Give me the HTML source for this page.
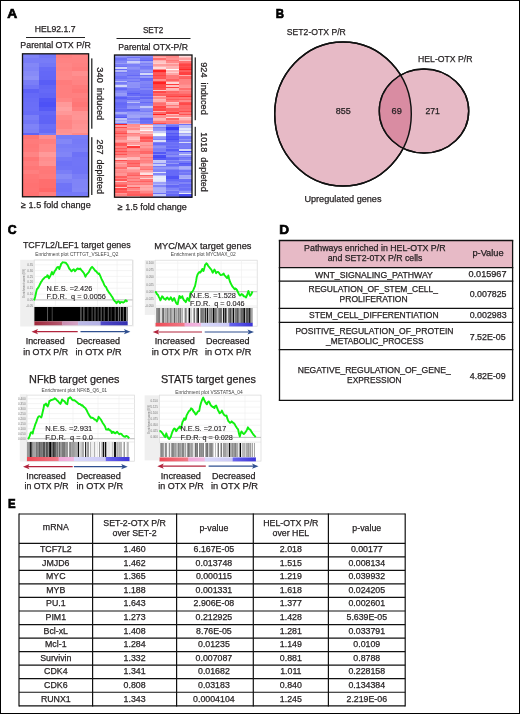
<!DOCTYPE html>
<html><head><meta charset="utf-8"><style>
html,body{margin:0;padding:0;background:#fff;}
body{width:520px;height:714px;overflow:hidden;position:relative;}
svg{position:absolute;left:0;top:0;font-family:"Liberation Sans",sans-serif;will-change:transform;}
svg text{white-space:pre;}
.frame{position:absolute;left:0;top:0;width:518px;height:712px;border:1px solid #000;}
</style></head><body>
<svg width="520" height="714" viewBox="0 0 520 714">
<text x="7.23" y="17.80" font-size="13.5" font-weight="bold" fill="#000" textLength="9.94" lengthAdjust="spacingAndGlyphs" stroke="#000" stroke-width="0.7">A</text>
<text x="275.64" y="18.00" font-size="13.5" font-weight="bold" fill="#000" textLength="8.28" lengthAdjust="spacingAndGlyphs" stroke="#000" stroke-width="0.7">B</text>
<text x="7.71" y="234.10" font-size="13.5" font-weight="bold" fill="#000" textLength="8.82" lengthAdjust="spacingAndGlyphs" stroke="#000" stroke-width="0.7">C</text>
<text x="279.20" y="233.80" font-size="13.5" font-weight="bold" fill="#000" textLength="9.79" lengthAdjust="spacingAndGlyphs" stroke="#000" stroke-width="0.7">D</text>
<text x="7.96" y="507.50" font-size="13.5" font-weight="bold" fill="#000" textLength="7.62" lengthAdjust="spacingAndGlyphs" stroke="#000" stroke-width="0.7">E</text>
<rect x="22.50" y="53.80" width="16.88" height="4.75" fill="#7f83f7" stroke="none" stroke-width="0" shape-rendering="crispEdges"/>
<rect x="22.50" y="58.20" width="16.88" height="4.75" fill="#797df7" stroke="none" stroke-width="0" shape-rendering="crispEdges"/>
<rect x="22.50" y="62.60" width="16.88" height="4.75" fill="#8387f7" stroke="none" stroke-width="0" shape-rendering="crispEdges"/>
<rect x="22.50" y="67.00" width="16.88" height="4.75" fill="#8084f7" stroke="none" stroke-width="0" shape-rendering="crispEdges"/>
<rect x="22.50" y="71.40" width="16.88" height="4.75" fill="#878bf7" stroke="none" stroke-width="0" shape-rendering="crispEdges"/>
<rect x="22.50" y="75.80" width="16.88" height="4.75" fill="#8d91f7" stroke="none" stroke-width="0" shape-rendering="crispEdges"/>
<rect x="22.50" y="80.20" width="16.88" height="4.75" fill="#7a7ef7" stroke="none" stroke-width="0" shape-rendering="crispEdges"/>
<rect x="22.50" y="84.60" width="16.88" height="4.75" fill="#7175f7" stroke="none" stroke-width="0" shape-rendering="crispEdges"/>
<rect x="22.50" y="89.00" width="16.88" height="4.75" fill="#5d61f6" stroke="none" stroke-width="0" shape-rendering="crispEdges"/>
<rect x="22.50" y="93.40" width="16.88" height="4.75" fill="#6569f7" stroke="none" stroke-width="0" shape-rendering="crispEdges"/>
<rect x="22.50" y="97.80" width="16.88" height="4.75" fill="#686cf7" stroke="none" stroke-width="0" shape-rendering="crispEdges"/>
<rect x="22.50" y="102.20" width="16.88" height="4.75" fill="#6a6ef7" stroke="none" stroke-width="0" shape-rendering="crispEdges"/>
<rect x="22.50" y="106.60" width="16.88" height="4.75" fill="#6b6ff7" stroke="none" stroke-width="0" shape-rendering="crispEdges"/>
<rect x="22.50" y="111.00" width="16.88" height="4.75" fill="#686cf7" stroke="none" stroke-width="0" shape-rendering="crispEdges"/>
<rect x="22.50" y="115.40" width="16.88" height="4.75" fill="#797df7" stroke="none" stroke-width="0" shape-rendering="crispEdges"/>
<rect x="22.50" y="119.80" width="16.88" height="4.75" fill="#7377f7" stroke="none" stroke-width="0" shape-rendering="crispEdges"/>
<rect x="22.50" y="124.20" width="16.88" height="4.75" fill="#7f83f7" stroke="none" stroke-width="0" shape-rendering="crispEdges"/>
<rect x="22.50" y="128.60" width="16.88" height="4.75" fill="#7c80f7" stroke="none" stroke-width="0" shape-rendering="crispEdges"/>
<rect x="22.50" y="133.00" width="16.88" height="2.15" fill="#6064f6" stroke="none" stroke-width="0" shape-rendering="crispEdges"/>
<rect x="22.50" y="134.80" width="16.88" height="4.75" fill="#ff7474" stroke="none" stroke-width="0" shape-rendering="crispEdges"/>
<rect x="22.50" y="139.20" width="16.88" height="4.75" fill="#ff7b7b" stroke="none" stroke-width="0" shape-rendering="crispEdges"/>
<rect x="22.50" y="143.60" width="16.88" height="4.75" fill="#ff7878" stroke="none" stroke-width="0" shape-rendering="crispEdges"/>
<rect x="22.50" y="148.00" width="16.88" height="4.75" fill="#ff7a7a" stroke="none" stroke-width="0" shape-rendering="crispEdges"/>
<rect x="22.50" y="152.40" width="16.88" height="4.75" fill="#ff8484" stroke="none" stroke-width="0" shape-rendering="crispEdges"/>
<rect x="22.50" y="156.80" width="16.88" height="4.75" fill="#ff7575" stroke="none" stroke-width="0" shape-rendering="crispEdges"/>
<rect x="22.50" y="161.20" width="16.88" height="4.75" fill="#ff7d7d" stroke="none" stroke-width="0" shape-rendering="crispEdges"/>
<rect x="22.50" y="165.60" width="16.88" height="4.75" fill="#ff7777" stroke="none" stroke-width="0" shape-rendering="crispEdges"/>
<rect x="22.50" y="170.00" width="16.88" height="4.75" fill="#ff7f7f" stroke="none" stroke-width="0" shape-rendering="crispEdges"/>
<rect x="22.50" y="174.40" width="16.88" height="4.75" fill="#ff7676" stroke="none" stroke-width="0" shape-rendering="crispEdges"/>
<rect x="22.50" y="178.80" width="16.88" height="4.75" fill="#ff7474" stroke="none" stroke-width="0" shape-rendering="crispEdges"/>
<rect x="22.50" y="183.20" width="16.88" height="4.75" fill="#ff7272" stroke="none" stroke-width="0" shape-rendering="crispEdges"/>
<rect x="22.50" y="187.60" width="16.88" height="4.75" fill="#ff7373" stroke="none" stroke-width="0" shape-rendering="crispEdges"/>
<rect x="22.50" y="192.00" width="16.88" height="4.75" fill="#ff7272" stroke="none" stroke-width="0" shape-rendering="crispEdges"/>
<rect x="22.50" y="196.40" width="16.88" height="0.75" fill="#ff7373" stroke="none" stroke-width="0" shape-rendering="crispEdges"/>
<rect x="39.02" y="53.80" width="16.88" height="4.75" fill="#7377f7" stroke="none" stroke-width="0" shape-rendering="crispEdges"/>
<rect x="39.02" y="58.20" width="16.88" height="4.75" fill="#787cf7" stroke="none" stroke-width="0" shape-rendering="crispEdges"/>
<rect x="39.02" y="62.60" width="16.88" height="4.75" fill="#7377f7" stroke="none" stroke-width="0" shape-rendering="crispEdges"/>
<rect x="39.02" y="67.00" width="16.88" height="4.75" fill="#676bf7" stroke="none" stroke-width="0" shape-rendering="crispEdges"/>
<rect x="39.02" y="71.40" width="16.88" height="4.75" fill="#6468f7" stroke="none" stroke-width="0" shape-rendering="crispEdges"/>
<rect x="39.02" y="75.80" width="16.88" height="4.75" fill="#6367f6" stroke="none" stroke-width="0" shape-rendering="crispEdges"/>
<rect x="39.02" y="80.20" width="16.88" height="4.75" fill="#595df6" stroke="none" stroke-width="0" shape-rendering="crispEdges"/>
<rect x="39.02" y="84.60" width="16.88" height="4.75" fill="#6266f6" stroke="none" stroke-width="0" shape-rendering="crispEdges"/>
<rect x="39.02" y="89.00" width="16.88" height="4.75" fill="#6569f7" stroke="none" stroke-width="0" shape-rendering="crispEdges"/>
<rect x="39.02" y="93.40" width="16.88" height="4.75" fill="#6165f6" stroke="none" stroke-width="0" shape-rendering="crispEdges"/>
<rect x="39.02" y="97.80" width="16.88" height="4.75" fill="#5256f6" stroke="none" stroke-width="0" shape-rendering="crispEdges"/>
<rect x="39.02" y="102.20" width="16.88" height="4.75" fill="#4d51f6" stroke="none" stroke-width="0" shape-rendering="crispEdges"/>
<rect x="39.02" y="106.60" width="16.88" height="4.75" fill="#565af6" stroke="none" stroke-width="0" shape-rendering="crispEdges"/>
<rect x="39.02" y="111.00" width="16.88" height="4.75" fill="#6569f7" stroke="none" stroke-width="0" shape-rendering="crispEdges"/>
<rect x="39.02" y="115.40" width="16.88" height="4.75" fill="#6064f6" stroke="none" stroke-width="0" shape-rendering="crispEdges"/>
<rect x="39.02" y="119.80" width="16.88" height="4.75" fill="#5f63f6" stroke="none" stroke-width="0" shape-rendering="crispEdges"/>
<rect x="39.02" y="124.20" width="16.88" height="4.75" fill="#6b6ff7" stroke="none" stroke-width="0" shape-rendering="crispEdges"/>
<rect x="39.02" y="128.60" width="16.88" height="4.75" fill="#676bf7" stroke="none" stroke-width="0" shape-rendering="crispEdges"/>
<rect x="39.02" y="133.00" width="16.88" height="2.15" fill="#797df7" stroke="none" stroke-width="0" shape-rendering="crispEdges"/>
<rect x="39.02" y="134.80" width="16.88" height="4.75" fill="#ff8e8e" stroke="none" stroke-width="0" shape-rendering="crispEdges"/>
<rect x="39.02" y="139.20" width="16.88" height="4.75" fill="#ff7f7f" stroke="none" stroke-width="0" shape-rendering="crispEdges"/>
<rect x="39.02" y="143.60" width="16.88" height="4.75" fill="#ff8888" stroke="none" stroke-width="0" shape-rendering="crispEdges"/>
<rect x="39.02" y="148.00" width="16.88" height="4.75" fill="#ff8888" stroke="none" stroke-width="0" shape-rendering="crispEdges"/>
<rect x="39.02" y="152.40" width="16.88" height="4.75" fill="#ff9a9a" stroke="none" stroke-width="0" shape-rendering="crispEdges"/>
<rect x="39.02" y="156.80" width="16.88" height="4.75" fill="#ff8d8d" stroke="none" stroke-width="0" shape-rendering="crispEdges"/>
<rect x="39.02" y="161.20" width="16.88" height="4.75" fill="#ff9292" stroke="none" stroke-width="0" shape-rendering="crispEdges"/>
<rect x="39.02" y="165.60" width="16.88" height="4.75" fill="#ff7a7a" stroke="none" stroke-width="0" shape-rendering="crispEdges"/>
<rect x="39.02" y="170.00" width="16.88" height="4.75" fill="#ff7878" stroke="none" stroke-width="0" shape-rendering="crispEdges"/>
<rect x="39.02" y="174.40" width="16.88" height="4.75" fill="#ff7b7b" stroke="none" stroke-width="0" shape-rendering="crispEdges"/>
<rect x="39.02" y="178.80" width="16.88" height="4.75" fill="#ff6e6e" stroke="none" stroke-width="0" shape-rendering="crispEdges"/>
<rect x="39.02" y="183.20" width="16.88" height="4.75" fill="#ff6e6e" stroke="none" stroke-width="0" shape-rendering="crispEdges"/>
<rect x="39.02" y="187.60" width="16.88" height="4.75" fill="#ff6868" stroke="none" stroke-width="0" shape-rendering="crispEdges"/>
<rect x="39.02" y="192.00" width="16.88" height="4.75" fill="#ff7e7e" stroke="none" stroke-width="0" shape-rendering="crispEdges"/>
<rect x="39.02" y="196.40" width="16.88" height="0.75" fill="#ff8585" stroke="none" stroke-width="0" shape-rendering="crispEdges"/>
<rect x="55.55" y="53.80" width="16.88" height="4.75" fill="#ff7f7f" stroke="none" stroke-width="0" shape-rendering="crispEdges"/>
<rect x="55.55" y="58.20" width="16.88" height="4.75" fill="#ff8383" stroke="none" stroke-width="0" shape-rendering="crispEdges"/>
<rect x="55.55" y="62.60" width="16.88" height="4.75" fill="#ff8686" stroke="none" stroke-width="0" shape-rendering="crispEdges"/>
<rect x="55.55" y="67.00" width="16.88" height="4.75" fill="#ff8484" stroke="none" stroke-width="0" shape-rendering="crispEdges"/>
<rect x="55.55" y="71.40" width="16.88" height="4.75" fill="#ff8888" stroke="none" stroke-width="0" shape-rendering="crispEdges"/>
<rect x="55.55" y="75.80" width="16.88" height="4.75" fill="#ff8989" stroke="none" stroke-width="0" shape-rendering="crispEdges"/>
<rect x="55.55" y="80.20" width="16.88" height="4.75" fill="#ff7c7c" stroke="none" stroke-width="0" shape-rendering="crispEdges"/>
<rect x="55.55" y="84.60" width="16.88" height="4.75" fill="#ff7f7f" stroke="none" stroke-width="0" shape-rendering="crispEdges"/>
<rect x="55.55" y="89.00" width="16.88" height="4.75" fill="#ff7f7f" stroke="none" stroke-width="0" shape-rendering="crispEdges"/>
<rect x="55.55" y="93.40" width="16.88" height="4.75" fill="#ff7f7f" stroke="none" stroke-width="0" shape-rendering="crispEdges"/>
<rect x="55.55" y="97.80" width="16.88" height="4.75" fill="#ff8686" stroke="none" stroke-width="0" shape-rendering="crispEdges"/>
<rect x="55.55" y="102.20" width="16.88" height="4.75" fill="#ff9999" stroke="none" stroke-width="0" shape-rendering="crispEdges"/>
<rect x="55.55" y="106.60" width="16.88" height="4.75" fill="#ffa1a1" stroke="none" stroke-width="0" shape-rendering="crispEdges"/>
<rect x="55.55" y="111.00" width="16.88" height="4.75" fill="#ff9898" stroke="none" stroke-width="0" shape-rendering="crispEdges"/>
<rect x="55.55" y="115.40" width="16.88" height="4.75" fill="#ff8a8a" stroke="none" stroke-width="0" shape-rendering="crispEdges"/>
<rect x="55.55" y="119.80" width="16.88" height="4.75" fill="#ff8484" stroke="none" stroke-width="0" shape-rendering="crispEdges"/>
<rect x="55.55" y="124.20" width="16.88" height="4.75" fill="#ff8585" stroke="none" stroke-width="0" shape-rendering="crispEdges"/>
<rect x="55.55" y="128.60" width="16.88" height="4.75" fill="#ff9191" stroke="none" stroke-width="0" shape-rendering="crispEdges"/>
<rect x="55.55" y="133.00" width="16.88" height="2.15" fill="#ff9595" stroke="none" stroke-width="0" shape-rendering="crispEdges"/>
<rect x="55.55" y="134.80" width="16.88" height="4.75" fill="#787cf7" stroke="none" stroke-width="0" shape-rendering="crispEdges"/>
<rect x="55.55" y="139.20" width="16.88" height="4.75" fill="#8387f7" stroke="none" stroke-width="0" shape-rendering="crispEdges"/>
<rect x="55.55" y="143.60" width="16.88" height="4.75" fill="#797df7" stroke="none" stroke-width="0" shape-rendering="crispEdges"/>
<rect x="55.55" y="148.00" width="16.88" height="4.75" fill="#7d81f7" stroke="none" stroke-width="0" shape-rendering="crispEdges"/>
<rect x="55.55" y="152.40" width="16.88" height="4.75" fill="#8185f7" stroke="none" stroke-width="0" shape-rendering="crispEdges"/>
<rect x="55.55" y="156.80" width="16.88" height="4.75" fill="#7478f7" stroke="none" stroke-width="0" shape-rendering="crispEdges"/>
<rect x="55.55" y="161.20" width="16.88" height="4.75" fill="#6e72f7" stroke="none" stroke-width="0" shape-rendering="crispEdges"/>
<rect x="55.55" y="165.60" width="16.88" height="4.75" fill="#7175f7" stroke="none" stroke-width="0" shape-rendering="crispEdges"/>
<rect x="55.55" y="170.00" width="16.88" height="4.75" fill="#7a7ef7" stroke="none" stroke-width="0" shape-rendering="crispEdges"/>
<rect x="55.55" y="174.40" width="16.88" height="4.75" fill="#878bf7" stroke="none" stroke-width="0" shape-rendering="crispEdges"/>
<rect x="55.55" y="178.80" width="16.88" height="4.75" fill="#7d81f7" stroke="none" stroke-width="0" shape-rendering="crispEdges"/>
<rect x="55.55" y="183.20" width="16.88" height="4.75" fill="#7074f7" stroke="none" stroke-width="0" shape-rendering="crispEdges"/>
<rect x="55.55" y="187.60" width="16.88" height="4.75" fill="#6f73f7" stroke="none" stroke-width="0" shape-rendering="crispEdges"/>
<rect x="55.55" y="192.00" width="16.88" height="4.75" fill="#7478f7" stroke="none" stroke-width="0" shape-rendering="crispEdges"/>
<rect x="55.55" y="196.40" width="16.88" height="0.75" fill="#7d81f7" stroke="none" stroke-width="0" shape-rendering="crispEdges"/>
<rect x="72.07" y="53.80" width="16.88" height="4.75" fill="#ff8484" stroke="none" stroke-width="0" shape-rendering="crispEdges"/>
<rect x="72.07" y="58.20" width="16.88" height="4.75" fill="#ff8383" stroke="none" stroke-width="0" shape-rendering="crispEdges"/>
<rect x="72.07" y="62.60" width="16.88" height="4.75" fill="#ff8181" stroke="none" stroke-width="0" shape-rendering="crispEdges"/>
<rect x="72.07" y="67.00" width="16.88" height="4.75" fill="#ff7d7d" stroke="none" stroke-width="0" shape-rendering="crispEdges"/>
<rect x="72.07" y="71.40" width="16.88" height="4.75" fill="#ff8f8f" stroke="none" stroke-width="0" shape-rendering="crispEdges"/>
<rect x="72.07" y="75.80" width="16.88" height="4.75" fill="#ff8686" stroke="none" stroke-width="0" shape-rendering="crispEdges"/>
<rect x="72.07" y="80.20" width="16.88" height="4.75" fill="#ff8383" stroke="none" stroke-width="0" shape-rendering="crispEdges"/>
<rect x="72.07" y="84.60" width="16.88" height="4.75" fill="#ff7b7b" stroke="none" stroke-width="0" shape-rendering="crispEdges"/>
<rect x="72.07" y="89.00" width="16.88" height="4.75" fill="#ff7777" stroke="none" stroke-width="0" shape-rendering="crispEdges"/>
<rect x="72.07" y="93.40" width="16.88" height="4.75" fill="#ff8080" stroke="none" stroke-width="0" shape-rendering="crispEdges"/>
<rect x="72.07" y="97.80" width="16.88" height="4.75" fill="#ff7b7b" stroke="none" stroke-width="0" shape-rendering="crispEdges"/>
<rect x="72.07" y="102.20" width="16.88" height="4.75" fill="#ff7676" stroke="none" stroke-width="0" shape-rendering="crispEdges"/>
<rect x="72.07" y="106.60" width="16.88" height="4.75" fill="#ff7e7e" stroke="none" stroke-width="0" shape-rendering="crispEdges"/>
<rect x="72.07" y="111.00" width="16.88" height="4.75" fill="#ff9393" stroke="none" stroke-width="0" shape-rendering="crispEdges"/>
<rect x="72.07" y="115.40" width="16.88" height="4.75" fill="#ff9595" stroke="none" stroke-width="0" shape-rendering="crispEdges"/>
<rect x="72.07" y="119.80" width="16.88" height="4.75" fill="#ff8f8f" stroke="none" stroke-width="0" shape-rendering="crispEdges"/>
<rect x="72.07" y="124.20" width="16.88" height="4.75" fill="#ff9393" stroke="none" stroke-width="0" shape-rendering="crispEdges"/>
<rect x="72.07" y="128.60" width="16.88" height="4.75" fill="#ff9696" stroke="none" stroke-width="0" shape-rendering="crispEdges"/>
<rect x="72.07" y="133.00" width="16.88" height="2.15" fill="#ff8888" stroke="none" stroke-width="0" shape-rendering="crispEdges"/>
<rect x="72.07" y="134.80" width="16.88" height="4.75" fill="#797df7" stroke="none" stroke-width="0" shape-rendering="crispEdges"/>
<rect x="72.07" y="139.20" width="16.88" height="4.75" fill="#767af7" stroke="none" stroke-width="0" shape-rendering="crispEdges"/>
<rect x="72.07" y="143.60" width="16.88" height="4.75" fill="#787cf7" stroke="none" stroke-width="0" shape-rendering="crispEdges"/>
<rect x="72.07" y="148.00" width="16.88" height="4.75" fill="#7c80f7" stroke="none" stroke-width="0" shape-rendering="crispEdges"/>
<rect x="72.07" y="152.40" width="16.88" height="4.75" fill="#6d71f7" stroke="none" stroke-width="0" shape-rendering="crispEdges"/>
<rect x="72.07" y="156.80" width="16.88" height="4.75" fill="#7175f7" stroke="none" stroke-width="0" shape-rendering="crispEdges"/>
<rect x="72.07" y="161.20" width="16.88" height="4.75" fill="#7175f7" stroke="none" stroke-width="0" shape-rendering="crispEdges"/>
<rect x="72.07" y="165.60" width="16.88" height="4.75" fill="#7074f7" stroke="none" stroke-width="0" shape-rendering="crispEdges"/>
<rect x="72.07" y="170.00" width="16.88" height="4.75" fill="#7074f7" stroke="none" stroke-width="0" shape-rendering="crispEdges"/>
<rect x="72.07" y="174.40" width="16.88" height="4.75" fill="#797df7" stroke="none" stroke-width="0" shape-rendering="crispEdges"/>
<rect x="72.07" y="178.80" width="16.88" height="4.75" fill="#8084f7" stroke="none" stroke-width="0" shape-rendering="crispEdges"/>
<rect x="72.07" y="183.20" width="16.88" height="4.75" fill="#8084f7" stroke="none" stroke-width="0" shape-rendering="crispEdges"/>
<rect x="72.07" y="187.60" width="16.88" height="4.75" fill="#8286f7" stroke="none" stroke-width="0" shape-rendering="crispEdges"/>
<rect x="72.07" y="192.00" width="16.88" height="4.75" fill="#7579f7" stroke="none" stroke-width="0" shape-rendering="crispEdges"/>
<rect x="72.07" y="196.40" width="16.88" height="0.75" fill="#7579f7" stroke="none" stroke-width="0" shape-rendering="crispEdges"/>
<rect x="22.50" y="53.80" width="66.10" height="143.00" fill="none" stroke="#111" stroke-width="1.3"/>
<rect x="114.50" y="55.00" width="13.27" height="1.85" fill="#989cf8" stroke="none" stroke-width="0" shape-rendering="crispEdges"/>
<rect x="114.50" y="56.50" width="13.27" height="1.85" fill="#8185f7" stroke="none" stroke-width="0" shape-rendering="crispEdges"/>
<rect x="114.50" y="58.00" width="13.27" height="1.85" fill="#6d71f7" stroke="none" stroke-width="0" shape-rendering="crispEdges"/>
<rect x="114.50" y="59.50" width="13.27" height="1.85" fill="#777bf7" stroke="none" stroke-width="0" shape-rendering="crispEdges"/>
<rect x="114.50" y="61.00" width="13.27" height="1.85" fill="#8488f7" stroke="none" stroke-width="0" shape-rendering="crispEdges"/>
<rect x="114.50" y="62.50" width="13.27" height="1.85" fill="#979bf8" stroke="none" stroke-width="0" shape-rendering="crispEdges"/>
<rect x="114.50" y="64.00" width="13.27" height="1.85" fill="#797df7" stroke="none" stroke-width="0" shape-rendering="crispEdges"/>
<rect x="114.50" y="65.50" width="13.27" height="1.85" fill="#6c70f7" stroke="none" stroke-width="0" shape-rendering="crispEdges"/>
<rect x="114.50" y="67.00" width="13.27" height="1.85" fill="#d1d5f9" stroke="none" stroke-width="0" shape-rendering="crispEdges"/>
<rect x="114.50" y="68.50" width="13.27" height="1.85" fill="#666af7" stroke="none" stroke-width="0" shape-rendering="crispEdges"/>
<rect x="114.50" y="70.00" width="13.27" height="1.85" fill="#b6baf8" stroke="none" stroke-width="0" shape-rendering="crispEdges"/>
<rect x="114.50" y="71.50" width="13.27" height="1.85" fill="#7074f7" stroke="none" stroke-width="0" shape-rendering="crispEdges"/>
<rect x="114.50" y="73.00" width="13.27" height="1.85" fill="#8185f7" stroke="none" stroke-width="0" shape-rendering="crispEdges"/>
<rect x="114.50" y="74.50" width="13.27" height="1.85" fill="#7f83f7" stroke="none" stroke-width="0" shape-rendering="crispEdges"/>
<rect x="114.50" y="76.00" width="13.27" height="1.85" fill="#6f73f7" stroke="none" stroke-width="0" shape-rendering="crispEdges"/>
<rect x="114.50" y="77.50" width="13.27" height="1.85" fill="#6d71f7" stroke="none" stroke-width="0" shape-rendering="crispEdges"/>
<rect x="114.50" y="79.00" width="13.27" height="1.85" fill="#8084f7" stroke="none" stroke-width="0" shape-rendering="crispEdges"/>
<rect x="114.50" y="80.50" width="13.27" height="1.85" fill="#babef9" stroke="none" stroke-width="0" shape-rendering="crispEdges"/>
<rect x="114.50" y="82.00" width="13.27" height="1.85" fill="#787cf7" stroke="none" stroke-width="0" shape-rendering="crispEdges"/>
<rect x="114.50" y="83.50" width="13.27" height="1.85" fill="#8d91f7" stroke="none" stroke-width="0" shape-rendering="crispEdges"/>
<rect x="114.50" y="85.00" width="13.27" height="1.85" fill="#d2d6f9" stroke="none" stroke-width="0" shape-rendering="crispEdges"/>
<rect x="114.50" y="86.50" width="13.27" height="1.85" fill="#8185f7" stroke="none" stroke-width="0" shape-rendering="crispEdges"/>
<rect x="114.50" y="88.00" width="13.27" height="1.85" fill="#6468f7" stroke="none" stroke-width="0" shape-rendering="crispEdges"/>
<rect x="114.50" y="89.50" width="13.27" height="1.85" fill="#7a7ef7" stroke="none" stroke-width="0" shape-rendering="crispEdges"/>
<rect x="114.50" y="91.00" width="13.27" height="1.85" fill="#868af7" stroke="none" stroke-width="0" shape-rendering="crispEdges"/>
<rect x="114.50" y="92.50" width="13.27" height="1.85" fill="#999df8" stroke="none" stroke-width="0" shape-rendering="crispEdges"/>
<rect x="114.50" y="94.00" width="13.27" height="1.85" fill="#9498f8" stroke="none" stroke-width="0" shape-rendering="crispEdges"/>
<rect x="114.50" y="95.50" width="13.27" height="1.85" fill="#7478f7" stroke="none" stroke-width="0" shape-rendering="crispEdges"/>
<rect x="114.50" y="97.00" width="13.27" height="1.85" fill="#595df6" stroke="none" stroke-width="0" shape-rendering="crispEdges"/>
<rect x="114.50" y="98.50" width="13.27" height="1.85" fill="#6c70f7" stroke="none" stroke-width="0" shape-rendering="crispEdges"/>
<rect x="114.50" y="100.00" width="13.27" height="1.85" fill="#7579f7" stroke="none" stroke-width="0" shape-rendering="crispEdges"/>
<rect x="114.50" y="101.50" width="13.27" height="1.85" fill="#686cf7" stroke="none" stroke-width="0" shape-rendering="crispEdges"/>
<rect x="114.50" y="103.00" width="13.27" height="1.85" fill="#6468f7" stroke="none" stroke-width="0" shape-rendering="crispEdges"/>
<rect x="114.50" y="104.50" width="13.27" height="1.85" fill="#686cf7" stroke="none" stroke-width="0" shape-rendering="crispEdges"/>
<rect x="114.50" y="106.00" width="13.27" height="1.85" fill="#696df7" stroke="none" stroke-width="0" shape-rendering="crispEdges"/>
<rect x="114.50" y="107.50" width="13.27" height="1.85" fill="#7478f7" stroke="none" stroke-width="0" shape-rendering="crispEdges"/>
<rect x="114.50" y="109.00" width="13.27" height="1.85" fill="#676bf7" stroke="none" stroke-width="0" shape-rendering="crispEdges"/>
<rect x="114.50" y="110.50" width="13.27" height="1.85" fill="#7074f7" stroke="none" stroke-width="0" shape-rendering="crispEdges"/>
<rect x="114.50" y="112.00" width="13.27" height="1.85" fill="#a7abf8" stroke="none" stroke-width="0" shape-rendering="crispEdges"/>
<rect x="114.50" y="113.50" width="13.27" height="1.85" fill="#8387f7" stroke="none" stroke-width="0" shape-rendering="crispEdges"/>
<rect x="114.50" y="115.00" width="13.27" height="1.85" fill="#6a6ef7" stroke="none" stroke-width="0" shape-rendering="crispEdges"/>
<rect x="114.50" y="116.50" width="13.27" height="1.85" fill="#5458f6" stroke="none" stroke-width="0" shape-rendering="crispEdges"/>
<rect x="114.50" y="118.00" width="13.27" height="1.85" fill="#bfc3f9" stroke="none" stroke-width="0" shape-rendering="crispEdges"/>
<rect x="114.50" y="119.50" width="13.27" height="1.85" fill="#a2a6f8" stroke="none" stroke-width="0" shape-rendering="crispEdges"/>
<rect x="114.50" y="121.00" width="13.27" height="1.85" fill="#b5b9f8" stroke="none" stroke-width="0" shape-rendering="crispEdges"/>
<rect x="114.50" y="122.50" width="13.27" height="1.65" fill="#777bf7" stroke="none" stroke-width="0" shape-rendering="crispEdges"/>
<rect x="114.50" y="123.80" width="13.27" height="1.85" fill="#ff2323" stroke="none" stroke-width="0" shape-rendering="crispEdges"/>
<rect x="114.50" y="125.30" width="13.27" height="1.85" fill="#ff9c9c" stroke="none" stroke-width="0" shape-rendering="crispEdges"/>
<rect x="114.50" y="126.80" width="13.27" height="1.85" fill="#ff4848" stroke="none" stroke-width="0" shape-rendering="crispEdges"/>
<rect x="114.50" y="128.30" width="13.27" height="1.85" fill="#ff8383" stroke="none" stroke-width="0" shape-rendering="crispEdges"/>
<rect x="114.50" y="129.80" width="13.27" height="1.85" fill="#ff8282" stroke="none" stroke-width="0" shape-rendering="crispEdges"/>
<rect x="114.50" y="131.30" width="13.27" height="1.85" fill="#ff6a6a" stroke="none" stroke-width="0" shape-rendering="crispEdges"/>
<rect x="114.50" y="132.80" width="13.27" height="1.85" fill="#ff4b4b" stroke="none" stroke-width="0" shape-rendering="crispEdges"/>
<rect x="114.50" y="134.30" width="13.27" height="1.85" fill="#ff7d7d" stroke="none" stroke-width="0" shape-rendering="crispEdges"/>
<rect x="114.50" y="135.80" width="13.27" height="1.85" fill="#ff6c6c" stroke="none" stroke-width="0" shape-rendering="crispEdges"/>
<rect x="114.50" y="137.30" width="13.27" height="1.85" fill="#ff8484" stroke="none" stroke-width="0" shape-rendering="crispEdges"/>
<rect x="114.50" y="138.80" width="13.27" height="1.85" fill="#ff8a8a" stroke="none" stroke-width="0" shape-rendering="crispEdges"/>
<rect x="114.50" y="140.30" width="13.27" height="1.85" fill="#ffa4a4" stroke="none" stroke-width="0" shape-rendering="crispEdges"/>
<rect x="114.50" y="141.80" width="13.27" height="1.85" fill="#ff8787" stroke="none" stroke-width="0" shape-rendering="crispEdges"/>
<rect x="114.50" y="143.30" width="13.27" height="1.85" fill="#ff5656" stroke="none" stroke-width="0" shape-rendering="crispEdges"/>
<rect x="114.50" y="144.80" width="13.27" height="1.85" fill="#ff5a5a" stroke="none" stroke-width="0" shape-rendering="crispEdges"/>
<rect x="114.50" y="146.30" width="13.27" height="1.85" fill="#ff8181" stroke="none" stroke-width="0" shape-rendering="crispEdges"/>
<rect x="114.50" y="147.80" width="13.27" height="1.85" fill="#ff5b5b" stroke="none" stroke-width="0" shape-rendering="crispEdges"/>
<rect x="114.50" y="149.30" width="13.27" height="1.85" fill="#ff7474" stroke="none" stroke-width="0" shape-rendering="crispEdges"/>
<rect x="114.50" y="150.80" width="13.27" height="1.85" fill="#ff4e4e" stroke="none" stroke-width="0" shape-rendering="crispEdges"/>
<rect x="114.50" y="152.30" width="13.27" height="1.85" fill="#ff7676" stroke="none" stroke-width="0" shape-rendering="crispEdges"/>
<rect x="114.50" y="153.80" width="13.27" height="1.85" fill="#ff5353" stroke="none" stroke-width="0" shape-rendering="crispEdges"/>
<rect x="114.50" y="155.30" width="13.27" height="1.85" fill="#ff8888" stroke="none" stroke-width="0" shape-rendering="crispEdges"/>
<rect x="114.50" y="156.80" width="13.27" height="1.85" fill="#ff9a9a" stroke="none" stroke-width="0" shape-rendering="crispEdges"/>
<rect x="114.50" y="158.30" width="13.27" height="1.85" fill="#ffcdcd" stroke="none" stroke-width="0" shape-rendering="crispEdges"/>
<rect x="114.50" y="159.80" width="13.27" height="1.85" fill="#ff4d4d" stroke="none" stroke-width="0" shape-rendering="crispEdges"/>
<rect x="114.50" y="161.30" width="13.27" height="1.85" fill="#ff8686" stroke="none" stroke-width="0" shape-rendering="crispEdges"/>
<rect x="114.50" y="162.80" width="13.27" height="1.85" fill="#ffa9a9" stroke="none" stroke-width="0" shape-rendering="crispEdges"/>
<rect x="114.50" y="164.30" width="13.27" height="1.85" fill="#ff9191" stroke="none" stroke-width="0" shape-rendering="crispEdges"/>
<rect x="114.50" y="165.80" width="13.27" height="1.85" fill="#ff8e8e" stroke="none" stroke-width="0" shape-rendering="crispEdges"/>
<rect x="114.50" y="167.30" width="13.27" height="1.85" fill="#ff6e6e" stroke="none" stroke-width="0" shape-rendering="crispEdges"/>
<rect x="114.50" y="168.80" width="13.27" height="1.85" fill="#ff9898" stroke="none" stroke-width="0" shape-rendering="crispEdges"/>
<rect x="114.50" y="170.30" width="13.27" height="1.85" fill="#ff8c8c" stroke="none" stroke-width="0" shape-rendering="crispEdges"/>
<rect x="114.50" y="171.80" width="13.27" height="1.85" fill="#ff8686" stroke="none" stroke-width="0" shape-rendering="crispEdges"/>
<rect x="114.50" y="173.30" width="13.27" height="1.85" fill="#ff9595" stroke="none" stroke-width="0" shape-rendering="crispEdges"/>
<rect x="114.50" y="174.80" width="13.27" height="1.85" fill="#ff9393" stroke="none" stroke-width="0" shape-rendering="crispEdges"/>
<rect x="114.50" y="176.30" width="13.27" height="1.85" fill="#ff5e5e" stroke="none" stroke-width="0" shape-rendering="crispEdges"/>
<rect x="114.50" y="177.80" width="13.27" height="1.85" fill="#ff8080" stroke="none" stroke-width="0" shape-rendering="crispEdges"/>
<rect x="114.50" y="179.30" width="13.27" height="1.85" fill="#ff5757" stroke="none" stroke-width="0" shape-rendering="crispEdges"/>
<rect x="114.50" y="180.80" width="13.27" height="1.85" fill="#ffc4c4" stroke="none" stroke-width="0" shape-rendering="crispEdges"/>
<rect x="114.50" y="182.30" width="13.27" height="1.85" fill="#ff7979" stroke="none" stroke-width="0" shape-rendering="crispEdges"/>
<rect x="114.50" y="183.80" width="13.27" height="1.85" fill="#ff6969" stroke="none" stroke-width="0" shape-rendering="crispEdges"/>
<rect x="114.50" y="185.30" width="13.27" height="1.85" fill="#ff5252" stroke="none" stroke-width="0" shape-rendering="crispEdges"/>
<rect x="114.50" y="186.80" width="13.27" height="1.85" fill="#ffbebe" stroke="none" stroke-width="0" shape-rendering="crispEdges"/>
<rect x="114.50" y="188.30" width="13.27" height="1.85" fill="#ff4848" stroke="none" stroke-width="0" shape-rendering="crispEdges"/>
<rect x="114.50" y="189.80" width="13.27" height="1.85" fill="#ff6262" stroke="none" stroke-width="0" shape-rendering="crispEdges"/>
<rect x="114.50" y="191.30" width="13.27" height="1.85" fill="#ff5858" stroke="none" stroke-width="0" shape-rendering="crispEdges"/>
<rect x="114.50" y="192.80" width="13.27" height="1.85" fill="#ff9797" stroke="none" stroke-width="0" shape-rendering="crispEdges"/>
<rect x="114.50" y="194.30" width="13.27" height="1.85" fill="#ff8282" stroke="none" stroke-width="0" shape-rendering="crispEdges"/>
<rect x="114.50" y="195.80" width="13.27" height="1.75" fill="#ffa2a2" stroke="none" stroke-width="0" shape-rendering="crispEdges"/>
<rect x="127.42" y="55.00" width="13.27" height="1.85" fill="#9397f8" stroke="none" stroke-width="0" shape-rendering="crispEdges"/>
<rect x="127.42" y="56.50" width="13.27" height="1.85" fill="#6f73f7" stroke="none" stroke-width="0" shape-rendering="crispEdges"/>
<rect x="127.42" y="58.00" width="13.27" height="1.85" fill="#9498f8" stroke="none" stroke-width="0" shape-rendering="crispEdges"/>
<rect x="127.42" y="59.50" width="13.27" height="1.85" fill="#8387f7" stroke="none" stroke-width="0" shape-rendering="crispEdges"/>
<rect x="127.42" y="61.00" width="13.27" height="1.85" fill="#cdd1f9" stroke="none" stroke-width="0" shape-rendering="crispEdges"/>
<rect x="127.42" y="62.50" width="13.27" height="1.85" fill="#a9adf8" stroke="none" stroke-width="0" shape-rendering="crispEdges"/>
<rect x="127.42" y="64.00" width="13.27" height="1.85" fill="#7c80f7" stroke="none" stroke-width="0" shape-rendering="crispEdges"/>
<rect x="127.42" y="65.50" width="13.27" height="1.85" fill="#7f83f7" stroke="none" stroke-width="0" shape-rendering="crispEdges"/>
<rect x="127.42" y="67.00" width="13.27" height="1.85" fill="#8e92f7" stroke="none" stroke-width="0" shape-rendering="crispEdges"/>
<rect x="127.42" y="68.50" width="13.27" height="1.85" fill="#868af7" stroke="none" stroke-width="0" shape-rendering="crispEdges"/>
<rect x="127.42" y="70.00" width="13.27" height="1.85" fill="#777bf7" stroke="none" stroke-width="0" shape-rendering="crispEdges"/>
<rect x="127.42" y="71.50" width="13.27" height="1.85" fill="#7b7ff7" stroke="none" stroke-width="0" shape-rendering="crispEdges"/>
<rect x="127.42" y="73.00" width="13.27" height="1.85" fill="#777bf7" stroke="none" stroke-width="0" shape-rendering="crispEdges"/>
<rect x="127.42" y="74.50" width="13.27" height="1.85" fill="#6569f7" stroke="none" stroke-width="0" shape-rendering="crispEdges"/>
<rect x="127.42" y="76.00" width="13.27" height="1.85" fill="#8084f7" stroke="none" stroke-width="0" shape-rendering="crispEdges"/>
<rect x="127.42" y="77.50" width="13.27" height="1.85" fill="#7175f7" stroke="none" stroke-width="0" shape-rendering="crispEdges"/>
<rect x="127.42" y="79.00" width="13.27" height="1.85" fill="#8387f7" stroke="none" stroke-width="0" shape-rendering="crispEdges"/>
<rect x="127.42" y="80.50" width="13.27" height="1.85" fill="#7175f7" stroke="none" stroke-width="0" shape-rendering="crispEdges"/>
<rect x="127.42" y="82.00" width="13.27" height="1.85" fill="#8f93f8" stroke="none" stroke-width="0" shape-rendering="crispEdges"/>
<rect x="127.42" y="83.50" width="13.27" height="1.85" fill="#8d91f7" stroke="none" stroke-width="0" shape-rendering="crispEdges"/>
<rect x="127.42" y="85.00" width="13.27" height="1.85" fill="#8c90f7" stroke="none" stroke-width="0" shape-rendering="crispEdges"/>
<rect x="127.42" y="86.50" width="13.27" height="1.85" fill="#8f93f8" stroke="none" stroke-width="0" shape-rendering="crispEdges"/>
<rect x="127.42" y="88.00" width="13.27" height="1.85" fill="#777bf7" stroke="none" stroke-width="0" shape-rendering="crispEdges"/>
<rect x="127.42" y="89.50" width="13.27" height="1.85" fill="#777bf7" stroke="none" stroke-width="0" shape-rendering="crispEdges"/>
<rect x="127.42" y="91.00" width="13.27" height="1.85" fill="#6e72f7" stroke="none" stroke-width="0" shape-rendering="crispEdges"/>
<rect x="127.42" y="92.50" width="13.27" height="1.85" fill="#585cf6" stroke="none" stroke-width="0" shape-rendering="crispEdges"/>
<rect x="127.42" y="94.00" width="13.27" height="1.85" fill="#676bf7" stroke="none" stroke-width="0" shape-rendering="crispEdges"/>
<rect x="127.42" y="95.50" width="13.27" height="1.85" fill="#898df7" stroke="none" stroke-width="0" shape-rendering="crispEdges"/>
<rect x="127.42" y="97.00" width="13.27" height="1.85" fill="#6a6ef7" stroke="none" stroke-width="0" shape-rendering="crispEdges"/>
<rect x="127.42" y="98.50" width="13.27" height="1.85" fill="#6165f6" stroke="none" stroke-width="0" shape-rendering="crispEdges"/>
<rect x="127.42" y="100.00" width="13.27" height="1.85" fill="#8f93f8" stroke="none" stroke-width="0" shape-rendering="crispEdges"/>
<rect x="127.42" y="101.50" width="13.27" height="1.85" fill="#babef9" stroke="none" stroke-width="0" shape-rendering="crispEdges"/>
<rect x="127.42" y="103.00" width="13.27" height="1.85" fill="#787cf7" stroke="none" stroke-width="0" shape-rendering="crispEdges"/>
<rect x="127.42" y="104.50" width="13.27" height="1.85" fill="#7f83f7" stroke="none" stroke-width="0" shape-rendering="crispEdges"/>
<rect x="127.42" y="106.00" width="13.27" height="1.85" fill="#8d91f7" stroke="none" stroke-width="0" shape-rendering="crispEdges"/>
<rect x="127.42" y="107.50" width="13.27" height="1.85" fill="#9094f8" stroke="none" stroke-width="0" shape-rendering="crispEdges"/>
<rect x="127.42" y="109.00" width="13.27" height="1.85" fill="#6165f6" stroke="none" stroke-width="0" shape-rendering="crispEdges"/>
<rect x="127.42" y="110.50" width="13.27" height="1.85" fill="#7e82f7" stroke="none" stroke-width="0" shape-rendering="crispEdges"/>
<rect x="127.42" y="112.00" width="13.27" height="1.85" fill="#9296f8" stroke="none" stroke-width="0" shape-rendering="crispEdges"/>
<rect x="127.42" y="113.50" width="13.27" height="1.85" fill="#979bf8" stroke="none" stroke-width="0" shape-rendering="crispEdges"/>
<rect x="127.42" y="115.00" width="13.27" height="1.85" fill="#a0a4f8" stroke="none" stroke-width="0" shape-rendering="crispEdges"/>
<rect x="127.42" y="116.50" width="13.27" height="1.85" fill="#a1a5f8" stroke="none" stroke-width="0" shape-rendering="crispEdges"/>
<rect x="127.42" y="118.00" width="13.27" height="1.85" fill="#8387f7" stroke="none" stroke-width="0" shape-rendering="crispEdges"/>
<rect x="127.42" y="119.50" width="13.27" height="1.85" fill="#9ca0f8" stroke="none" stroke-width="0" shape-rendering="crispEdges"/>
<rect x="127.42" y="121.00" width="13.27" height="1.85" fill="#898df7" stroke="none" stroke-width="0" shape-rendering="crispEdges"/>
<rect x="127.42" y="122.50" width="13.27" height="1.65" fill="#a5a9f8" stroke="none" stroke-width="0" shape-rendering="crispEdges"/>
<rect x="127.42" y="123.80" width="13.27" height="1.85" fill="#ff8b8b" stroke="none" stroke-width="0" shape-rendering="crispEdges"/>
<rect x="127.42" y="125.30" width="13.27" height="1.85" fill="#ff9090" stroke="none" stroke-width="0" shape-rendering="crispEdges"/>
<rect x="127.42" y="126.80" width="13.27" height="1.85" fill="#ffa0a0" stroke="none" stroke-width="0" shape-rendering="crispEdges"/>
<rect x="127.42" y="128.30" width="13.27" height="1.85" fill="#ff8a8a" stroke="none" stroke-width="0" shape-rendering="crispEdges"/>
<rect x="127.42" y="129.80" width="13.27" height="1.85" fill="#ffbcbc" stroke="none" stroke-width="0" shape-rendering="crispEdges"/>
<rect x="127.42" y="131.30" width="13.27" height="1.85" fill="#ffc2c2" stroke="none" stroke-width="0" shape-rendering="crispEdges"/>
<rect x="127.42" y="132.80" width="13.27" height="1.85" fill="#ff7f7f" stroke="none" stroke-width="0" shape-rendering="crispEdges"/>
<rect x="127.42" y="134.30" width="13.27" height="1.85" fill="#ff9090" stroke="none" stroke-width="0" shape-rendering="crispEdges"/>
<rect x="127.42" y="135.80" width="13.27" height="1.85" fill="#ffa9a9" stroke="none" stroke-width="0" shape-rendering="crispEdges"/>
<rect x="127.42" y="137.30" width="13.27" height="1.85" fill="#ffc1c1" stroke="none" stroke-width="0" shape-rendering="crispEdges"/>
<rect x="127.42" y="138.80" width="13.27" height="1.85" fill="#ffc9c9" stroke="none" stroke-width="0" shape-rendering="crispEdges"/>
<rect x="127.42" y="140.30" width="13.27" height="1.85" fill="#ffa9a9" stroke="none" stroke-width="0" shape-rendering="crispEdges"/>
<rect x="127.42" y="141.80" width="13.27" height="1.85" fill="#ff8b8b" stroke="none" stroke-width="0" shape-rendering="crispEdges"/>
<rect x="127.42" y="143.30" width="13.27" height="1.85" fill="#ff9b9b" stroke="none" stroke-width="0" shape-rendering="crispEdges"/>
<rect x="127.42" y="144.80" width="13.27" height="1.85" fill="#ffd1d1" stroke="none" stroke-width="0" shape-rendering="crispEdges"/>
<rect x="127.42" y="146.30" width="13.27" height="1.85" fill="#ff3939" stroke="none" stroke-width="0" shape-rendering="crispEdges"/>
<rect x="127.42" y="147.80" width="13.27" height="1.85" fill="#ff8383" stroke="none" stroke-width="0" shape-rendering="crispEdges"/>
<rect x="127.42" y="149.30" width="13.27" height="1.85" fill="#ff9191" stroke="none" stroke-width="0" shape-rendering="crispEdges"/>
<rect x="127.42" y="150.80" width="13.27" height="1.85" fill="#ff7575" stroke="none" stroke-width="0" shape-rendering="crispEdges"/>
<rect x="127.42" y="152.30" width="13.27" height="1.85" fill="#ff8080" stroke="none" stroke-width="0" shape-rendering="crispEdges"/>
<rect x="127.42" y="153.80" width="13.27" height="1.85" fill="#ff8585" stroke="none" stroke-width="0" shape-rendering="crispEdges"/>
<rect x="127.42" y="155.30" width="13.27" height="1.85" fill="#ff8989" stroke="none" stroke-width="0" shape-rendering="crispEdges"/>
<rect x="127.42" y="156.80" width="13.27" height="1.85" fill="#ffb7b7" stroke="none" stroke-width="0" shape-rendering="crispEdges"/>
<rect x="127.42" y="158.30" width="13.27" height="1.85" fill="#ffbaba" stroke="none" stroke-width="0" shape-rendering="crispEdges"/>
<rect x="127.42" y="159.80" width="13.27" height="1.85" fill="#ff6d6d" stroke="none" stroke-width="0" shape-rendering="crispEdges"/>
<rect x="127.42" y="161.30" width="13.27" height="1.85" fill="#ff6f6f" stroke="none" stroke-width="0" shape-rendering="crispEdges"/>
<rect x="127.42" y="162.80" width="13.27" height="1.85" fill="#ff5858" stroke="none" stroke-width="0" shape-rendering="crispEdges"/>
<rect x="127.42" y="164.30" width="13.27" height="1.85" fill="#ff7272" stroke="none" stroke-width="0" shape-rendering="crispEdges"/>
<rect x="127.42" y="165.80" width="13.27" height="1.85" fill="#ff6262" stroke="none" stroke-width="0" shape-rendering="crispEdges"/>
<rect x="127.42" y="167.30" width="13.27" height="1.85" fill="#ffbaba" stroke="none" stroke-width="0" shape-rendering="crispEdges"/>
<rect x="127.42" y="168.80" width="13.27" height="1.85" fill="#ffa4a4" stroke="none" stroke-width="0" shape-rendering="crispEdges"/>
<rect x="127.42" y="170.30" width="13.27" height="1.85" fill="#ff9797" stroke="none" stroke-width="0" shape-rendering="crispEdges"/>
<rect x="127.42" y="171.80" width="13.27" height="1.85" fill="#ff8282" stroke="none" stroke-width="0" shape-rendering="crispEdges"/>
<rect x="127.42" y="173.30" width="13.27" height="1.85" fill="#ff7272" stroke="none" stroke-width="0" shape-rendering="crispEdges"/>
<rect x="127.42" y="174.80" width="13.27" height="1.85" fill="#ff5e5e" stroke="none" stroke-width="0" shape-rendering="crispEdges"/>
<rect x="127.42" y="176.30" width="13.27" height="1.85" fill="#ff8888" stroke="none" stroke-width="0" shape-rendering="crispEdges"/>
<rect x="127.42" y="177.80" width="13.27" height="1.85" fill="#ff7373" stroke="none" stroke-width="0" shape-rendering="crispEdges"/>
<rect x="127.42" y="179.30" width="13.27" height="1.85" fill="#ff8d8d" stroke="none" stroke-width="0" shape-rendering="crispEdges"/>
<rect x="127.42" y="180.80" width="13.27" height="1.85" fill="#ff6969" stroke="none" stroke-width="0" shape-rendering="crispEdges"/>
<rect x="127.42" y="182.30" width="13.27" height="1.85" fill="#ff8989" stroke="none" stroke-width="0" shape-rendering="crispEdges"/>
<rect x="127.42" y="183.80" width="13.27" height="1.85" fill="#ff7979" stroke="none" stroke-width="0" shape-rendering="crispEdges"/>
<rect x="127.42" y="185.30" width="13.27" height="1.85" fill="#ffa5a5" stroke="none" stroke-width="0" shape-rendering="crispEdges"/>
<rect x="127.42" y="186.80" width="13.27" height="1.85" fill="#ff5858" stroke="none" stroke-width="0" shape-rendering="crispEdges"/>
<rect x="127.42" y="188.30" width="13.27" height="1.85" fill="#ff8484" stroke="none" stroke-width="0" shape-rendering="crispEdges"/>
<rect x="127.42" y="189.80" width="13.27" height="1.85" fill="#ff9999" stroke="none" stroke-width="0" shape-rendering="crispEdges"/>
<rect x="127.42" y="191.30" width="13.27" height="1.85" fill="#ff6464" stroke="none" stroke-width="0" shape-rendering="crispEdges"/>
<rect x="127.42" y="192.80" width="13.27" height="1.85" fill="#ff6666" stroke="none" stroke-width="0" shape-rendering="crispEdges"/>
<rect x="127.42" y="194.30" width="13.27" height="1.85" fill="#ff5b5b" stroke="none" stroke-width="0" shape-rendering="crispEdges"/>
<rect x="127.42" y="195.80" width="13.27" height="1.75" fill="#ffc3c3" stroke="none" stroke-width="0" shape-rendering="crispEdges"/>
<rect x="140.33" y="55.00" width="13.27" height="1.85" fill="#8589f7" stroke="none" stroke-width="0" shape-rendering="crispEdges"/>
<rect x="140.33" y="56.50" width="13.27" height="1.85" fill="#787cf7" stroke="none" stroke-width="0" shape-rendering="crispEdges"/>
<rect x="140.33" y="58.00" width="13.27" height="1.85" fill="#7175f7" stroke="none" stroke-width="0" shape-rendering="crispEdges"/>
<rect x="140.33" y="59.50" width="13.27" height="1.85" fill="#6064f6" stroke="none" stroke-width="0" shape-rendering="crispEdges"/>
<rect x="140.33" y="61.00" width="13.27" height="1.85" fill="#9b9ff8" stroke="none" stroke-width="0" shape-rendering="crispEdges"/>
<rect x="140.33" y="62.50" width="13.27" height="1.85" fill="#7e82f7" stroke="none" stroke-width="0" shape-rendering="crispEdges"/>
<rect x="140.33" y="64.00" width="13.27" height="1.85" fill="#898df7" stroke="none" stroke-width="0" shape-rendering="crispEdges"/>
<rect x="140.33" y="65.50" width="13.27" height="1.85" fill="#7276f7" stroke="none" stroke-width="0" shape-rendering="crispEdges"/>
<rect x="140.33" y="67.00" width="13.27" height="1.85" fill="#777bf7" stroke="none" stroke-width="0" shape-rendering="crispEdges"/>
<rect x="140.33" y="68.50" width="13.27" height="1.85" fill="#8589f7" stroke="none" stroke-width="0" shape-rendering="crispEdges"/>
<rect x="140.33" y="70.00" width="13.27" height="1.85" fill="#9599f8" stroke="none" stroke-width="0" shape-rendering="crispEdges"/>
<rect x="140.33" y="71.50" width="13.27" height="1.85" fill="#8286f7" stroke="none" stroke-width="0" shape-rendering="crispEdges"/>
<rect x="140.33" y="73.00" width="13.27" height="1.85" fill="#d5d9f9" stroke="none" stroke-width="0" shape-rendering="crispEdges"/>
<rect x="140.33" y="74.50" width="13.27" height="1.85" fill="#7175f7" stroke="none" stroke-width="0" shape-rendering="crispEdges"/>
<rect x="140.33" y="76.00" width="13.27" height="1.85" fill="#989cf8" stroke="none" stroke-width="0" shape-rendering="crispEdges"/>
<rect x="140.33" y="77.50" width="13.27" height="1.85" fill="#676bf7" stroke="none" stroke-width="0" shape-rendering="crispEdges"/>
<rect x="140.33" y="79.00" width="13.27" height="1.85" fill="#6b6ff7" stroke="none" stroke-width="0" shape-rendering="crispEdges"/>
<rect x="140.33" y="80.50" width="13.27" height="1.85" fill="#8387f7" stroke="none" stroke-width="0" shape-rendering="crispEdges"/>
<rect x="140.33" y="82.00" width="13.27" height="1.85" fill="#8185f7" stroke="none" stroke-width="0" shape-rendering="crispEdges"/>
<rect x="140.33" y="83.50" width="13.27" height="1.85" fill="#797df7" stroke="none" stroke-width="0" shape-rendering="crispEdges"/>
<rect x="140.33" y="85.00" width="13.27" height="1.85" fill="#7c80f7" stroke="none" stroke-width="0" shape-rendering="crispEdges"/>
<rect x="140.33" y="86.50" width="13.27" height="1.85" fill="#7175f7" stroke="none" stroke-width="0" shape-rendering="crispEdges"/>
<rect x="140.33" y="88.00" width="13.27" height="1.85" fill="#8488f7" stroke="none" stroke-width="0" shape-rendering="crispEdges"/>
<rect x="140.33" y="89.50" width="13.27" height="1.85" fill="#6f73f7" stroke="none" stroke-width="0" shape-rendering="crispEdges"/>
<rect x="140.33" y="91.00" width="13.27" height="1.85" fill="#6f73f7" stroke="none" stroke-width="0" shape-rendering="crispEdges"/>
<rect x="140.33" y="92.50" width="13.27" height="1.85" fill="#6d71f7" stroke="none" stroke-width="0" shape-rendering="crispEdges"/>
<rect x="140.33" y="94.00" width="13.27" height="1.85" fill="#6367f6" stroke="none" stroke-width="0" shape-rendering="crispEdges"/>
<rect x="140.33" y="95.50" width="13.27" height="1.85" fill="#7b7ff7" stroke="none" stroke-width="0" shape-rendering="crispEdges"/>
<rect x="140.33" y="97.00" width="13.27" height="1.85" fill="#6266f6" stroke="none" stroke-width="0" shape-rendering="crispEdges"/>
<rect x="140.33" y="98.50" width="13.27" height="1.85" fill="#8185f7" stroke="none" stroke-width="0" shape-rendering="crispEdges"/>
<rect x="140.33" y="100.00" width="13.27" height="1.85" fill="#7d81f7" stroke="none" stroke-width="0" shape-rendering="crispEdges"/>
<rect x="140.33" y="101.50" width="13.27" height="1.85" fill="#666af7" stroke="none" stroke-width="0" shape-rendering="crispEdges"/>
<rect x="140.33" y="103.00" width="13.27" height="1.85" fill="#7b7ff7" stroke="none" stroke-width="0" shape-rendering="crispEdges"/>
<rect x="140.33" y="104.50" width="13.27" height="1.85" fill="#8185f7" stroke="none" stroke-width="0" shape-rendering="crispEdges"/>
<rect x="140.33" y="106.00" width="13.27" height="1.85" fill="#c4c8f9" stroke="none" stroke-width="0" shape-rendering="crispEdges"/>
<rect x="140.33" y="107.50" width="13.27" height="1.85" fill="#8b8ff7" stroke="none" stroke-width="0" shape-rendering="crispEdges"/>
<rect x="140.33" y="109.00" width="13.27" height="1.85" fill="#8488f7" stroke="none" stroke-width="0" shape-rendering="crispEdges"/>
<rect x="140.33" y="110.50" width="13.27" height="1.85" fill="#787cf7" stroke="none" stroke-width="0" shape-rendering="crispEdges"/>
<rect x="140.33" y="112.00" width="13.27" height="1.85" fill="#969af8" stroke="none" stroke-width="0" shape-rendering="crispEdges"/>
<rect x="140.33" y="113.50" width="13.27" height="1.85" fill="#8e92f7" stroke="none" stroke-width="0" shape-rendering="crispEdges"/>
<rect x="140.33" y="115.00" width="13.27" height="1.85" fill="#9ea2f8" stroke="none" stroke-width="0" shape-rendering="crispEdges"/>
<rect x="140.33" y="116.50" width="13.27" height="1.85" fill="#8d91f7" stroke="none" stroke-width="0" shape-rendering="crispEdges"/>
<rect x="140.33" y="118.00" width="13.27" height="1.85" fill="#6266f6" stroke="none" stroke-width="0" shape-rendering="crispEdges"/>
<rect x="140.33" y="119.50" width="13.27" height="1.85" fill="#6e72f7" stroke="none" stroke-width="0" shape-rendering="crispEdges"/>
<rect x="140.33" y="121.00" width="13.27" height="1.85" fill="#6a6ef7" stroke="none" stroke-width="0" shape-rendering="crispEdges"/>
<rect x="140.33" y="122.50" width="13.27" height="1.65" fill="#7579f7" stroke="none" stroke-width="0" shape-rendering="crispEdges"/>
<rect x="140.33" y="123.80" width="13.27" height="1.85" fill="#ff8181" stroke="none" stroke-width="0" shape-rendering="crispEdges"/>
<rect x="140.33" y="125.30" width="13.27" height="1.85" fill="#ffdbdb" stroke="none" stroke-width="0" shape-rendering="crispEdges"/>
<rect x="140.33" y="126.80" width="13.27" height="1.85" fill="#ffa8a8" stroke="none" stroke-width="0" shape-rendering="crispEdges"/>
<rect x="140.33" y="128.30" width="13.27" height="1.85" fill="#ffd1d1" stroke="none" stroke-width="0" shape-rendering="crispEdges"/>
<rect x="140.33" y="129.80" width="13.27" height="1.85" fill="#fffafa" stroke="none" stroke-width="0" shape-rendering="crispEdges"/>
<rect x="140.33" y="131.30" width="13.27" height="1.85" fill="#ffb1b1" stroke="none" stroke-width="0" shape-rendering="crispEdges"/>
<rect x="140.33" y="132.80" width="13.27" height="1.85" fill="#ffc3c3" stroke="none" stroke-width="0" shape-rendering="crispEdges"/>
<rect x="140.33" y="134.30" width="13.27" height="1.85" fill="#ff8d8d" stroke="none" stroke-width="0" shape-rendering="crispEdges"/>
<rect x="140.33" y="135.80" width="13.27" height="1.85" fill="#ff6e6e" stroke="none" stroke-width="0" shape-rendering="crispEdges"/>
<rect x="140.33" y="137.30" width="13.27" height="1.85" fill="#ff4e4e" stroke="none" stroke-width="0" shape-rendering="crispEdges"/>
<rect x="140.33" y="138.80" width="13.27" height="1.85" fill="#ff6d6d" stroke="none" stroke-width="0" shape-rendering="crispEdges"/>
<rect x="140.33" y="140.30" width="13.27" height="1.85" fill="#ff6060" stroke="none" stroke-width="0" shape-rendering="crispEdges"/>
<rect x="140.33" y="141.80" width="13.27" height="1.85" fill="#ff9e9e" stroke="none" stroke-width="0" shape-rendering="crispEdges"/>
<rect x="140.33" y="143.30" width="13.27" height="1.85" fill="#ff9c9c" stroke="none" stroke-width="0" shape-rendering="crispEdges"/>
<rect x="140.33" y="144.80" width="13.27" height="1.85" fill="#ff8989" stroke="none" stroke-width="0" shape-rendering="crispEdges"/>
<rect x="140.33" y="146.30" width="13.27" height="1.85" fill="#ff9a9a" stroke="none" stroke-width="0" shape-rendering="crispEdges"/>
<rect x="140.33" y="147.80" width="13.27" height="1.85" fill="#ff8686" stroke="none" stroke-width="0" shape-rendering="crispEdges"/>
<rect x="140.33" y="149.30" width="13.27" height="1.85" fill="#ff7e7e" stroke="none" stroke-width="0" shape-rendering="crispEdges"/>
<rect x="140.33" y="150.80" width="13.27" height="1.85" fill="#ff6666" stroke="none" stroke-width="0" shape-rendering="crispEdges"/>
<rect x="140.33" y="152.30" width="13.27" height="1.85" fill="#ff6868" stroke="none" stroke-width="0" shape-rendering="crispEdges"/>
<rect x="140.33" y="153.80" width="13.27" height="1.85" fill="#ff9999" stroke="none" stroke-width="0" shape-rendering="crispEdges"/>
<rect x="140.33" y="155.30" width="13.27" height="1.85" fill="#ff9696" stroke="none" stroke-width="0" shape-rendering="crispEdges"/>
<rect x="140.33" y="156.80" width="13.27" height="1.85" fill="#ff7575" stroke="none" stroke-width="0" shape-rendering="crispEdges"/>
<rect x="140.33" y="158.30" width="13.27" height="1.85" fill="#ff8b8b" stroke="none" stroke-width="0" shape-rendering="crispEdges"/>
<rect x="140.33" y="159.80" width="13.27" height="1.85" fill="#ff7c7c" stroke="none" stroke-width="0" shape-rendering="crispEdges"/>
<rect x="140.33" y="161.30" width="13.27" height="1.85" fill="#ff8383" stroke="none" stroke-width="0" shape-rendering="crispEdges"/>
<rect x="140.33" y="162.80" width="13.27" height="1.85" fill="#ff9999" stroke="none" stroke-width="0" shape-rendering="crispEdges"/>
<rect x="140.33" y="164.30" width="13.27" height="1.85" fill="#ffadad" stroke="none" stroke-width="0" shape-rendering="crispEdges"/>
<rect x="140.33" y="165.80" width="13.27" height="1.85" fill="#ff8585" stroke="none" stroke-width="0" shape-rendering="crispEdges"/>
<rect x="140.33" y="167.30" width="13.27" height="1.85" fill="#ff8585" stroke="none" stroke-width="0" shape-rendering="crispEdges"/>
<rect x="140.33" y="168.80" width="13.27" height="1.85" fill="#ff7171" stroke="none" stroke-width="0" shape-rendering="crispEdges"/>
<rect x="140.33" y="170.30" width="13.27" height="1.85" fill="#ffa2a2" stroke="none" stroke-width="0" shape-rendering="crispEdges"/>
<rect x="140.33" y="171.80" width="13.27" height="1.85" fill="#ffc3c3" stroke="none" stroke-width="0" shape-rendering="crispEdges"/>
<rect x="140.33" y="173.30" width="13.27" height="1.85" fill="#ffe1e1" stroke="none" stroke-width="0" shape-rendering="crispEdges"/>
<rect x="140.33" y="174.80" width="13.27" height="1.85" fill="#ff6363" stroke="none" stroke-width="0" shape-rendering="crispEdges"/>
<rect x="140.33" y="176.30" width="13.27" height="1.85" fill="#ff9494" stroke="none" stroke-width="0" shape-rendering="crispEdges"/>
<rect x="140.33" y="177.80" width="13.27" height="1.85" fill="#ffcccc" stroke="none" stroke-width="0" shape-rendering="crispEdges"/>
<rect x="140.33" y="179.30" width="13.27" height="1.85" fill="#ff7979" stroke="none" stroke-width="0" shape-rendering="crispEdges"/>
<rect x="140.33" y="180.80" width="13.27" height="1.85" fill="#ff6161" stroke="none" stroke-width="0" shape-rendering="crispEdges"/>
<rect x="140.33" y="182.30" width="13.27" height="1.85" fill="#ff8585" stroke="none" stroke-width="0" shape-rendering="crispEdges"/>
<rect x="140.33" y="183.80" width="13.27" height="1.85" fill="#ff7c7c" stroke="none" stroke-width="0" shape-rendering="crispEdges"/>
<rect x="140.33" y="185.30" width="13.27" height="1.85" fill="#ffaaaa" stroke="none" stroke-width="0" shape-rendering="crispEdges"/>
<rect x="140.33" y="186.80" width="13.27" height="1.85" fill="#ff9e9e" stroke="none" stroke-width="0" shape-rendering="crispEdges"/>
<rect x="140.33" y="188.30" width="13.27" height="1.85" fill="#ffabab" stroke="none" stroke-width="0" shape-rendering="crispEdges"/>
<rect x="140.33" y="189.80" width="13.27" height="1.85" fill="#ff9d9d" stroke="none" stroke-width="0" shape-rendering="crispEdges"/>
<rect x="140.33" y="191.30" width="13.27" height="1.85" fill="#ff8585" stroke="none" stroke-width="0" shape-rendering="crispEdges"/>
<rect x="140.33" y="192.80" width="13.27" height="1.85" fill="#ff7171" stroke="none" stroke-width="0" shape-rendering="crispEdges"/>
<rect x="140.33" y="194.30" width="13.27" height="1.85" fill="#ff5a5a" stroke="none" stroke-width="0" shape-rendering="crispEdges"/>
<rect x="140.33" y="195.80" width="13.27" height="1.75" fill="#ff8383" stroke="none" stroke-width="0" shape-rendering="crispEdges"/>
<rect x="153.25" y="55.00" width="13.27" height="1.85" fill="#ff9595" stroke="none" stroke-width="0" shape-rendering="crispEdges"/>
<rect x="153.25" y="56.50" width="13.27" height="1.85" fill="#ffacac" stroke="none" stroke-width="0" shape-rendering="crispEdges"/>
<rect x="153.25" y="58.00" width="13.27" height="1.85" fill="#ff6e6e" stroke="none" stroke-width="0" shape-rendering="crispEdges"/>
<rect x="153.25" y="59.50" width="13.27" height="1.85" fill="#ffacac" stroke="none" stroke-width="0" shape-rendering="crispEdges"/>
<rect x="153.25" y="61.00" width="13.27" height="1.85" fill="#ffc3c3" stroke="none" stroke-width="0" shape-rendering="crispEdges"/>
<rect x="153.25" y="62.50" width="13.27" height="1.85" fill="#ffcece" stroke="none" stroke-width="0" shape-rendering="crispEdges"/>
<rect x="153.25" y="64.00" width="13.27" height="1.85" fill="#ff9d9d" stroke="none" stroke-width="0" shape-rendering="crispEdges"/>
<rect x="153.25" y="65.50" width="13.27" height="1.85" fill="#ffb5b5" stroke="none" stroke-width="0" shape-rendering="crispEdges"/>
<rect x="153.25" y="67.00" width="13.27" height="1.85" fill="#ffdada" stroke="none" stroke-width="0" shape-rendering="crispEdges"/>
<rect x="153.25" y="68.50" width="13.27" height="1.85" fill="#ff8888" stroke="none" stroke-width="0" shape-rendering="crispEdges"/>
<rect x="153.25" y="70.00" width="13.27" height="1.85" fill="#ff2323" stroke="none" stroke-width="0" shape-rendering="crispEdges"/>
<rect x="153.25" y="71.50" width="13.27" height="1.85" fill="#ff5353" stroke="none" stroke-width="0" shape-rendering="crispEdges"/>
<rect x="153.25" y="73.00" width="13.27" height="1.85" fill="#ff5858" stroke="none" stroke-width="0" shape-rendering="crispEdges"/>
<rect x="153.25" y="74.50" width="13.27" height="1.85" fill="#ff4646" stroke="none" stroke-width="0" shape-rendering="crispEdges"/>
<rect x="153.25" y="76.00" width="13.27" height="1.85" fill="#ff5858" stroke="none" stroke-width="0" shape-rendering="crispEdges"/>
<rect x="153.25" y="77.50" width="13.27" height="1.85" fill="#ff5353" stroke="none" stroke-width="0" shape-rendering="crispEdges"/>
<rect x="153.25" y="79.00" width="13.27" height="1.85" fill="#ff8f8f" stroke="none" stroke-width="0" shape-rendering="crispEdges"/>
<rect x="153.25" y="80.50" width="13.27" height="1.85" fill="#ff4b4b" stroke="none" stroke-width="0" shape-rendering="crispEdges"/>
<rect x="153.25" y="82.00" width="13.27" height="1.85" fill="#ff2323" stroke="none" stroke-width="0" shape-rendering="crispEdges"/>
<rect x="153.25" y="83.50" width="13.27" height="1.85" fill="#ff4444" stroke="none" stroke-width="0" shape-rendering="crispEdges"/>
<rect x="153.25" y="85.00" width="13.27" height="1.85" fill="#ff4a4a" stroke="none" stroke-width="0" shape-rendering="crispEdges"/>
<rect x="153.25" y="86.50" width="13.27" height="1.85" fill="#ff4646" stroke="none" stroke-width="0" shape-rendering="crispEdges"/>
<rect x="153.25" y="88.00" width="13.27" height="1.85" fill="#ff5353" stroke="none" stroke-width="0" shape-rendering="crispEdges"/>
<rect x="153.25" y="89.50" width="13.27" height="1.85" fill="#ffcaca" stroke="none" stroke-width="0" shape-rendering="crispEdges"/>
<rect x="153.25" y="91.00" width="13.27" height="1.85" fill="#ff4848" stroke="none" stroke-width="0" shape-rendering="crispEdges"/>
<rect x="153.25" y="92.50" width="13.27" height="1.85" fill="#ff6d6d" stroke="none" stroke-width="0" shape-rendering="crispEdges"/>
<rect x="153.25" y="94.00" width="13.27" height="1.85" fill="#ff5f5f" stroke="none" stroke-width="0" shape-rendering="crispEdges"/>
<rect x="153.25" y="95.50" width="13.27" height="1.85" fill="#ffb2b2" stroke="none" stroke-width="0" shape-rendering="crispEdges"/>
<rect x="153.25" y="97.00" width="13.27" height="1.85" fill="#ff8c8c" stroke="none" stroke-width="0" shape-rendering="crispEdges"/>
<rect x="153.25" y="98.50" width="13.27" height="1.85" fill="#ffb9b9" stroke="none" stroke-width="0" shape-rendering="crispEdges"/>
<rect x="153.25" y="100.00" width="13.27" height="1.85" fill="#ffb0b0" stroke="none" stroke-width="0" shape-rendering="crispEdges"/>
<rect x="153.25" y="101.50" width="13.27" height="1.85" fill="#ff8080" stroke="none" stroke-width="0" shape-rendering="crispEdges"/>
<rect x="153.25" y="103.00" width="13.27" height="1.85" fill="#ff6e6e" stroke="none" stroke-width="0" shape-rendering="crispEdges"/>
<rect x="153.25" y="104.50" width="13.27" height="1.85" fill="#ff7777" stroke="none" stroke-width="0" shape-rendering="crispEdges"/>
<rect x="153.25" y="106.00" width="13.27" height="1.85" fill="#ff4747" stroke="none" stroke-width="0" shape-rendering="crispEdges"/>
<rect x="153.25" y="107.50" width="13.27" height="1.85" fill="#ff5454" stroke="none" stroke-width="0" shape-rendering="crispEdges"/>
<rect x="153.25" y="109.00" width="13.27" height="1.85" fill="#ff4848" stroke="none" stroke-width="0" shape-rendering="crispEdges"/>
<rect x="153.25" y="110.50" width="13.27" height="1.85" fill="#ffb5b5" stroke="none" stroke-width="0" shape-rendering="crispEdges"/>
<rect x="153.25" y="112.00" width="13.27" height="1.85" fill="#ff6767" stroke="none" stroke-width="0" shape-rendering="crispEdges"/>
<rect x="153.25" y="113.50" width="13.27" height="1.85" fill="#ff2323" stroke="none" stroke-width="0" shape-rendering="crispEdges"/>
<rect x="153.25" y="115.00" width="13.27" height="1.85" fill="#ff8f8f" stroke="none" stroke-width="0" shape-rendering="crispEdges"/>
<rect x="153.25" y="116.50" width="13.27" height="1.85" fill="#ff9191" stroke="none" stroke-width="0" shape-rendering="crispEdges"/>
<rect x="153.25" y="118.00" width="13.27" height="1.85" fill="#ffb7b7" stroke="none" stroke-width="0" shape-rendering="crispEdges"/>
<rect x="153.25" y="119.50" width="13.27" height="1.85" fill="#ffabab" stroke="none" stroke-width="0" shape-rendering="crispEdges"/>
<rect x="153.25" y="121.00" width="13.27" height="1.85" fill="#ff7b7b" stroke="none" stroke-width="0" shape-rendering="crispEdges"/>
<rect x="153.25" y="122.50" width="13.27" height="1.65" fill="#ff4e4e" stroke="none" stroke-width="0" shape-rendering="crispEdges"/>
<rect x="153.25" y="123.80" width="13.27" height="1.85" fill="#9094f8" stroke="none" stroke-width="0" shape-rendering="crispEdges"/>
<rect x="153.25" y="125.30" width="13.27" height="1.85" fill="#adb1f8" stroke="none" stroke-width="0" shape-rendering="crispEdges"/>
<rect x="153.25" y="126.80" width="13.27" height="1.85" fill="#7a7ef7" stroke="none" stroke-width="0" shape-rendering="crispEdges"/>
<rect x="153.25" y="128.30" width="13.27" height="1.85" fill="#8f93f8" stroke="none" stroke-width="0" shape-rendering="crispEdges"/>
<rect x="153.25" y="129.80" width="13.27" height="1.85" fill="#9599f8" stroke="none" stroke-width="0" shape-rendering="crispEdges"/>
<rect x="153.25" y="131.30" width="13.27" height="1.85" fill="#c7cbf9" stroke="none" stroke-width="0" shape-rendering="crispEdges"/>
<rect x="153.25" y="132.80" width="13.27" height="1.85" fill="#eff3fa" stroke="none" stroke-width="0" shape-rendering="crispEdges"/>
<rect x="153.25" y="134.30" width="13.27" height="1.85" fill="#fafefa" stroke="none" stroke-width="0" shape-rendering="crispEdges"/>
<rect x="153.25" y="135.80" width="13.27" height="1.85" fill="#a2a6f8" stroke="none" stroke-width="0" shape-rendering="crispEdges"/>
<rect x="153.25" y="137.30" width="13.27" height="1.85" fill="#9296f8" stroke="none" stroke-width="0" shape-rendering="crispEdges"/>
<rect x="153.25" y="138.80" width="13.27" height="1.85" fill="#7e82f7" stroke="none" stroke-width="0" shape-rendering="crispEdges"/>
<rect x="153.25" y="140.30" width="13.27" height="1.85" fill="#dbdff9" stroke="none" stroke-width="0" shape-rendering="crispEdges"/>
<rect x="153.25" y="141.80" width="13.27" height="1.85" fill="#7f83f7" stroke="none" stroke-width="0" shape-rendering="crispEdges"/>
<rect x="153.25" y="143.30" width="13.27" height="1.85" fill="#686cf7" stroke="none" stroke-width="0" shape-rendering="crispEdges"/>
<rect x="153.25" y="144.80" width="13.27" height="1.85" fill="#7f83f7" stroke="none" stroke-width="0" shape-rendering="crispEdges"/>
<rect x="153.25" y="146.30" width="13.27" height="1.85" fill="#8e92f7" stroke="none" stroke-width="0" shape-rendering="crispEdges"/>
<rect x="153.25" y="147.80" width="13.27" height="1.85" fill="#8084f7" stroke="none" stroke-width="0" shape-rendering="crispEdges"/>
<rect x="153.25" y="149.30" width="13.27" height="1.85" fill="#7a7ef7" stroke="none" stroke-width="0" shape-rendering="crispEdges"/>
<rect x="153.25" y="150.80" width="13.27" height="1.85" fill="#8084f7" stroke="none" stroke-width="0" shape-rendering="crispEdges"/>
<rect x="153.25" y="152.30" width="13.27" height="1.85" fill="#5559f6" stroke="none" stroke-width="0" shape-rendering="crispEdges"/>
<rect x="153.25" y="153.80" width="13.27" height="1.85" fill="#8084f7" stroke="none" stroke-width="0" shape-rendering="crispEdges"/>
<rect x="153.25" y="155.30" width="13.27" height="1.85" fill="#4a4ef6" stroke="none" stroke-width="0" shape-rendering="crispEdges"/>
<rect x="153.25" y="156.80" width="13.27" height="1.85" fill="#4549f6" stroke="none" stroke-width="0" shape-rendering="crispEdges"/>
<rect x="153.25" y="158.30" width="13.27" height="1.85" fill="#575bf6" stroke="none" stroke-width="0" shape-rendering="crispEdges"/>
<rect x="153.25" y="159.80" width="13.27" height="1.85" fill="#c9cdf9" stroke="none" stroke-width="0" shape-rendering="crispEdges"/>
<rect x="153.25" y="161.30" width="13.27" height="1.85" fill="#c3c7f9" stroke="none" stroke-width="0" shape-rendering="crispEdges"/>
<rect x="153.25" y="162.80" width="13.27" height="1.85" fill="#8286f7" stroke="none" stroke-width="0" shape-rendering="crispEdges"/>
<rect x="153.25" y="164.30" width="13.27" height="1.85" fill="#c8ccf9" stroke="none" stroke-width="0" shape-rendering="crispEdges"/>
<rect x="153.25" y="165.80" width="13.27" height="1.85" fill="#767af7" stroke="none" stroke-width="0" shape-rendering="crispEdges"/>
<rect x="153.25" y="167.30" width="13.27" height="1.85" fill="#9498f8" stroke="none" stroke-width="0" shape-rendering="crispEdges"/>
<rect x="153.25" y="168.80" width="13.27" height="1.85" fill="#8589f7" stroke="none" stroke-width="0" shape-rendering="crispEdges"/>
<rect x="153.25" y="170.30" width="13.27" height="1.85" fill="#8185f7" stroke="none" stroke-width="0" shape-rendering="crispEdges"/>
<rect x="153.25" y="171.80" width="13.27" height="1.85" fill="#e0e4f9" stroke="none" stroke-width="0" shape-rendering="crispEdges"/>
<rect x="153.25" y="173.30" width="13.27" height="1.85" fill="#8387f7" stroke="none" stroke-width="0" shape-rendering="crispEdges"/>
<rect x="153.25" y="174.80" width="13.27" height="1.85" fill="#b3b7f8" stroke="none" stroke-width="0" shape-rendering="crispEdges"/>
<rect x="153.25" y="176.30" width="13.27" height="1.85" fill="#e5e9fa" stroke="none" stroke-width="0" shape-rendering="crispEdges"/>
<rect x="153.25" y="177.80" width="13.27" height="1.85" fill="#eaeefa" stroke="none" stroke-width="0" shape-rendering="crispEdges"/>
<rect x="153.25" y="179.30" width="13.27" height="1.85" fill="#e6eafa" stroke="none" stroke-width="0" shape-rendering="crispEdges"/>
<rect x="153.25" y="180.80" width="13.27" height="1.85" fill="#dbdff9" stroke="none" stroke-width="0" shape-rendering="crispEdges"/>
<rect x="153.25" y="182.30" width="13.27" height="1.85" fill="#9ca0f8" stroke="none" stroke-width="0" shape-rendering="crispEdges"/>
<rect x="153.25" y="183.80" width="13.27" height="1.85" fill="#b3b7f8" stroke="none" stroke-width="0" shape-rendering="crispEdges"/>
<rect x="153.25" y="185.30" width="13.27" height="1.85" fill="#8185f7" stroke="none" stroke-width="0" shape-rendering="crispEdges"/>
<rect x="153.25" y="186.80" width="13.27" height="1.85" fill="#a4a8f8" stroke="none" stroke-width="0" shape-rendering="crispEdges"/>
<rect x="153.25" y="188.30" width="13.27" height="1.85" fill="#abaff8" stroke="none" stroke-width="0" shape-rendering="crispEdges"/>
<rect x="153.25" y="189.80" width="13.27" height="1.85" fill="#aeb2f8" stroke="none" stroke-width="0" shape-rendering="crispEdges"/>
<rect x="153.25" y="191.30" width="13.27" height="1.85" fill="#aaaef8" stroke="none" stroke-width="0" shape-rendering="crispEdges"/>
<rect x="153.25" y="192.80" width="13.27" height="1.85" fill="#6d71f7" stroke="none" stroke-width="0" shape-rendering="crispEdges"/>
<rect x="153.25" y="194.30" width="13.27" height="1.85" fill="#c6caf9" stroke="none" stroke-width="0" shape-rendering="crispEdges"/>
<rect x="153.25" y="195.80" width="13.27" height="1.75" fill="#9ca0f8" stroke="none" stroke-width="0" shape-rendering="crispEdges"/>
<rect x="166.17" y="55.00" width="13.27" height="1.85" fill="#ff8686" stroke="none" stroke-width="0" shape-rendering="crispEdges"/>
<rect x="166.17" y="56.50" width="13.27" height="1.85" fill="#ff8989" stroke="none" stroke-width="0" shape-rendering="crispEdges"/>
<rect x="166.17" y="58.00" width="13.27" height="1.85" fill="#ff9191" stroke="none" stroke-width="0" shape-rendering="crispEdges"/>
<rect x="166.17" y="59.50" width="13.27" height="1.85" fill="#ff7777" stroke="none" stroke-width="0" shape-rendering="crispEdges"/>
<rect x="166.17" y="61.00" width="13.27" height="1.85" fill="#ff8989" stroke="none" stroke-width="0" shape-rendering="crispEdges"/>
<rect x="166.17" y="62.50" width="13.27" height="1.85" fill="#ffb7b7" stroke="none" stroke-width="0" shape-rendering="crispEdges"/>
<rect x="166.17" y="64.00" width="13.27" height="1.85" fill="#ff9797" stroke="none" stroke-width="0" shape-rendering="crispEdges"/>
<rect x="166.17" y="65.50" width="13.27" height="1.85" fill="#ffb2b2" stroke="none" stroke-width="0" shape-rendering="crispEdges"/>
<rect x="166.17" y="67.00" width="13.27" height="1.85" fill="#ffb1b1" stroke="none" stroke-width="0" shape-rendering="crispEdges"/>
<rect x="166.17" y="68.50" width="13.27" height="1.85" fill="#fffafa" stroke="none" stroke-width="0" shape-rendering="crispEdges"/>
<rect x="166.17" y="70.00" width="13.27" height="1.85" fill="#ffb4b4" stroke="none" stroke-width="0" shape-rendering="crispEdges"/>
<rect x="166.17" y="71.50" width="13.27" height="1.85" fill="#ffcece" stroke="none" stroke-width="0" shape-rendering="crispEdges"/>
<rect x="166.17" y="73.00" width="13.27" height="1.85" fill="#ffa6a6" stroke="none" stroke-width="0" shape-rendering="crispEdges"/>
<rect x="166.17" y="74.50" width="13.27" height="1.85" fill="#ff7a7a" stroke="none" stroke-width="0" shape-rendering="crispEdges"/>
<rect x="166.17" y="76.00" width="13.27" height="1.85" fill="#ff7a7a" stroke="none" stroke-width="0" shape-rendering="crispEdges"/>
<rect x="166.17" y="77.50" width="13.27" height="1.85" fill="#ff7c7c" stroke="none" stroke-width="0" shape-rendering="crispEdges"/>
<rect x="166.17" y="79.00" width="13.27" height="1.85" fill="#ff6262" stroke="none" stroke-width="0" shape-rendering="crispEdges"/>
<rect x="166.17" y="80.50" width="13.27" height="1.85" fill="#ff8d8d" stroke="none" stroke-width="0" shape-rendering="crispEdges"/>
<rect x="166.17" y="82.00" width="13.27" height="1.85" fill="#ffd5d5" stroke="none" stroke-width="0" shape-rendering="crispEdges"/>
<rect x="166.17" y="83.50" width="13.27" height="1.85" fill="#ff3a3a" stroke="none" stroke-width="0" shape-rendering="crispEdges"/>
<rect x="166.17" y="85.00" width="13.27" height="1.85" fill="#ffc2c2" stroke="none" stroke-width="0" shape-rendering="crispEdges"/>
<rect x="166.17" y="86.50" width="13.27" height="1.85" fill="#ff4141" stroke="none" stroke-width="0" shape-rendering="crispEdges"/>
<rect x="166.17" y="88.00" width="13.27" height="1.85" fill="#ffb7b7" stroke="none" stroke-width="0" shape-rendering="crispEdges"/>
<rect x="166.17" y="89.50" width="13.27" height="1.85" fill="#ffabab" stroke="none" stroke-width="0" shape-rendering="crispEdges"/>
<rect x="166.17" y="91.00" width="13.27" height="1.85" fill="#ff6565" stroke="none" stroke-width="0" shape-rendering="crispEdges"/>
<rect x="166.17" y="92.50" width="13.27" height="1.85" fill="#ff6e6e" stroke="none" stroke-width="0" shape-rendering="crispEdges"/>
<rect x="166.17" y="94.00" width="13.27" height="1.85" fill="#ff5a5a" stroke="none" stroke-width="0" shape-rendering="crispEdges"/>
<rect x="166.17" y="95.50" width="13.27" height="1.85" fill="#ff4444" stroke="none" stroke-width="0" shape-rendering="crispEdges"/>
<rect x="166.17" y="97.00" width="13.27" height="1.85" fill="#ff7373" stroke="none" stroke-width="0" shape-rendering="crispEdges"/>
<rect x="166.17" y="98.50" width="13.27" height="1.85" fill="#ff5e5e" stroke="none" stroke-width="0" shape-rendering="crispEdges"/>
<rect x="166.17" y="100.00" width="13.27" height="1.85" fill="#ff7777" stroke="none" stroke-width="0" shape-rendering="crispEdges"/>
<rect x="166.17" y="101.50" width="13.27" height="1.85" fill="#ffc7c7" stroke="none" stroke-width="0" shape-rendering="crispEdges"/>
<rect x="166.17" y="103.00" width="13.27" height="1.85" fill="#ffb2b2" stroke="none" stroke-width="0" shape-rendering="crispEdges"/>
<rect x="166.17" y="104.50" width="13.27" height="1.85" fill="#ff7676" stroke="none" stroke-width="0" shape-rendering="crispEdges"/>
<rect x="166.17" y="106.00" width="13.27" height="1.85" fill="#ffa1a1" stroke="none" stroke-width="0" shape-rendering="crispEdges"/>
<rect x="166.17" y="107.50" width="13.27" height="1.85" fill="#ff6060" stroke="none" stroke-width="0" shape-rendering="crispEdges"/>
<rect x="166.17" y="109.00" width="13.27" height="1.85" fill="#ff5e5e" stroke="none" stroke-width="0" shape-rendering="crispEdges"/>
<rect x="166.17" y="110.50" width="13.27" height="1.85" fill="#ff6a6a" stroke="none" stroke-width="0" shape-rendering="crispEdges"/>
<rect x="166.17" y="112.00" width="13.27" height="1.85" fill="#ff4141" stroke="none" stroke-width="0" shape-rendering="crispEdges"/>
<rect x="166.17" y="113.50" width="13.27" height="1.85" fill="#ffb9b9" stroke="none" stroke-width="0" shape-rendering="crispEdges"/>
<rect x="166.17" y="115.00" width="13.27" height="1.85" fill="#ff8e8e" stroke="none" stroke-width="0" shape-rendering="crispEdges"/>
<rect x="166.17" y="116.50" width="13.27" height="1.85" fill="#ffd8d8" stroke="none" stroke-width="0" shape-rendering="crispEdges"/>
<rect x="166.17" y="118.00" width="13.27" height="1.85" fill="#ff6565" stroke="none" stroke-width="0" shape-rendering="crispEdges"/>
<rect x="166.17" y="119.50" width="13.27" height="1.85" fill="#ff8f8f" stroke="none" stroke-width="0" shape-rendering="crispEdges"/>
<rect x="166.17" y="121.00" width="13.27" height="1.85" fill="#ff7d7d" stroke="none" stroke-width="0" shape-rendering="crispEdges"/>
<rect x="166.17" y="122.50" width="13.27" height="1.65" fill="#ff7777" stroke="none" stroke-width="0" shape-rendering="crispEdges"/>
<rect x="166.17" y="123.80" width="13.27" height="1.85" fill="#878bf7" stroke="none" stroke-width="0" shape-rendering="crispEdges"/>
<rect x="166.17" y="125.30" width="13.27" height="1.85" fill="#6f73f7" stroke="none" stroke-width="0" shape-rendering="crispEdges"/>
<rect x="166.17" y="126.80" width="13.27" height="1.85" fill="#393df6" stroke="none" stroke-width="0" shape-rendering="crispEdges"/>
<rect x="166.17" y="128.30" width="13.27" height="1.85" fill="#393df6" stroke="none" stroke-width="0" shape-rendering="crispEdges"/>
<rect x="166.17" y="129.80" width="13.27" height="1.85" fill="#6468f7" stroke="none" stroke-width="0" shape-rendering="crispEdges"/>
<rect x="166.17" y="131.30" width="13.27" height="1.85" fill="#7074f7" stroke="none" stroke-width="0" shape-rendering="crispEdges"/>
<rect x="166.17" y="132.80" width="13.27" height="1.85" fill="#5458f6" stroke="none" stroke-width="0" shape-rendering="crispEdges"/>
<rect x="166.17" y="134.30" width="13.27" height="1.85" fill="#6367f6" stroke="none" stroke-width="0" shape-rendering="crispEdges"/>
<rect x="166.17" y="135.80" width="13.27" height="1.85" fill="#4f53f6" stroke="none" stroke-width="0" shape-rendering="crispEdges"/>
<rect x="166.17" y="137.30" width="13.27" height="1.85" fill="#5256f6" stroke="none" stroke-width="0" shape-rendering="crispEdges"/>
<rect x="166.17" y="138.80" width="13.27" height="1.85" fill="#484cf6" stroke="none" stroke-width="0" shape-rendering="crispEdges"/>
<rect x="166.17" y="140.30" width="13.27" height="1.85" fill="#5e62f6" stroke="none" stroke-width="0" shape-rendering="crispEdges"/>
<rect x="166.17" y="141.80" width="13.27" height="1.85" fill="#7175f7" stroke="none" stroke-width="0" shape-rendering="crispEdges"/>
<rect x="166.17" y="143.30" width="13.27" height="1.85" fill="#6b6ff7" stroke="none" stroke-width="0" shape-rendering="crispEdges"/>
<rect x="166.17" y="144.80" width="13.27" height="1.85" fill="#7175f7" stroke="none" stroke-width="0" shape-rendering="crispEdges"/>
<rect x="166.17" y="146.30" width="13.27" height="1.85" fill="#676bf7" stroke="none" stroke-width="0" shape-rendering="crispEdges"/>
<rect x="166.17" y="147.80" width="13.27" height="1.85" fill="#777bf7" stroke="none" stroke-width="0" shape-rendering="crispEdges"/>
<rect x="166.17" y="149.30" width="13.27" height="1.85" fill="#575bf6" stroke="none" stroke-width="0" shape-rendering="crispEdges"/>
<rect x="166.17" y="150.80" width="13.27" height="1.85" fill="#6d71f7" stroke="none" stroke-width="0" shape-rendering="crispEdges"/>
<rect x="166.17" y="152.30" width="13.27" height="1.85" fill="#7c80f7" stroke="none" stroke-width="0" shape-rendering="crispEdges"/>
<rect x="166.17" y="153.80" width="13.27" height="1.85" fill="#7175f7" stroke="none" stroke-width="0" shape-rendering="crispEdges"/>
<rect x="166.17" y="155.30" width="13.27" height="1.85" fill="#898df7" stroke="none" stroke-width="0" shape-rendering="crispEdges"/>
<rect x="166.17" y="156.80" width="13.27" height="1.85" fill="#6569f7" stroke="none" stroke-width="0" shape-rendering="crispEdges"/>
<rect x="166.17" y="158.30" width="13.27" height="1.85" fill="#5e62f6" stroke="none" stroke-width="0" shape-rendering="crispEdges"/>
<rect x="166.17" y="159.80" width="13.27" height="1.85" fill="#868af7" stroke="none" stroke-width="0" shape-rendering="crispEdges"/>
<rect x="166.17" y="161.30" width="13.27" height="1.85" fill="#7478f7" stroke="none" stroke-width="0" shape-rendering="crispEdges"/>
<rect x="166.17" y="162.80" width="13.27" height="1.85" fill="#9397f8" stroke="none" stroke-width="0" shape-rendering="crispEdges"/>
<rect x="166.17" y="164.30" width="13.27" height="1.85" fill="#676bf7" stroke="none" stroke-width="0" shape-rendering="crispEdges"/>
<rect x="166.17" y="165.80" width="13.27" height="1.85" fill="#7d81f7" stroke="none" stroke-width="0" shape-rendering="crispEdges"/>
<rect x="166.17" y="167.30" width="13.27" height="1.85" fill="#9498f8" stroke="none" stroke-width="0" shape-rendering="crispEdges"/>
<rect x="166.17" y="168.80" width="13.27" height="1.85" fill="#7d81f7" stroke="none" stroke-width="0" shape-rendering="crispEdges"/>
<rect x="166.17" y="170.30" width="13.27" height="1.85" fill="#6569f7" stroke="none" stroke-width="0" shape-rendering="crispEdges"/>
<rect x="166.17" y="171.80" width="13.27" height="1.85" fill="#666af7" stroke="none" stroke-width="0" shape-rendering="crispEdges"/>
<rect x="166.17" y="173.30" width="13.27" height="1.85" fill="#666af7" stroke="none" stroke-width="0" shape-rendering="crispEdges"/>
<rect x="166.17" y="174.80" width="13.27" height="1.85" fill="#6468f7" stroke="none" stroke-width="0" shape-rendering="crispEdges"/>
<rect x="166.17" y="176.30" width="13.27" height="1.85" fill="#5054f6" stroke="none" stroke-width="0" shape-rendering="crispEdges"/>
<rect x="166.17" y="177.80" width="13.27" height="1.85" fill="#4f53f6" stroke="none" stroke-width="0" shape-rendering="crispEdges"/>
<rect x="166.17" y="179.30" width="13.27" height="1.85" fill="#6569f7" stroke="none" stroke-width="0" shape-rendering="crispEdges"/>
<rect x="166.17" y="180.80" width="13.27" height="1.85" fill="#7377f7" stroke="none" stroke-width="0" shape-rendering="crispEdges"/>
<rect x="166.17" y="182.30" width="13.27" height="1.85" fill="#787cf7" stroke="none" stroke-width="0" shape-rendering="crispEdges"/>
<rect x="166.17" y="183.80" width="13.27" height="1.85" fill="#888cf7" stroke="none" stroke-width="0" shape-rendering="crispEdges"/>
<rect x="166.17" y="185.30" width="13.27" height="1.85" fill="#6266f6" stroke="none" stroke-width="0" shape-rendering="crispEdges"/>
<rect x="166.17" y="186.80" width="13.27" height="1.85" fill="#6d71f7" stroke="none" stroke-width="0" shape-rendering="crispEdges"/>
<rect x="166.17" y="188.30" width="13.27" height="1.85" fill="#7f83f7" stroke="none" stroke-width="0" shape-rendering="crispEdges"/>
<rect x="166.17" y="189.80" width="13.27" height="1.85" fill="#8f93f8" stroke="none" stroke-width="0" shape-rendering="crispEdges"/>
<rect x="166.17" y="191.30" width="13.27" height="1.85" fill="#6d71f7" stroke="none" stroke-width="0" shape-rendering="crispEdges"/>
<rect x="166.17" y="192.80" width="13.27" height="1.85" fill="#787cf7" stroke="none" stroke-width="0" shape-rendering="crispEdges"/>
<rect x="166.17" y="194.30" width="13.27" height="1.85" fill="#6165f6" stroke="none" stroke-width="0" shape-rendering="crispEdges"/>
<rect x="166.17" y="195.80" width="13.27" height="1.75" fill="#7f83f7" stroke="none" stroke-width="0" shape-rendering="crispEdges"/>
<rect x="179.08" y="55.00" width="13.27" height="1.85" fill="#ffdddd" stroke="none" stroke-width="0" shape-rendering="crispEdges"/>
<rect x="179.08" y="56.50" width="13.27" height="1.85" fill="#ffbaba" stroke="none" stroke-width="0" shape-rendering="crispEdges"/>
<rect x="179.08" y="58.00" width="13.27" height="1.85" fill="#ff9e9e" stroke="none" stroke-width="0" shape-rendering="crispEdges"/>
<rect x="179.08" y="59.50" width="13.27" height="1.85" fill="#ffc7c7" stroke="none" stroke-width="0" shape-rendering="crispEdges"/>
<rect x="179.08" y="61.00" width="13.27" height="1.85" fill="#ff7272" stroke="none" stroke-width="0" shape-rendering="crispEdges"/>
<rect x="179.08" y="62.50" width="13.27" height="1.85" fill="#ff5959" stroke="none" stroke-width="0" shape-rendering="crispEdges"/>
<rect x="179.08" y="64.00" width="13.27" height="1.85" fill="#ff4545" stroke="none" stroke-width="0" shape-rendering="crispEdges"/>
<rect x="179.08" y="65.50" width="13.27" height="1.85" fill="#ff5050" stroke="none" stroke-width="0" shape-rendering="crispEdges"/>
<rect x="179.08" y="67.00" width="13.27" height="1.85" fill="#ff4444" stroke="none" stroke-width="0" shape-rendering="crispEdges"/>
<rect x="179.08" y="68.50" width="13.27" height="1.85" fill="#ff2828" stroke="none" stroke-width="0" shape-rendering="crispEdges"/>
<rect x="179.08" y="70.00" width="13.27" height="1.85" fill="#ff5d5d" stroke="none" stroke-width="0" shape-rendering="crispEdges"/>
<rect x="179.08" y="71.50" width="13.27" height="1.85" fill="#ff4242" stroke="none" stroke-width="0" shape-rendering="crispEdges"/>
<rect x="179.08" y="73.00" width="13.27" height="1.85" fill="#ff4040" stroke="none" stroke-width="0" shape-rendering="crispEdges"/>
<rect x="179.08" y="74.50" width="13.27" height="1.85" fill="#ffabab" stroke="none" stroke-width="0" shape-rendering="crispEdges"/>
<rect x="179.08" y="76.00" width="13.27" height="1.85" fill="#ff6363" stroke="none" stroke-width="0" shape-rendering="crispEdges"/>
<rect x="179.08" y="77.50" width="13.27" height="1.85" fill="#ff5e5e" stroke="none" stroke-width="0" shape-rendering="crispEdges"/>
<rect x="179.08" y="79.00" width="13.27" height="1.85" fill="#ff8282" stroke="none" stroke-width="0" shape-rendering="crispEdges"/>
<rect x="179.08" y="80.50" width="13.27" height="1.85" fill="#ff8484" stroke="none" stroke-width="0" shape-rendering="crispEdges"/>
<rect x="179.08" y="82.00" width="13.27" height="1.85" fill="#ff8383" stroke="none" stroke-width="0" shape-rendering="crispEdges"/>
<rect x="179.08" y="83.50" width="13.27" height="1.85" fill="#ff8989" stroke="none" stroke-width="0" shape-rendering="crispEdges"/>
<rect x="179.08" y="85.00" width="13.27" height="1.85" fill="#ff9595" stroke="none" stroke-width="0" shape-rendering="crispEdges"/>
<rect x="179.08" y="86.50" width="13.27" height="1.85" fill="#ff9a9a" stroke="none" stroke-width="0" shape-rendering="crispEdges"/>
<rect x="179.08" y="88.00" width="13.27" height="1.85" fill="#ff6e6e" stroke="none" stroke-width="0" shape-rendering="crispEdges"/>
<rect x="179.08" y="89.50" width="13.27" height="1.85" fill="#ff8d8d" stroke="none" stroke-width="0" shape-rendering="crispEdges"/>
<rect x="179.08" y="91.00" width="13.27" height="1.85" fill="#ff7878" stroke="none" stroke-width="0" shape-rendering="crispEdges"/>
<rect x="179.08" y="92.50" width="13.27" height="1.85" fill="#ff7272" stroke="none" stroke-width="0" shape-rendering="crispEdges"/>
<rect x="179.08" y="94.00" width="13.27" height="1.85" fill="#ff5d5d" stroke="none" stroke-width="0" shape-rendering="crispEdges"/>
<rect x="179.08" y="95.50" width="13.27" height="1.85" fill="#ff3939" stroke="none" stroke-width="0" shape-rendering="crispEdges"/>
<rect x="179.08" y="97.00" width="13.27" height="1.85" fill="#ff7878" stroke="none" stroke-width="0" shape-rendering="crispEdges"/>
<rect x="179.08" y="98.50" width="13.27" height="1.85" fill="#ff6363" stroke="none" stroke-width="0" shape-rendering="crispEdges"/>
<rect x="179.08" y="100.00" width="13.27" height="1.85" fill="#ff8c8c" stroke="none" stroke-width="0" shape-rendering="crispEdges"/>
<rect x="179.08" y="101.50" width="13.27" height="1.85" fill="#ff5757" stroke="none" stroke-width="0" shape-rendering="crispEdges"/>
<rect x="179.08" y="103.00" width="13.27" height="1.85" fill="#ff4949" stroke="none" stroke-width="0" shape-rendering="crispEdges"/>
<rect x="179.08" y="104.50" width="13.27" height="1.85" fill="#ff6868" stroke="none" stroke-width="0" shape-rendering="crispEdges"/>
<rect x="179.08" y="106.00" width="13.27" height="1.85" fill="#ff6868" stroke="none" stroke-width="0" shape-rendering="crispEdges"/>
<rect x="179.08" y="107.50" width="13.27" height="1.85" fill="#ff6262" stroke="none" stroke-width="0" shape-rendering="crispEdges"/>
<rect x="179.08" y="109.00" width="13.27" height="1.85" fill="#ff6b6b" stroke="none" stroke-width="0" shape-rendering="crispEdges"/>
<rect x="179.08" y="110.50" width="13.27" height="1.85" fill="#ff4d4d" stroke="none" stroke-width="0" shape-rendering="crispEdges"/>
<rect x="179.08" y="112.00" width="13.27" height="1.85" fill="#ff7c7c" stroke="none" stroke-width="0" shape-rendering="crispEdges"/>
<rect x="179.08" y="113.50" width="13.27" height="1.85" fill="#ff5252" stroke="none" stroke-width="0" shape-rendering="crispEdges"/>
<rect x="179.08" y="115.00" width="13.27" height="1.85" fill="#ff8b8b" stroke="none" stroke-width="0" shape-rendering="crispEdges"/>
<rect x="179.08" y="116.50" width="13.27" height="1.85" fill="#ffd1d1" stroke="none" stroke-width="0" shape-rendering="crispEdges"/>
<rect x="179.08" y="118.00" width="13.27" height="1.85" fill="#ffb8b8" stroke="none" stroke-width="0" shape-rendering="crispEdges"/>
<rect x="179.08" y="119.50" width="13.27" height="1.85" fill="#ff9d9d" stroke="none" stroke-width="0" shape-rendering="crispEdges"/>
<rect x="179.08" y="121.00" width="13.27" height="1.85" fill="#ff8c8c" stroke="none" stroke-width="0" shape-rendering="crispEdges"/>
<rect x="179.08" y="122.50" width="13.27" height="1.65" fill="#ffb5b5" stroke="none" stroke-width="0" shape-rendering="crispEdges"/>
<rect x="179.08" y="123.80" width="13.27" height="1.85" fill="#6f73f7" stroke="none" stroke-width="0" shape-rendering="crispEdges"/>
<rect x="179.08" y="125.30" width="13.27" height="1.85" fill="#b6baf8" stroke="none" stroke-width="0" shape-rendering="crispEdges"/>
<rect x="179.08" y="126.80" width="13.27" height="1.85" fill="#b7bbf8" stroke="none" stroke-width="0" shape-rendering="crispEdges"/>
<rect x="179.08" y="128.30" width="13.27" height="1.85" fill="#e2e6f9" stroke="none" stroke-width="0" shape-rendering="crispEdges"/>
<rect x="179.08" y="129.80" width="13.27" height="1.85" fill="#cbcff9" stroke="none" stroke-width="0" shape-rendering="crispEdges"/>
<rect x="179.08" y="131.30" width="13.27" height="1.85" fill="#edf1fa" stroke="none" stroke-width="0" shape-rendering="crispEdges"/>
<rect x="179.08" y="132.80" width="13.27" height="1.85" fill="#a1a5f8" stroke="none" stroke-width="0" shape-rendering="crispEdges"/>
<rect x="179.08" y="134.30" width="13.27" height="1.85" fill="#bfc3f9" stroke="none" stroke-width="0" shape-rendering="crispEdges"/>
<rect x="179.08" y="135.80" width="13.27" height="1.85" fill="#7579f7" stroke="none" stroke-width="0" shape-rendering="crispEdges"/>
<rect x="179.08" y="137.30" width="13.27" height="1.85" fill="#7074f7" stroke="none" stroke-width="0" shape-rendering="crispEdges"/>
<rect x="179.08" y="138.80" width="13.27" height="1.85" fill="#9094f8" stroke="none" stroke-width="0" shape-rendering="crispEdges"/>
<rect x="179.08" y="140.30" width="13.27" height="1.85" fill="#7c80f7" stroke="none" stroke-width="0" shape-rendering="crispEdges"/>
<rect x="179.08" y="141.80" width="13.27" height="1.85" fill="#d8dcf9" stroke="none" stroke-width="0" shape-rendering="crispEdges"/>
<rect x="179.08" y="143.30" width="13.27" height="1.85" fill="#7579f7" stroke="none" stroke-width="0" shape-rendering="crispEdges"/>
<rect x="179.08" y="144.80" width="13.27" height="1.85" fill="#797df7" stroke="none" stroke-width="0" shape-rendering="crispEdges"/>
<rect x="179.08" y="146.30" width="13.27" height="1.85" fill="#787cf7" stroke="none" stroke-width="0" shape-rendering="crispEdges"/>
<rect x="179.08" y="147.80" width="13.27" height="1.85" fill="#7276f7" stroke="none" stroke-width="0" shape-rendering="crispEdges"/>
<rect x="179.08" y="149.30" width="13.27" height="1.85" fill="#d2d6f9" stroke="none" stroke-width="0" shape-rendering="crispEdges"/>
<rect x="179.08" y="150.80" width="13.27" height="1.85" fill="#4246f6" stroke="none" stroke-width="0" shape-rendering="crispEdges"/>
<rect x="179.08" y="152.30" width="13.27" height="1.85" fill="#9599f8" stroke="none" stroke-width="0" shape-rendering="crispEdges"/>
<rect x="179.08" y="153.80" width="13.27" height="1.85" fill="#d6daf9" stroke="none" stroke-width="0" shape-rendering="crispEdges"/>
<rect x="179.08" y="155.30" width="13.27" height="1.85" fill="#9195f8" stroke="none" stroke-width="0" shape-rendering="crispEdges"/>
<rect x="179.08" y="156.80" width="13.27" height="1.85" fill="#6a6ef7" stroke="none" stroke-width="0" shape-rendering="crispEdges"/>
<rect x="179.08" y="158.30" width="13.27" height="1.85" fill="#777bf7" stroke="none" stroke-width="0" shape-rendering="crispEdges"/>
<rect x="179.08" y="159.80" width="13.27" height="1.85" fill="#a1a5f8" stroke="none" stroke-width="0" shape-rendering="crispEdges"/>
<rect x="179.08" y="161.30" width="13.27" height="1.85" fill="#7579f7" stroke="none" stroke-width="0" shape-rendering="crispEdges"/>
<rect x="179.08" y="162.80" width="13.27" height="1.85" fill="#5357f6" stroke="none" stroke-width="0" shape-rendering="crispEdges"/>
<rect x="179.08" y="164.30" width="13.27" height="1.85" fill="#6064f6" stroke="none" stroke-width="0" shape-rendering="crispEdges"/>
<rect x="179.08" y="165.80" width="13.27" height="1.85" fill="#a6aaf8" stroke="none" stroke-width="0" shape-rendering="crispEdges"/>
<rect x="179.08" y="167.30" width="13.27" height="1.85" fill="#adb1f8" stroke="none" stroke-width="0" shape-rendering="crispEdges"/>
<rect x="179.08" y="168.80" width="13.27" height="1.85" fill="#9a9ef8" stroke="none" stroke-width="0" shape-rendering="crispEdges"/>
<rect x="179.08" y="170.30" width="13.27" height="1.85" fill="#6e72f7" stroke="none" stroke-width="0" shape-rendering="crispEdges"/>
<rect x="179.08" y="171.80" width="13.27" height="1.85" fill="#8084f7" stroke="none" stroke-width="0" shape-rendering="crispEdges"/>
<rect x="179.08" y="173.30" width="13.27" height="1.85" fill="#7377f7" stroke="none" stroke-width="0" shape-rendering="crispEdges"/>
<rect x="179.08" y="174.80" width="13.27" height="1.85" fill="#a8acf8" stroke="none" stroke-width="0" shape-rendering="crispEdges"/>
<rect x="179.08" y="176.30" width="13.27" height="1.85" fill="#a4a8f8" stroke="none" stroke-width="0" shape-rendering="crispEdges"/>
<rect x="179.08" y="177.80" width="13.27" height="1.85" fill="#aeb2f8" stroke="none" stroke-width="0" shape-rendering="crispEdges"/>
<rect x="179.08" y="179.30" width="13.27" height="1.85" fill="#6c70f7" stroke="none" stroke-width="0" shape-rendering="crispEdges"/>
<rect x="179.08" y="180.80" width="13.27" height="1.85" fill="#676bf7" stroke="none" stroke-width="0" shape-rendering="crispEdges"/>
<rect x="179.08" y="182.30" width="13.27" height="1.85" fill="#8185f7" stroke="none" stroke-width="0" shape-rendering="crispEdges"/>
<rect x="179.08" y="183.80" width="13.27" height="1.85" fill="#676bf7" stroke="none" stroke-width="0" shape-rendering="crispEdges"/>
<rect x="179.08" y="185.30" width="13.27" height="1.85" fill="#6b6ff7" stroke="none" stroke-width="0" shape-rendering="crispEdges"/>
<rect x="179.08" y="186.80" width="13.27" height="1.85" fill="#767af7" stroke="none" stroke-width="0" shape-rendering="crispEdges"/>
<rect x="179.08" y="188.30" width="13.27" height="1.85" fill="#6a6ef7" stroke="none" stroke-width="0" shape-rendering="crispEdges"/>
<rect x="179.08" y="189.80" width="13.27" height="1.85" fill="#767af7" stroke="none" stroke-width="0" shape-rendering="crispEdges"/>
<rect x="179.08" y="191.30" width="13.27" height="1.85" fill="#969af8" stroke="none" stroke-width="0" shape-rendering="crispEdges"/>
<rect x="179.08" y="192.80" width="13.27" height="1.85" fill="#e7ebfa" stroke="none" stroke-width="0" shape-rendering="crispEdges"/>
<rect x="179.08" y="194.30" width="13.27" height="1.85" fill="#474bf6" stroke="none" stroke-width="0" shape-rendering="crispEdges"/>
<rect x="179.08" y="195.80" width="13.27" height="1.75" fill="#3e42f6" stroke="none" stroke-width="0" shape-rendering="crispEdges"/>
<rect x="114.50" y="55.00" width="77.50" height="142.20" fill="none" stroke="#111" stroke-width="1.3"/>
<text x="34.66" y="31.80" font-size="8.8" font-weight="normal" fill="#231f20" textLength="40.84" lengthAdjust="spacingAndGlyphs" stroke="#231f20" stroke-width="0.25">HEL92.1.7</text>
<rect x="26.00" y="37.00" width="59.00" height="1.00" fill="#222" stroke="none" stroke-width="0"/>
<text x="20.35" y="48.40" font-size="8.9" font-weight="normal" fill="#231f20" textLength="70.55" lengthAdjust="spacingAndGlyphs" stroke="#231f20" stroke-width="0.25">Parental OTX P/R</text>
<text x="142.89" y="33.20" font-size="8.9" font-weight="normal" fill="#231f20" textLength="20.43" lengthAdjust="spacingAndGlyphs" stroke="#231f20" stroke-width="0.25">SET2</text>
<rect x="116.50" y="38.00" width="74.00" height="1.00" fill="#222" stroke="none" stroke-width="0"/>
<text x="118.33" y="49.70" font-size="8.9" font-weight="normal" fill="#231f20" textLength="69.69" lengthAdjust="spacingAndGlyphs" stroke="#231f20" stroke-width="0.25">Parental OTX-P/R</text>
<text x="21.05" y="207.90" font-size="9.0" font-weight="normal" fill="#231f20" textLength="69.68" lengthAdjust="spacingAndGlyphs" stroke="#231f20" stroke-width="0.25">≥ 1.5 fold change</text>
<text x="117.77" y="209.50" font-size="9.0" font-weight="normal" fill="#231f20" textLength="69.01" lengthAdjust="spacingAndGlyphs" stroke="#231f20" stroke-width="0.25">≥ 1.5 fold change</text>
<rect x="91.00" y="58.40" width="1.50" height="70.30" fill="#444" stroke="none" stroke-width="0"/>
<rect x="91.00" y="137.20" width="1.50" height="57.80" fill="#444" stroke="none" stroke-width="0"/>
<rect x="194.60" y="57.40" width="1.40" height="62.80" fill="#3a3a3a" stroke="none" stroke-width="0"/>
<rect x="194.60" y="126.80" width="1.40" height="69.20" fill="#3a3a3a" stroke="none" stroke-width="0"/>
<text transform="translate(97.00,0) rotate(90)" x="67.38" y="0" font-size="8.6" fill="#231f20" stroke="#231f20" stroke-width="0.25" textLength="52.83" lengthAdjust="spacingAndGlyphs">340  induced</text>
<text transform="translate(97.00,0) rotate(90)" x="139.45" y="0" font-size="8.6" fill="#231f20" stroke="#231f20" stroke-width="0.25" textLength="54.61" lengthAdjust="spacingAndGlyphs">267  depleted</text>
<text transform="translate(200.80,0) rotate(90)" x="62.20" y="0" font-size="8.6" fill="#231f20" stroke="#231f20" stroke-width="0.25" textLength="52.58" lengthAdjust="spacingAndGlyphs">924  induced</text>
<text transform="translate(200.80,0) rotate(90)" x="132.27" y="0" font-size="8.6" fill="#231f20" stroke="#231f20" stroke-width="0.25" textLength="59.39" lengthAdjust="spacingAndGlyphs">1018  depleted</text>
<ellipse cx="343" cy="114" rx="68.3" ry="72" fill="#e7bac6" stroke="#111" stroke-width="1.45"/>
<ellipse cx="424" cy="111" rx="44.7" ry="42" fill="#e7bac6" stroke="#111" stroke-width="1.45"/>
<clipPath id="bigc"><ellipse cx="343" cy="114" rx="68.3" ry="72"/></clipPath>
<ellipse cx="424" cy="111" rx="44.7" ry="42" fill="#d98ca2" clip-path="url(#bigc)"/>
<ellipse cx="343" cy="114" rx="68.3" ry="72" fill="none" stroke="#111" stroke-width="1.45"/>
<ellipse cx="424" cy="111" rx="44.7" ry="42" fill="none" stroke="#111" stroke-width="1.45"/>
<text x="286.81" y="35.10" font-size="9.0" font-weight="normal" fill="#231f20" textLength="59.05" lengthAdjust="spacingAndGlyphs" stroke="#231f20" stroke-width="0.25">SET2-OTX P/R</text>
<text x="418.05" y="61.70" font-size="9.0" font-weight="normal" fill="#231f20" textLength="54.49" lengthAdjust="spacingAndGlyphs" stroke="#231f20" stroke-width="0.25">HEL-OTX P/R</text>
<text x="335.80" y="113.80" font-size="9.3" font-weight="normal" fill="#231f20" textLength="14.92" lengthAdjust="spacingAndGlyphs" stroke="#231f20" stroke-width="0.25">855</text>
<text x="391.60" y="113.80" font-size="9.3" font-weight="normal" fill="#231f20" textLength="10.28" lengthAdjust="spacingAndGlyphs" stroke="#231f20" stroke-width="0.25">69</text>
<text x="425.45" y="113.80" font-size="9.3" font-weight="normal" fill="#231f20" textLength="14.49" lengthAdjust="spacingAndGlyphs" stroke="#231f20" stroke-width="0.25">271</text>
<text x="304.42" y="202.40" font-size="9.2" font-weight="normal" fill="#231f20" textLength="77.11" lengthAdjust="spacingAndGlyphs" stroke="#231f20" stroke-width="0.25">Upregulated genes</text>
<rect x="20.20" y="259.80" width="113.60" height="66.70" fill="#efefef" stroke="none" stroke-width="0"/>
<rect x="34.20" y="260.00" width="98.40" height="65.60" fill="#fff" stroke="#d8d8d8" stroke-width="0.7"/>
<line x1="34.20" y1="306.50" x2="132.60" y2="306.50" stroke="#dedede" stroke-width="0.6"/>
<line x1="34.20" y1="264.80" x2="132.60" y2="264.80" stroke="#ececec" stroke-width="0.6"/>
<line x1="34.20" y1="270.60" x2="132.60" y2="270.60" stroke="#ececec" stroke-width="0.6"/>
<line x1="34.20" y1="276.40" x2="132.60" y2="276.40" stroke="#ececec" stroke-width="0.6"/>
<line x1="34.20" y1="282.30" x2="132.60" y2="282.30" stroke="#ececec" stroke-width="0.6"/>
<line x1="34.20" y1="288.20" x2="132.60" y2="288.20" stroke="#ececec" stroke-width="0.6"/>
<line x1="34.20" y1="294.10" x2="132.60" y2="294.10" stroke="#ececec" stroke-width="0.6"/>
<line x1="34.20" y1="300.00" x2="132.60" y2="300.00" stroke="#ececec" stroke-width="0.6"/>
<line x1="34.20" y1="306.00" x2="132.60" y2="306.00" stroke="#ececec" stroke-width="0.6"/>
<line x1="55.40" y1="260.00" x2="55.40" y2="306.50" stroke="#eeeeee" stroke-width="0.6"/>
<line x1="97.50" y1="260.00" x2="97.50" y2="306.50" stroke="#eeeeee" stroke-width="0.6"/>
<line x1="117.10" y1="260.00" x2="117.10" y2="306.50" stroke="#eeeeee" stroke-width="0.6"/>
<text x="33.20" y="265.90" font-size="3.0" fill="#777" text-anchor="end">0.35</text>
<text x="33.20" y="271.70" font-size="3.0" fill="#777" text-anchor="end">0.30</text>
<text x="33.20" y="277.50" font-size="3.0" fill="#777" text-anchor="end">0.25</text>
<text x="33.20" y="283.40" font-size="3.0" fill="#777" text-anchor="end">0.20</text>
<text x="33.20" y="289.30" font-size="3.0" fill="#777" text-anchor="end">0.15</text>
<text x="33.20" y="295.20" font-size="3.0" fill="#777" text-anchor="end">0.10</text>
<text x="33.20" y="301.10" font-size="3.0" fill="#777" text-anchor="end">0.05</text>
<text x="33.20" y="307.10" font-size="3.0" fill="#777" text-anchor="end">-0.05</text>
<text transform="translate(24.60,297.80) rotate(-90)" x="0" y="0" font-size="3.3" fill="#777" textLength="29.00" lengthAdjust="spacingAndGlyphs">Enrichment score (ES)</text>
<line x1="34.20" y1="299.90" x2="132.60" y2="299.90" stroke="#9a9a9a" stroke-width="0.6"/>
<rect x="34.40" y="307.00" width="93.10" height="14.30" fill="#000" stroke="none" stroke-width="0"/>
<rect x="47.20" y="307.00" width="0.83" height="14.30" fill="#6b6b6b" stroke="none" stroke-width="0"/>
<rect x="51.80" y="307.00" width="0.70" height="14.30" fill="#626262" stroke="none" stroke-width="0"/>
<rect x="80.50" y="307.00" width="0.90" height="14.30" fill="#999999" stroke="none" stroke-width="0"/>
<rect x="83.50" y="307.00" width="0.86" height="14.30" fill="#969696" stroke="none" stroke-width="0"/>
<rect x="87.60" y="307.00" width="0.64" height="14.30" fill="#747474" stroke="none" stroke-width="0"/>
<rect x="91.60" y="307.00" width="0.96" height="14.30" fill="#5d5d5d" stroke="none" stroke-width="0"/>
<rect x="94.60" y="307.00" width="0.77" height="14.30" fill="#8b8b8b" stroke="none" stroke-width="0"/>
<rect x="97.70" y="307.00" width="0.88" height="14.30" fill="#5a5a5a" stroke="none" stroke-width="0"/>
<rect x="100.70" y="307.00" width="0.89" height="14.30" fill="#7c7c7c" stroke="none" stroke-width="0"/>
<rect x="103.70" y="307.00" width="0.84" height="14.30" fill="#777777" stroke="none" stroke-width="0"/>
<rect x="107.80" y="307.00" width="0.96" height="14.30" fill="#676767" stroke="none" stroke-width="0"/>
<rect x="110.80" y="307.00" width="0.61" height="14.30" fill="#5d5d5d" stroke="none" stroke-width="0"/>
<rect x="114.80" y="307.00" width="0.60" height="14.30" fill="#9f9f9f" stroke="none" stroke-width="0"/>
<rect x="117.90" y="307.00" width="0.87" height="14.30" fill="#8a8a8a" stroke="none" stroke-width="0"/>
<rect x="119.90" y="307.00" width="0.89" height="14.30" fill="#909090" stroke="none" stroke-width="0"/>
<rect x="122.90" y="307.00" width="0.69" height="14.30" fill="#9d9d9d" stroke="none" stroke-width="0"/>
<rect x="126.00" y="307.00" width="0.98" height="14.30" fill="#929292" stroke="none" stroke-width="0"/>
<linearGradient id="g783" x1="0" x2="1" y1="0" y2="0"><stop offset="0" stop-color="#a0283a"/><stop offset="1" stop-color="#b45a72"/></linearGradient>
<rect x="34.40" y="321.30" width="28.13" height="4.00" fill="url(#g783)" stroke="none" stroke-width="0"/>
<linearGradient id="g785" x1="0" x2="1" y1="0" y2="0"><stop offset="0" stop-color="#c88cb0"/><stop offset="1" stop-color="#d4a4c6"/></linearGradient>
<rect x="62.33" y="321.30" width="16.03" height="4.00" fill="url(#g785)" stroke="none" stroke-width="0"/>
<linearGradient id="g787" x1="0" x2="1" y1="0" y2="0"><stop offset="0" stop-color="#bcbae6"/><stop offset="1" stop-color="#b4b2e6"/></linearGradient>
<rect x="78.16" y="321.30" width="22.54" height="4.00" fill="url(#g787)" stroke="none" stroke-width="0"/>
<linearGradient id="g789" x1="0" x2="1" y1="0" y2="0"><stop offset="0" stop-color="#5048c8"/><stop offset="1" stop-color="#3430b0"/></linearGradient>
<rect x="100.50" y="321.30" width="27.20" height="4.00" fill="url(#g789)" stroke="none" stroke-width="0"/>
<polyline points="34.00,300.42 34.60,298.99 35.20,296.74 36.05,292.69 36.90,289.10 37.50,288.88 38.10,287.64 38.95,286.48 39.80,284.55 40.40,283.56 41.00,281.97 41.85,281.11 42.70,279.45 43.55,278.72 44.40,277.84 45.55,276.87 46.70,276.80 47.30,275.25 47.90,275.63 48.45,277.08 49.00,278.38 49.60,277.16 50.20,276.20 51.05,274.43 51.90,271.98 52.50,273.48 53.10,274.38 53.95,272.76 54.80,270.87 55.65,270.02 56.50,268.32 57.40,267.19 58.30,266.92 58.85,267.91 59.40,269.06 60.00,266.78 60.60,265.88 61.15,263.83 61.70,263.50 62.55,262.30 63.40,262.33 64.55,262.55 65.70,262.71 66.60,263.84 67.50,264.95 68.35,266.66 69.20,268.50 70.35,269.78 71.50,271.31 72.65,270.07 73.80,269.24 74.40,270.27 75.00,271.27 76.15,269.84 77.30,268.52 78.15,268.67 79.00,269.20 79.60,268.95 80.20,268.55 81.35,270.11 82.50,271.44 83.95,273.23 85.40,276.75 86.55,274.58 87.70,273.32 88.85,272.19 90.00,269.69 91.05,267.92 92.10,266.82 93.05,267.85 94.00,269.04 95.15,270.63 96.30,271.32 97.20,272.76 98.10,273.29 98.65,274.12 99.20,273.50 100.35,276.20 101.50,278.96 102.95,281.73 104.40,285.24 105.25,286.40 106.10,287.10 107.25,289.89 108.40,291.57 109.30,292.82 110.20,294.04 111.35,295.76 112.50,297.37 113.65,299.71 114.80,301.32 115.65,301.59 116.50,303.20 117.40,301.95 118.30,301.24 119.15,301.83 120.00,303.18 120.85,301.94 121.70,302.09 122.55,302.26 123.40,302.49 124.55,301.67 125.70,300.17 126.60,300.86 127.50,301.70" fill="none" stroke="#10f010" stroke-width="1.9" stroke-linejoin="round"/>
<text x="22.90" y="248.20" font-size="9.8" font-weight="normal" fill="#231f20" textLength="107.79" lengthAdjust="spacingAndGlyphs" stroke="#231f20" stroke-width="0.25">TCF7L2/LEF1 target genes</text>
<text x="35.28" y="255.70" font-size="5.0" font-weight="normal" fill="#444" textLength="83.09" lengthAdjust="spacingAndGlyphs">Enrichment plot CTTTGT_VSLEF1_Q2</text>
<text x="46.56" y="290.50" font-size="7.2" font-weight="normal" fill="#231f20" textLength="45.79" lengthAdjust="spacingAndGlyphs" stroke="#231f20" stroke-width="0.125">N.E.S. =2.426</text>
<text x="46.59" y="299.40" font-size="7.2" font-weight="normal" fill="#231f20" textLength="59.31" lengthAdjust="spacingAndGlyphs" stroke="#231f20" stroke-width="0.125">F.D.R.  q = 0.0056</text>
<text x="25.69" y="343.80" font-size="8.6" font-weight="normal" fill="#231f20" textLength="38.93" lengthAdjust="spacingAndGlyphs" stroke="#231f20" stroke-width="0.25">Increased</text>
<text x="23.25" y="354.50" font-size="8.6" font-weight="normal" fill="#231f20" textLength="44.83" lengthAdjust="spacingAndGlyphs" stroke="#231f20" stroke-width="0.25">in OTX P/R</text>
<text x="76.50" y="343.80" font-size="8.6" font-weight="normal" fill="#231f20" textLength="43.63" lengthAdjust="spacingAndGlyphs" stroke="#231f20" stroke-width="0.25">Decreased</text>
<text x="75.55" y="354.50" font-size="8.6" font-weight="normal" fill="#231f20" textLength="46.06" lengthAdjust="spacingAndGlyphs" stroke="#231f20" stroke-width="0.25">in OTX P/R</text>
<line x1="35.50" y1="331.70" x2="77.70" y2="331.70" stroke="#b1243c" stroke-width="1.2"/>
<path d="M31.50,331.70 L38.00,329.10 L36.50,331.70 L38.00,334.30 Z" fill="#b1243c"/>
<line x1="80.50" y1="331.70" x2="126.40" y2="331.70" stroke="#2f4f8f" stroke-width="1.2"/>
<path d="M130.40,331.70 L123.90,329.10 L125.40,331.70 L123.90,334.30 Z" fill="#2f4f8f"/>
<rect x="144.80" y="260.00" width="10.40" height="54.90" fill="#efefef" stroke="none" stroke-width="0"/>
<rect x="155.20" y="260.20" width="102.00" height="66.00" fill="#fff" stroke="#d8d8d8" stroke-width="0.7"/>
<line x1="155.20" y1="307.20" x2="257.20" y2="307.20" stroke="#dedede" stroke-width="0.6"/>
<line x1="155.20" y1="263.10" x2="257.20" y2="263.10" stroke="#ececec" stroke-width="0.6"/>
<line x1="155.20" y1="270.00" x2="257.20" y2="270.00" stroke="#ececec" stroke-width="0.6"/>
<line x1="155.20" y1="277.10" x2="257.20" y2="277.10" stroke="#ececec" stroke-width="0.6"/>
<line x1="155.20" y1="284.40" x2="257.20" y2="284.40" stroke="#ececec" stroke-width="0.6"/>
<line x1="155.20" y1="291.70" x2="257.20" y2="291.70" stroke="#ececec" stroke-width="0.6"/>
<line x1="155.20" y1="298.80" x2="257.20" y2="298.80" stroke="#ececec" stroke-width="0.6"/>
<line x1="155.20" y1="305.70" x2="257.20" y2="305.70" stroke="#ececec" stroke-width="0.6"/>
<line x1="177.70" y1="260.20" x2="177.70" y2="307.20" stroke="#eeeeee" stroke-width="0.6"/>
<line x1="198.40" y1="260.20" x2="198.40" y2="307.20" stroke="#eeeeee" stroke-width="0.6"/>
<line x1="221.10" y1="260.20" x2="221.10" y2="307.20" stroke="#eeeeee" stroke-width="0.6"/>
<line x1="241.50" y1="260.20" x2="241.50" y2="307.20" stroke="#eeeeee" stroke-width="0.6"/>
<text x="153.80" y="264.20" font-size="3.0" fill="#777" text-anchor="end">0.100</text>
<text x="153.80" y="271.10" font-size="3.0" fill="#777" text-anchor="end">0.075</text>
<text x="153.80" y="278.20" font-size="3.0" fill="#777" text-anchor="end">0.050</text>
<text x="153.80" y="285.50" font-size="3.0" fill="#777" text-anchor="end">0.025</text>
<text x="153.80" y="292.80" font-size="3.0" fill="#777" text-anchor="end">0.000</text>
<text x="153.80" y="299.90" font-size="3.0" fill="#777" text-anchor="end">-0.025</text>
<text x="153.80" y="306.80" font-size="3.0" fill="#777" text-anchor="end">-0.050</text>
<line x1="155.20" y1="291.70" x2="257.20" y2="291.70" stroke="#9a9a9a" stroke-width="0.6"/>
<rect x="155.60" y="307.90" width="96.90" height="14.90" fill="#fff" stroke="none" stroke-width="0"/>
<rect x="155.60" y="307.90" width="0.75" height="14.90" fill="#ececec" stroke="none" stroke-width="0" shape-rendering="crispEdges"/>
<rect x="156.30" y="307.90" width="1.05" height="14.90" fill="#979797" stroke="none" stroke-width="0" shape-rendering="crispEdges"/>
<rect x="157.30" y="307.90" width="1.05" height="14.90" fill="#8c8c8c" stroke="none" stroke-width="0" shape-rendering="crispEdges"/>
<rect x="158.30" y="307.90" width="1.05" height="14.90" fill="#7e7e7e" stroke="none" stroke-width="0" shape-rendering="crispEdges"/>
<rect x="159.30" y="307.90" width="1.05" height="14.90" fill="#777777" stroke="none" stroke-width="0" shape-rendering="crispEdges"/>
<rect x="160.30" y="307.90" width="1.35" height="14.90" fill="#d8d8d8" stroke="none" stroke-width="0" shape-rendering="crispEdges"/>
<rect x="161.60" y="307.90" width="1.05" height="14.90" fill="#7d7d7d" stroke="none" stroke-width="0" shape-rendering="crispEdges"/>
<rect x="162.60" y="307.90" width="1.05" height="14.90" fill="#676767" stroke="none" stroke-width="0" shape-rendering="crispEdges"/>
<rect x="163.60" y="307.90" width="1.05" height="14.90" fill="#c1c1c1" stroke="none" stroke-width="0" shape-rendering="crispEdges"/>
<rect x="164.60" y="307.90" width="1.05" height="14.90" fill="#aaaaaa" stroke="none" stroke-width="0" shape-rendering="crispEdges"/>
<rect x="165.60" y="307.90" width="1.05" height="14.90" fill="#b3b3b3" stroke="none" stroke-width="0" shape-rendering="crispEdges"/>
<rect x="166.60" y="307.90" width="1.05" height="14.90" fill="#828282" stroke="none" stroke-width="0" shape-rendering="crispEdges"/>
<rect x="167.60" y="307.90" width="1.05" height="14.90" fill="#acacac" stroke="none" stroke-width="0" shape-rendering="crispEdges"/>
<rect x="168.60" y="307.90" width="1.05" height="14.90" fill="#b6b6b6" stroke="none" stroke-width="0" shape-rendering="crispEdges"/>
<rect x="169.60" y="307.90" width="1.35" height="14.90" fill="#858585" stroke="none" stroke-width="0" shape-rendering="crispEdges"/>
<rect x="170.90" y="307.90" width="1.35" height="14.90" fill="#a0a0a0" stroke="none" stroke-width="0" shape-rendering="crispEdges"/>
<rect x="172.20" y="307.90" width="1.35" height="14.90" fill="#b9b9b9" stroke="none" stroke-width="0" shape-rendering="crispEdges"/>
<rect x="173.50" y="307.90" width="1.05" height="14.90" fill="#5d5d5d" stroke="none" stroke-width="0" shape-rendering="crispEdges"/>
<rect x="174.50" y="307.90" width="1.05" height="14.90" fill="#b2b2b2" stroke="none" stroke-width="0" shape-rendering="crispEdges"/>
<rect x="175.50" y="307.90" width="1.35" height="14.90" fill="#a3a3a3" stroke="none" stroke-width="0" shape-rendering="crispEdges"/>
<rect x="176.80" y="307.90" width="1.05" height="14.90" fill="#bababa" stroke="none" stroke-width="0" shape-rendering="crispEdges"/>
<rect x="177.80" y="307.90" width="1.05" height="14.90" fill="#838383" stroke="none" stroke-width="0" shape-rendering="crispEdges"/>
<rect x="178.80" y="307.90" width="1.35" height="14.90" fill="#a1a1a1" stroke="none" stroke-width="0" shape-rendering="crispEdges"/>
<rect x="180.10" y="307.90" width="1.05" height="14.90" fill="#7c7c7c" stroke="none" stroke-width="0" shape-rendering="crispEdges"/>
<rect x="181.10" y="307.90" width="0.75" height="14.90" fill="#c1c1c1" stroke="none" stroke-width="0" shape-rendering="crispEdges"/>
<rect x="181.80" y="307.90" width="1.05" height="14.90" fill="#aeaeae" stroke="none" stroke-width="0" shape-rendering="crispEdges"/>
<rect x="182.80" y="307.90" width="0.75" height="14.90" fill="#f5f5f5" stroke="none" stroke-width="0" shape-rendering="crispEdges"/>
<rect x="183.50" y="307.90" width="0.75" height="14.90" fill="#909090" stroke="none" stroke-width="0" shape-rendering="crispEdges"/>
<rect x="184.20" y="307.90" width="1.05" height="14.90" fill="#cacaca" stroke="none" stroke-width="0" shape-rendering="crispEdges"/>
<rect x="185.20" y="307.90" width="1.05" height="14.90" fill="#808080" stroke="none" stroke-width="0" shape-rendering="crispEdges"/>
<rect x="186.20" y="307.90" width="1.05" height="14.90" fill="#a6a6a6" stroke="none" stroke-width="0" shape-rendering="crispEdges"/>
<rect x="187.20" y="307.90" width="0.75" height="14.90" fill="#ececec" stroke="none" stroke-width="0" shape-rendering="crispEdges"/>
<rect x="187.90" y="307.90" width="1.05" height="14.90" fill="#979797" stroke="none" stroke-width="0" shape-rendering="crispEdges"/>
<rect x="188.90" y="307.90" width="0.75" height="14.90" fill="#040404" stroke="none" stroke-width="0" shape-rendering="crispEdges"/>
<rect x="189.60" y="307.90" width="0.75" height="14.90" fill="#fefefe" stroke="none" stroke-width="0" shape-rendering="crispEdges"/>
<rect x="190.30" y="307.90" width="0.75" height="14.90" fill="#cecece" stroke="none" stroke-width="0" shape-rendering="crispEdges"/>
<rect x="191.00" y="307.90" width="1.05" height="14.90" fill="#d0d0d0" stroke="none" stroke-width="0" shape-rendering="crispEdges"/>
<rect x="192.00" y="307.90" width="0.75" height="14.90" fill="#f7f7f7" stroke="none" stroke-width="0" shape-rendering="crispEdges"/>
<rect x="192.70" y="307.90" width="1.05" height="14.90" fill="#b3b3b3" stroke="none" stroke-width="0" shape-rendering="crispEdges"/>
<rect x="193.70" y="307.90" width="0.75" height="14.90" fill="#717171" stroke="none" stroke-width="0" shape-rendering="crispEdges"/>
<rect x="194.40" y="307.90" width="0.75" height="14.90" fill="#767676" stroke="none" stroke-width="0" shape-rendering="crispEdges"/>
<rect x="195.10" y="307.90" width="1.35" height="14.90" fill="#efefef" stroke="none" stroke-width="0" shape-rendering="crispEdges"/>
<rect x="196.40" y="307.90" width="0.75" height="14.90" fill="#9a9a9a" stroke="none" stroke-width="0" shape-rendering="crispEdges"/>
<rect x="197.10" y="307.90" width="1.05" height="14.90" fill="#585858" stroke="none" stroke-width="0" shape-rendering="crispEdges"/>
<rect x="198.10" y="307.90" width="1.05" height="14.90" fill="#141414" stroke="none" stroke-width="0" shape-rendering="crispEdges"/>
<rect x="199.10" y="307.90" width="0.75" height="14.90" fill="#fafafa" stroke="none" stroke-width="0" shape-rendering="crispEdges"/>
<rect x="199.80" y="307.90" width="1.05" height="14.90" fill="#9e9e9e" stroke="none" stroke-width="0" shape-rendering="crispEdges"/>
<rect x="200.80" y="307.90" width="1.05" height="14.90" fill="#727272" stroke="none" stroke-width="0" shape-rendering="crispEdges"/>
<rect x="201.80" y="307.90" width="1.05" height="14.90" fill="#7c7c7c" stroke="none" stroke-width="0" shape-rendering="crispEdges"/>
<rect x="202.80" y="307.90" width="0.75" height="14.90" fill="#818181" stroke="none" stroke-width="0" shape-rendering="crispEdges"/>
<rect x="203.50" y="307.90" width="1.05" height="14.90" fill="#959595" stroke="none" stroke-width="0" shape-rendering="crispEdges"/>
<rect x="204.50" y="307.90" width="1.05" height="14.90" fill="#282828" stroke="none" stroke-width="0" shape-rendering="crispEdges"/>
<rect x="205.50" y="307.90" width="1.05" height="14.90" fill="#a6a6a6" stroke="none" stroke-width="0" shape-rendering="crispEdges"/>
<rect x="206.50" y="307.90" width="0.75" height="14.90" fill="#989898" stroke="none" stroke-width="0" shape-rendering="crispEdges"/>
<rect x="207.20" y="307.90" width="1.05" height="14.90" fill="#0e0e0e" stroke="none" stroke-width="0" shape-rendering="crispEdges"/>
<rect x="208.20" y="307.90" width="1.05" height="14.90" fill="#b5b5b5" stroke="none" stroke-width="0" shape-rendering="crispEdges"/>
<rect x="209.20" y="307.90" width="1.35" height="14.90" fill="#929292" stroke="none" stroke-width="0" shape-rendering="crispEdges"/>
<rect x="210.50" y="307.90" width="1.35" height="14.90" fill="#7f7f7f" stroke="none" stroke-width="0" shape-rendering="crispEdges"/>
<rect x="211.80" y="307.90" width="0.75" height="14.90" fill="#9d9d9d" stroke="none" stroke-width="0" shape-rendering="crispEdges"/>
<rect x="212.50" y="307.90" width="0.75" height="14.90" fill="#979797" stroke="none" stroke-width="0" shape-rendering="crispEdges"/>
<rect x="213.20" y="307.90" width="1.05" height="14.90" fill="#010101" stroke="none" stroke-width="0" shape-rendering="crispEdges"/>
<rect x="214.20" y="307.90" width="1.35" height="14.90" fill="#707070" stroke="none" stroke-width="0" shape-rendering="crispEdges"/>
<rect x="215.50" y="307.90" width="1.05" height="14.90" fill="#878787" stroke="none" stroke-width="0" shape-rendering="crispEdges"/>
<rect x="216.50" y="307.90" width="1.35" height="14.90" fill="#b7b7b7" stroke="none" stroke-width="0" shape-rendering="crispEdges"/>
<rect x="217.80" y="307.90" width="1.35" height="14.90" fill="#929292" stroke="none" stroke-width="0" shape-rendering="crispEdges"/>
<rect x="219.10" y="307.90" width="1.05" height="14.90" fill="#787878" stroke="none" stroke-width="0" shape-rendering="crispEdges"/>
<rect x="220.10" y="307.90" width="0.75" height="14.90" fill="#6b6b6b" stroke="none" stroke-width="0" shape-rendering="crispEdges"/>
<rect x="220.80" y="307.90" width="0.75" height="14.90" fill="#737373" stroke="none" stroke-width="0" shape-rendering="crispEdges"/>
<rect x="221.50" y="307.90" width="1.05" height="14.90" fill="#e2e2e2" stroke="none" stroke-width="0" shape-rendering="crispEdges"/>
<rect x="222.50" y="307.90" width="1.35" height="14.90" fill="#131313" stroke="none" stroke-width="0" shape-rendering="crispEdges"/>
<rect x="223.80" y="307.90" width="1.05" height="14.90" fill="#858585" stroke="none" stroke-width="0" shape-rendering="crispEdges"/>
<rect x="224.80" y="307.90" width="1.35" height="14.90" fill="#282828" stroke="none" stroke-width="0" shape-rendering="crispEdges"/>
<rect x="226.10" y="307.90" width="1.35" height="14.90" fill="#818181" stroke="none" stroke-width="0" shape-rendering="crispEdges"/>
<rect x="227.40" y="307.90" width="0.75" height="14.90" fill="#e1e1e1" stroke="none" stroke-width="0" shape-rendering="crispEdges"/>
<rect x="228.10" y="307.90" width="1.05" height="14.90" fill="#818181" stroke="none" stroke-width="0" shape-rendering="crispEdges"/>
<rect x="229.10" y="307.90" width="1.35" height="14.90" fill="#6e6e6e" stroke="none" stroke-width="0" shape-rendering="crispEdges"/>
<rect x="230.40" y="307.90" width="1.05" height="14.90" fill="#4f4f4f" stroke="none" stroke-width="0" shape-rendering="crispEdges"/>
<rect x="231.40" y="307.90" width="1.35" height="14.90" fill="#8f8f8f" stroke="none" stroke-width="0" shape-rendering="crispEdges"/>
<rect x="232.70" y="307.90" width="1.05" height="14.90" fill="#050505" stroke="none" stroke-width="0" shape-rendering="crispEdges"/>
<rect x="233.70" y="307.90" width="1.05" height="14.90" fill="#b1b1b1" stroke="none" stroke-width="0" shape-rendering="crispEdges"/>
<rect x="234.70" y="307.90" width="0.75" height="14.90" fill="#747474" stroke="none" stroke-width="0" shape-rendering="crispEdges"/>
<rect x="235.40" y="307.90" width="1.35" height="14.90" fill="#7a7a7a" stroke="none" stroke-width="0" shape-rendering="crispEdges"/>
<rect x="236.70" y="307.90" width="1.05" height="14.90" fill="#5b5b5b" stroke="none" stroke-width="0" shape-rendering="crispEdges"/>
<rect x="237.70" y="307.90" width="1.05" height="14.90" fill="#7a7a7a" stroke="none" stroke-width="0" shape-rendering="crispEdges"/>
<rect x="238.70" y="307.90" width="1.35" height="14.90" fill="#a5a5a5" stroke="none" stroke-width="0" shape-rendering="crispEdges"/>
<rect x="240.00" y="307.90" width="1.35" height="14.90" fill="#8c8c8c" stroke="none" stroke-width="0" shape-rendering="crispEdges"/>
<rect x="241.30" y="307.90" width="1.05" height="14.90" fill="#666666" stroke="none" stroke-width="0" shape-rendering="crispEdges"/>
<rect x="242.30" y="307.90" width="1.05" height="14.90" fill="#6c6c6c" stroke="none" stroke-width="0" shape-rendering="crispEdges"/>
<rect x="243.30" y="307.90" width="0.75" height="14.90" fill="#4e4e4e" stroke="none" stroke-width="0" shape-rendering="crispEdges"/>
<rect x="244.00" y="307.90" width="0.75" height="14.90" fill="#0b0b0b" stroke="none" stroke-width="0" shape-rendering="crispEdges"/>
<rect x="244.70" y="307.90" width="1.05" height="14.90" fill="#a9a9a9" stroke="none" stroke-width="0" shape-rendering="crispEdges"/>
<rect x="245.70" y="307.90" width="0.75" height="14.90" fill="#121212" stroke="none" stroke-width="0" shape-rendering="crispEdges"/>
<rect x="246.40" y="307.90" width="1.35" height="14.90" fill="#585858" stroke="none" stroke-width="0" shape-rendering="crispEdges"/>
<rect x="247.70" y="307.90" width="1.05" height="14.90" fill="#6b6b6b" stroke="none" stroke-width="0" shape-rendering="crispEdges"/>
<rect x="248.70" y="307.90" width="1.35" height="14.90" fill="#212121" stroke="none" stroke-width="0" shape-rendering="crispEdges"/>
<rect x="250.00" y="307.90" width="1.05" height="14.90" fill="#767676" stroke="none" stroke-width="0" shape-rendering="crispEdges"/>
<rect x="251.00" y="307.90" width="1.05" height="14.90" fill="#a3a3a3" stroke="none" stroke-width="0" shape-rendering="crispEdges"/>
<rect x="252.00" y="307.90" width="0.55" height="14.90" fill="#b9b9b9" stroke="none" stroke-width="0" shape-rendering="crispEdges"/>
<linearGradient id="g925" x1="0" x2="1" y1="0" y2="0"><stop offset="0" stop-color="#ee4a55"/><stop offset="1" stop-color="#f07a88"/></linearGradient>
<rect x="155.60" y="322.80" width="29.27" height="3.60" fill="url(#g925)" stroke="none" stroke-width="0"/>
<linearGradient id="g927" x1="0" x2="1" y1="0" y2="0"><stop offset="0" stop-color="#f0a6d8"/><stop offset="1" stop-color="#f2b8e0"/></linearGradient>
<rect x="184.67" y="322.80" width="16.67" height="3.60" fill="url(#g927)" stroke="none" stroke-width="0"/>
<linearGradient id="g929" x1="0" x2="1" y1="0" y2="0"><stop offset="0" stop-color="#d8d8fa"/><stop offset="1" stop-color="#cccaf6"/></linearGradient>
<rect x="201.14" y="322.80" width="28.30" height="3.60" fill="url(#g929)" stroke="none" stroke-width="0"/>
<linearGradient id="g931" x1="0" x2="1" y1="0" y2="0"><stop offset="0" stop-color="#6a66ee"/><stop offset="1" stop-color="#3c34d8"/></linearGradient>
<rect x="229.24" y="322.80" width="23.46" height="3.60" fill="url(#g931)" stroke="none" stroke-width="0"/>
<polyline points="155.20,291.34 156.05,292.37 156.90,293.97 157.80,294.69 158.70,296.74 159.55,298.03 160.40,300.34 161.25,298.54 162.10,296.27 162.95,296.95 163.80,298.71 164.70,298.94 165.60,299.74 166.45,298.11 167.30,297.42 168.15,298.65 169.00,299.69 169.90,299.04 170.80,297.24 171.65,298.99 172.50,300.83 173.35,299.57 174.20,298.00 175.10,300.35 176.00,302.65 176.85,303.84 177.70,304.15 178.55,299.61 179.40,295.89 180.00,296.45 180.60,297.93 181.45,297.65 182.30,296.18 183.15,298.73 184.00,300.31 184.90,300.99 185.80,302.12 186.65,299.83 187.50,298.02 188.35,299.79 189.20,300.93 189.80,296.84 190.40,293.41 191.25,292.27 192.10,292.15 193.25,290.10 194.40,287.41 195.00,286.11 195.60,283.34 196.15,280.63 196.70,277.28 197.55,274.53 198.40,273.20 199.30,272.02 200.20,272.59 201.25,271.09 202.30,268.97 202.90,270.41 203.50,270.93 204.35,267.96 205.20,264.56 205.75,264.36 206.30,263.34 207.20,264.06 208.10,265.77 209.25,267.21 210.40,268.51 211.55,270.04 212.70,272.75 213.55,271.11 214.40,269.59 215.25,270.96 216.10,273.24 217.00,272.22 217.90,271.93 218.75,272.46 219.60,273.81 220.75,275.08 221.90,274.90 222.75,274.42 223.60,273.54 224.50,275.39 225.40,276.14 226.25,277.19 227.10,278.15 227.70,277.63 228.30,275.37 229.15,279.01 230.00,281.75 231.15,284.11 232.30,286.35 233.45,287.71 234.60,289.20 235.20,288.38 235.80,288.75 236.95,289.99 238.10,292.34 238.95,294.29 239.80,295.55 240.65,295.29 241.50,294.03 242.65,294.64 243.80,296.35 244.95,296.53 246.10,297.49 247.25,294.73 248.40,290.97 249.30,293.82 250.20,295.73 251.35,294.14 252.50,291.30" fill="none" stroke="#10f010" stroke-width="1.9" stroke-linejoin="round"/>
<text x="154.25" y="249.30" font-size="9.8" font-weight="normal" fill="#231f20" textLength="97.19" lengthAdjust="spacingAndGlyphs" stroke="#231f20" stroke-width="0.25">MYC/MAX target genes</text>
<text x="170.66" y="256.00" font-size="5.0" font-weight="normal" fill="#444" textLength="64.97" lengthAdjust="spacingAndGlyphs">Enrichment plot MYCMAX_02</text>
<text x="189.99" y="297.80" font-size="7.2" font-weight="normal" fill="#231f20" textLength="45.96" lengthAdjust="spacingAndGlyphs" stroke="#231f20" stroke-width="0.125">N.E.S. =1.528</text>
<text x="190.14" y="306.20" font-size="7.2" font-weight="normal" fill="#231f20" textLength="54.39" lengthAdjust="spacingAndGlyphs" stroke="#231f20" stroke-width="0.125">F.D.R.  q = 0.046</text>
<text x="154.79" y="344.20" font-size="8.6" font-weight="normal" fill="#231f20" textLength="40.09" lengthAdjust="spacingAndGlyphs" stroke="#231f20" stroke-width="0.25">Increased</text>
<text x="151.72" y="355.00" font-size="8.6" font-weight="normal" fill="#231f20" textLength="46.35" lengthAdjust="spacingAndGlyphs" stroke="#231f20" stroke-width="0.25">in OTX P/R</text>
<text x="206.12" y="344.20" font-size="8.6" font-weight="normal" fill="#231f20" textLength="43.51" lengthAdjust="spacingAndGlyphs" stroke="#231f20" stroke-width="0.25">Decreased</text>
<text x="204.95" y="355.00" font-size="8.6" font-weight="normal" fill="#231f20" textLength="46.36" lengthAdjust="spacingAndGlyphs" stroke="#231f20" stroke-width="0.25">in OTX P/R</text>
<line x1="156.70" y1="332.00" x2="202.00" y2="332.00" stroke="#b1243c" stroke-width="1.2"/>
<path d="M152.70,332.00 L159.20,329.40 L157.70,332.00 L159.20,334.60 Z" fill="#b1243c"/>
<line x1="204.70" y1="332.00" x2="250.00" y2="332.00" stroke="#2f4f8f" stroke-width="1.2"/>
<path d="M254.00,332.00 L247.50,329.40 L249.00,332.00 L247.50,334.60 Z" fill="#2f4f8f"/>
<rect x="19.80" y="394.20" width="7.20" height="67.30" fill="#efefef" stroke="none" stroke-width="0"/>
<rect x="27.00" y="395.10" width="107.60" height="66.10" fill="#fff" stroke="#d8d8d8" stroke-width="0.7"/>
<line x1="27.00" y1="442.00" x2="134.60" y2="442.00" stroke="#dedede" stroke-width="0.6"/>
<line x1="27.00" y1="398.70" x2="134.60" y2="398.70" stroke="#ececec" stroke-width="0.6"/>
<line x1="27.00" y1="403.60" x2="134.60" y2="403.60" stroke="#ececec" stroke-width="0.6"/>
<line x1="27.00" y1="408.50" x2="134.60" y2="408.50" stroke="#ececec" stroke-width="0.6"/>
<line x1="27.00" y1="413.60" x2="134.60" y2="413.60" stroke="#ececec" stroke-width="0.6"/>
<line x1="27.00" y1="418.60" x2="134.60" y2="418.60" stroke="#ececec" stroke-width="0.6"/>
<line x1="27.00" y1="423.70" x2="134.60" y2="423.70" stroke="#ececec" stroke-width="0.6"/>
<line x1="27.00" y1="428.60" x2="134.60" y2="428.60" stroke="#ececec" stroke-width="0.6"/>
<line x1="27.00" y1="433.60" x2="134.60" y2="433.60" stroke="#ececec" stroke-width="0.6"/>
<line x1="27.00" y1="438.70" x2="134.60" y2="438.70" stroke="#ececec" stroke-width="0.6"/>
<line x1="49.40" y1="395.10" x2="49.40" y2="442.00" stroke="#eeeeee" stroke-width="0.6"/>
<line x1="73.00" y1="395.10" x2="73.00" y2="442.00" stroke="#eeeeee" stroke-width="0.6"/>
<line x1="98.00" y1="395.10" x2="98.00" y2="442.00" stroke="#eeeeee" stroke-width="0.6"/>
<line x1="119.00" y1="395.10" x2="119.00" y2="442.00" stroke="#eeeeee" stroke-width="0.6"/>
<text x="25.60" y="399.80" font-size="3.0" fill="#777" text-anchor="end">0.400</text>
<text x="25.60" y="404.70" font-size="3.0" fill="#777" text-anchor="end">0.350</text>
<text x="25.60" y="409.60" font-size="3.0" fill="#777" text-anchor="end">0.300</text>
<text x="25.60" y="414.70" font-size="3.0" fill="#777" text-anchor="end">0.250</text>
<text x="25.60" y="419.70" font-size="3.0" fill="#777" text-anchor="end">0.200</text>
<text x="25.60" y="424.80" font-size="3.0" fill="#777" text-anchor="end">0.150</text>
<text x="25.60" y="429.70" font-size="3.0" fill="#777" text-anchor="end">0.100</text>
<text x="25.60" y="434.70" font-size="3.0" fill="#777" text-anchor="end">0.050</text>
<text x="25.60" y="439.80" font-size="3.0" fill="#777" text-anchor="end">0.000</text>
<line x1="27.00" y1="438.70" x2="134.60" y2="438.70" stroke="#9a9a9a" stroke-width="0.6"/>
<rect x="27.00" y="442.00" width="101.60" height="15.00" fill="#fff" stroke="none" stroke-width="0"/>
<rect x="27.00" y="442.00" width="1.05" height="15.00" fill="#949494" stroke="none" stroke-width="0" shape-rendering="crispEdges"/>
<rect x="28.00" y="442.00" width="1.35" height="15.00" fill="#989898" stroke="none" stroke-width="0" shape-rendering="crispEdges"/>
<rect x="29.30" y="442.00" width="0.75" height="15.00" fill="#838383" stroke="none" stroke-width="0" shape-rendering="crispEdges"/>
<rect x="30.00" y="442.00" width="1.05" height="15.00" fill="#1e1e1e" stroke="none" stroke-width="0" shape-rendering="crispEdges"/>
<rect x="31.00" y="442.00" width="1.35" height="15.00" fill="#535353" stroke="none" stroke-width="0" shape-rendering="crispEdges"/>
<rect x="32.30" y="442.00" width="1.05" height="15.00" fill="#919191" stroke="none" stroke-width="0" shape-rendering="crispEdges"/>
<rect x="33.30" y="442.00" width="1.35" height="15.00" fill="#a3a3a3" stroke="none" stroke-width="0" shape-rendering="crispEdges"/>
<rect x="34.60" y="442.00" width="0.75" height="15.00" fill="#252525" stroke="none" stroke-width="0" shape-rendering="crispEdges"/>
<rect x="35.30" y="442.00" width="0.75" height="15.00" fill="#a8a8a8" stroke="none" stroke-width="0" shape-rendering="crispEdges"/>
<rect x="36.00" y="442.00" width="1.35" height="15.00" fill="#767676" stroke="none" stroke-width="0" shape-rendering="crispEdges"/>
<rect x="37.30" y="442.00" width="1.35" height="15.00" fill="#868686" stroke="none" stroke-width="0" shape-rendering="crispEdges"/>
<rect x="38.60" y="442.00" width="1.35" height="15.00" fill="#5c5c5c" stroke="none" stroke-width="0" shape-rendering="crispEdges"/>
<rect x="39.90" y="442.00" width="1.05" height="15.00" fill="#7a7a7a" stroke="none" stroke-width="0" shape-rendering="crispEdges"/>
<rect x="40.90" y="442.00" width="1.05" height="15.00" fill="#777777" stroke="none" stroke-width="0" shape-rendering="crispEdges"/>
<rect x="41.90" y="442.00" width="1.35" height="15.00" fill="#828282" stroke="none" stroke-width="0" shape-rendering="crispEdges"/>
<rect x="43.20" y="442.00" width="1.35" height="15.00" fill="#545454" stroke="none" stroke-width="0" shape-rendering="crispEdges"/>
<rect x="44.50" y="442.00" width="1.35" height="15.00" fill="#979797" stroke="none" stroke-width="0" shape-rendering="crispEdges"/>
<rect x="45.80" y="442.00" width="0.75" height="15.00" fill="#545454" stroke="none" stroke-width="0" shape-rendering="crispEdges"/>
<rect x="46.50" y="442.00" width="1.05" height="15.00" fill="#5e5e5e" stroke="none" stroke-width="0" shape-rendering="crispEdges"/>
<rect x="47.50" y="442.00" width="0.75" height="15.00" fill="#949494" stroke="none" stroke-width="0" shape-rendering="crispEdges"/>
<rect x="48.20" y="442.00" width="1.05" height="15.00" fill="#8b8b8b" stroke="none" stroke-width="0" shape-rendering="crispEdges"/>
<rect x="49.20" y="442.00" width="0.75" height="15.00" fill="#282828" stroke="none" stroke-width="0" shape-rendering="crispEdges"/>
<rect x="49.90" y="442.00" width="1.35" height="15.00" fill="#040404" stroke="none" stroke-width="0" shape-rendering="crispEdges"/>
<rect x="51.20" y="442.00" width="1.35" height="15.00" fill="#717171" stroke="none" stroke-width="0" shape-rendering="crispEdges"/>
<rect x="52.50" y="442.00" width="0.75" height="15.00" fill="#7c7c7c" stroke="none" stroke-width="0" shape-rendering="crispEdges"/>
<rect x="53.20" y="442.00" width="0.75" height="15.00" fill="#343434" stroke="none" stroke-width="0" shape-rendering="crispEdges"/>
<rect x="53.90" y="442.00" width="0.75" height="15.00" fill="#525252" stroke="none" stroke-width="0" shape-rendering="crispEdges"/>
<rect x="54.60" y="442.00" width="1.05" height="15.00" fill="#616161" stroke="none" stroke-width="0" shape-rendering="crispEdges"/>
<rect x="55.60" y="442.00" width="0.75" height="15.00" fill="#9d9d9d" stroke="none" stroke-width="0" shape-rendering="crispEdges"/>
<rect x="56.30" y="442.00" width="0.75" height="15.00" fill="#8b8b8b" stroke="none" stroke-width="0" shape-rendering="crispEdges"/>
<rect x="57.00" y="442.00" width="1.35" height="15.00" fill="#737373" stroke="none" stroke-width="0" shape-rendering="crispEdges"/>
<rect x="58.30" y="442.00" width="1.05" height="15.00" fill="#ababab" stroke="none" stroke-width="0" shape-rendering="crispEdges"/>
<rect x="59.30" y="442.00" width="1.05" height="15.00" fill="#646464" stroke="none" stroke-width="0" shape-rendering="crispEdges"/>
<rect x="60.30" y="442.00" width="1.35" height="15.00" fill="#9a9a9a" stroke="none" stroke-width="0" shape-rendering="crispEdges"/>
<rect x="61.60" y="442.00" width="0.75" height="15.00" fill="#aaaaaa" stroke="none" stroke-width="0" shape-rendering="crispEdges"/>
<rect x="62.30" y="442.00" width="1.35" height="15.00" fill="#7b7b7b" stroke="none" stroke-width="0" shape-rendering="crispEdges"/>
<rect x="63.60" y="442.00" width="1.05" height="15.00" fill="#777777" stroke="none" stroke-width="0" shape-rendering="crispEdges"/>
<rect x="64.60" y="442.00" width="1.05" height="15.00" fill="#9b9b9b" stroke="none" stroke-width="0" shape-rendering="crispEdges"/>
<rect x="65.60" y="442.00" width="0.75" height="15.00" fill="#b1b1b1" stroke="none" stroke-width="0" shape-rendering="crispEdges"/>
<rect x="66.30" y="442.00" width="1.35" height="15.00" fill="#959595" stroke="none" stroke-width="0" shape-rendering="crispEdges"/>
<rect x="67.60" y="442.00" width="1.05" height="15.00" fill="#f5f5f5" stroke="none" stroke-width="0" shape-rendering="crispEdges"/>
<rect x="68.60" y="442.00" width="1.05" height="15.00" fill="#939393" stroke="none" stroke-width="0" shape-rendering="crispEdges"/>
<rect x="69.60" y="442.00" width="1.05" height="15.00" fill="#888888" stroke="none" stroke-width="0" shape-rendering="crispEdges"/>
<rect x="70.60" y="442.00" width="0.75" height="15.00" fill="#adadad" stroke="none" stroke-width="0" shape-rendering="crispEdges"/>
<rect x="71.30" y="442.00" width="1.05" height="15.00" fill="#a8a8a8" stroke="none" stroke-width="0" shape-rendering="crispEdges"/>
<rect x="72.30" y="442.00" width="1.35" height="15.00" fill="#9d9d9d" stroke="none" stroke-width="0" shape-rendering="crispEdges"/>
<rect x="73.60" y="442.00" width="1.05" height="15.00" fill="#a4a4a4" stroke="none" stroke-width="0" shape-rendering="crispEdges"/>
<rect x="74.60" y="442.00" width="1.05" height="15.00" fill="#adadad" stroke="none" stroke-width="0" shape-rendering="crispEdges"/>
<rect x="75.60" y="442.00" width="0.75" height="15.00" fill="#ebebeb" stroke="none" stroke-width="0" shape-rendering="crispEdges"/>
<rect x="76.30" y="442.00" width="0.75" height="15.00" fill="#aeaeae" stroke="none" stroke-width="0" shape-rendering="crispEdges"/>
<rect x="77.00" y="442.00" width="1.05" height="15.00" fill="#a6a6a6" stroke="none" stroke-width="0" shape-rendering="crispEdges"/>
<rect x="78.00" y="442.00" width="1.05" height="15.00" fill="#0b0b0b" stroke="none" stroke-width="0" shape-rendering="crispEdges"/>
<rect x="79.00" y="442.00" width="1.35" height="15.00" fill="#dcdcdc" stroke="none" stroke-width="0" shape-rendering="crispEdges"/>
<rect x="80.30" y="442.00" width="1.05" height="15.00" fill="#d4d4d4" stroke="none" stroke-width="0" shape-rendering="crispEdges"/>
<rect x="81.30" y="442.00" width="1.05" height="15.00" fill="#c9c9c9" stroke="none" stroke-width="0" shape-rendering="crispEdges"/>
<rect x="82.30" y="442.00" width="1.05" height="15.00" fill="#afafaf" stroke="none" stroke-width="0" shape-rendering="crispEdges"/>
<rect x="83.30" y="442.00" width="1.05" height="15.00" fill="#aaaaaa" stroke="none" stroke-width="0" shape-rendering="crispEdges"/>
<rect x="84.30" y="442.00" width="0.75" height="15.00" fill="#ffffff" stroke="none" stroke-width="0" shape-rendering="crispEdges"/>
<rect x="85.00" y="442.00" width="1.05" height="15.00" fill="#242424" stroke="none" stroke-width="0" shape-rendering="crispEdges"/>
<rect x="86.00" y="442.00" width="1.05" height="15.00" fill="#cbcbcb" stroke="none" stroke-width="0" shape-rendering="crispEdges"/>
<rect x="87.00" y="442.00" width="1.05" height="15.00" fill="#a2a2a2" stroke="none" stroke-width="0" shape-rendering="crispEdges"/>
<rect x="88.00" y="442.00" width="1.05" height="15.00" fill="#9a9a9a" stroke="none" stroke-width="0" shape-rendering="crispEdges"/>
<rect x="89.00" y="442.00" width="1.35" height="15.00" fill="#fafafa" stroke="none" stroke-width="0" shape-rendering="crispEdges"/>
<rect x="90.30" y="442.00" width="1.05" height="15.00" fill="#b5b5b5" stroke="none" stroke-width="0" shape-rendering="crispEdges"/>
<rect x="91.30" y="442.00" width="1.35" height="15.00" fill="#eeeeee" stroke="none" stroke-width="0" shape-rendering="crispEdges"/>
<rect x="92.60" y="442.00" width="1.05" height="15.00" fill="#f0f0f0" stroke="none" stroke-width="0" shape-rendering="crispEdges"/>
<rect x="93.60" y="442.00" width="1.35" height="15.00" fill="#b2b2b2" stroke="none" stroke-width="0" shape-rendering="crispEdges"/>
<rect x="94.90" y="442.00" width="1.05" height="15.00" fill="#efefef" stroke="none" stroke-width="0" shape-rendering="crispEdges"/>
<rect x="95.90" y="442.00" width="1.05" height="15.00" fill="#f6f6f6" stroke="none" stroke-width="0" shape-rendering="crispEdges"/>
<rect x="96.90" y="442.00" width="1.05" height="15.00" fill="#e8e8e8" stroke="none" stroke-width="0" shape-rendering="crispEdges"/>
<rect x="97.90" y="442.00" width="0.75" height="15.00" fill="#fafafa" stroke="none" stroke-width="0" shape-rendering="crispEdges"/>
<rect x="98.60" y="442.00" width="1.05" height="15.00" fill="#9b9b9b" stroke="none" stroke-width="0" shape-rendering="crispEdges"/>
<rect x="99.60" y="442.00" width="1.35" height="15.00" fill="#f8f8f8" stroke="none" stroke-width="0" shape-rendering="crispEdges"/>
<rect x="100.90" y="442.00" width="1.05" height="15.00" fill="#c7c7c7" stroke="none" stroke-width="0" shape-rendering="crispEdges"/>
<rect x="101.90" y="442.00" width="1.05" height="15.00" fill="#a2a2a2" stroke="none" stroke-width="0" shape-rendering="crispEdges"/>
<rect x="102.90" y="442.00" width="0.75" height="15.00" fill="#101010" stroke="none" stroke-width="0" shape-rendering="crispEdges"/>
<rect x="103.60" y="442.00" width="1.35" height="15.00" fill="#bdbdbd" stroke="none" stroke-width="0" shape-rendering="crispEdges"/>
<rect x="104.90" y="442.00" width="0.75" height="15.00" fill="#0c0c0c" stroke="none" stroke-width="0" shape-rendering="crispEdges"/>
<rect x="105.60" y="442.00" width="0.75" height="15.00" fill="#c9c9c9" stroke="none" stroke-width="0" shape-rendering="crispEdges"/>
<rect x="106.30" y="442.00" width="1.05" height="15.00" fill="#afafaf" stroke="none" stroke-width="0" shape-rendering="crispEdges"/>
<rect x="107.30" y="442.00" width="1.05" height="15.00" fill="#ededed" stroke="none" stroke-width="0" shape-rendering="crispEdges"/>
<rect x="108.30" y="442.00" width="1.35" height="15.00" fill="#e9e9e9" stroke="none" stroke-width="0" shape-rendering="crispEdges"/>
<rect x="109.60" y="442.00" width="1.05" height="15.00" fill="#f1f1f1" stroke="none" stroke-width="0" shape-rendering="crispEdges"/>
<rect x="110.60" y="442.00" width="1.35" height="15.00" fill="#ebebeb" stroke="none" stroke-width="0" shape-rendering="crispEdges"/>
<rect x="111.90" y="442.00" width="0.75" height="15.00" fill="#c1c1c1" stroke="none" stroke-width="0" shape-rendering="crispEdges"/>
<rect x="112.60" y="442.00" width="1.05" height="15.00" fill="#e2e2e2" stroke="none" stroke-width="0" shape-rendering="crispEdges"/>
<rect x="113.60" y="442.00" width="0.75" height="15.00" fill="#efefef" stroke="none" stroke-width="0" shape-rendering="crispEdges"/>
<rect x="114.30" y="442.00" width="1.35" height="15.00" fill="#141414" stroke="none" stroke-width="0" shape-rendering="crispEdges"/>
<rect x="115.60" y="442.00" width="0.75" height="15.00" fill="#181818" stroke="none" stroke-width="0" shape-rendering="crispEdges"/>
<rect x="116.30" y="442.00" width="1.05" height="15.00" fill="#c7c7c7" stroke="none" stroke-width="0" shape-rendering="crispEdges"/>
<rect x="117.30" y="442.00" width="1.05" height="15.00" fill="#aeaeae" stroke="none" stroke-width="0" shape-rendering="crispEdges"/>
<rect x="118.30" y="442.00" width="0.75" height="15.00" fill="#c4c4c4" stroke="none" stroke-width="0" shape-rendering="crispEdges"/>
<rect x="119.00" y="442.00" width="1.35" height="15.00" fill="#b3b3b3" stroke="none" stroke-width="0" shape-rendering="crispEdges"/>
<rect x="120.30" y="442.00" width="1.35" height="15.00" fill="#b8b8b8" stroke="none" stroke-width="0" shape-rendering="crispEdges"/>
<rect x="121.60" y="442.00" width="1.35" height="15.00" fill="#fbfbfb" stroke="none" stroke-width="0" shape-rendering="crispEdges"/>
<rect x="122.90" y="442.00" width="0.75" height="15.00" fill="#cdcdcd" stroke="none" stroke-width="0" shape-rendering="crispEdges"/>
<rect x="123.60" y="442.00" width="1.35" height="15.00" fill="#9b9b9b" stroke="none" stroke-width="0" shape-rendering="crispEdges"/>
<rect x="124.90" y="442.00" width="1.35" height="15.00" fill="#ffffff" stroke="none" stroke-width="0" shape-rendering="crispEdges"/>
<rect x="126.20" y="442.00" width="1.05" height="15.00" fill="#e9e9e9" stroke="none" stroke-width="0" shape-rendering="crispEdges"/>
<rect x="127.20" y="442.00" width="0.75" height="15.00" fill="#bcbcbc" stroke="none" stroke-width="0" shape-rendering="crispEdges"/>
<rect x="127.90" y="442.00" width="0.75" height="15.00" fill="#c9c9c9" stroke="none" stroke-width="0" shape-rendering="crispEdges"/>
<linearGradient id="g1074" x1="0" x2="1" y1="0" y2="0"><stop offset="0" stop-color="#ee4a55"/><stop offset="1" stop-color="#f07a88"/></linearGradient>
<rect x="27.00" y="457.00" width="31.91" height="4.10" fill="url(#g1074)" stroke="none" stroke-width="0"/>
<linearGradient id="g1076" x1="0" x2="1" y1="0" y2="0"><stop offset="0" stop-color="#f0a6d8"/><stop offset="1" stop-color="#f2b8e0"/></linearGradient>
<rect x="58.71" y="457.00" width="15.55" height="4.10" fill="url(#g1076)" stroke="none" stroke-width="0"/>
<linearGradient id="g1078" x1="0" x2="1" y1="0" y2="0"><stop offset="0" stop-color="#d8d8fa"/><stop offset="1" stop-color="#cccaf6"/></linearGradient>
<rect x="74.06" y="457.00" width="31.91" height="4.10" fill="url(#g1078)" stroke="none" stroke-width="0"/>
<linearGradient id="g1080" x1="0" x2="1" y1="0" y2="0"><stop offset="0" stop-color="#6a66ee"/><stop offset="1" stop-color="#3c34d8"/></linearGradient>
<rect x="105.77" y="457.00" width="23.73" height="4.10" fill="url(#g1080)" stroke="none" stroke-width="0"/>
<polyline points="27.80,438.74 28.50,438.47 29.20,437.13 29.80,435.64 30.40,433.73 30.95,432.47 31.50,432.35 32.10,432.26 32.70,433.53 33.55,429.66 34.40,427.33 35.25,424.39 36.10,422.67 37.00,419.88 37.90,417.49 38.75,416.34 39.60,416.25 40.45,416.70 41.30,417.45 41.90,415.55 42.50,412.81 43.35,409.35 44.20,404.77 45.10,404.83 46.00,403.62 46.85,405.32 47.70,406.43 48.55,404.20 49.40,401.00 50.25,400.78 51.10,400.03 52.00,400.05 52.90,399.50 53.75,399.32 54.60,398.23 55.45,398.81 56.30,399.55 57.20,400.46 58.10,401.25 59.25,402.79 60.40,403.94 61.25,402.21 62.10,399.36 63.25,400.61 64.40,401.08 65.85,403.40 67.30,404.15 67.85,400.79 68.40,398.30 69.30,398.16 70.20,397.23 71.05,398.07 71.90,399.41 73.05,400.30 74.20,400.10 75.45,400.95 76.70,401.91 77.85,403.08 79.00,404.04 79.90,404.04 80.80,404.75 81.65,405.50 82.50,405.16 83.35,406.57 84.20,407.08 85.35,408.13 86.50,409.90 87.65,412.36 88.80,414.51 89.95,416.39 91.10,417.92 92.00,417.76 92.90,417.97 93.75,418.55 94.60,419.60 95.75,419.79 96.90,421.45 97.75,419.59 98.60,416.78 99.80,418.25 101.00,419.73 102.40,422.43 103.80,424.44 104.95,426.22 106.10,429.47 107.25,429.68 108.40,428.75 109.30,430.29 110.20,430.23 111.05,431.13 111.90,433.08 112.75,431.65 113.60,431.85 114.50,433.12 115.40,433.37 116.25,432.48 117.10,431.74 118.25,433.14 119.40,434.26 120.55,433.64 121.70,434.19 122.55,435.44 123.40,436.07 124.30,436.61 125.20,436.91 125.75,436.13 126.30,435.96 127.15,436.29 128.00,436.88 128.60,437.60 129.20,438.40" fill="none" stroke="#10f010" stroke-width="1.9" stroke-linejoin="round"/>
<text x="29.11" y="383.30" font-size="10.6" font-weight="normal" fill="#231f20" textLength="90.43" lengthAdjust="spacingAndGlyphs" stroke="#231f20" stroke-width="0.25">NFkB target genes</text>
<text x="41.46" y="391.70" font-size="5.0" font-weight="normal" fill="#444" textLength="65.64" lengthAdjust="spacingAndGlyphs">Enrichment plot NFKB_Q6_01</text>
<text x="45.16" y="431.00" font-size="7.4" font-weight="normal" fill="#231f20" textLength="47.13" lengthAdjust="spacingAndGlyphs" stroke="#231f20" stroke-width="0.125">N.E.S. =2.931</text>
<text x="45.28" y="440.00" font-size="7.4" font-weight="normal" fill="#231f20" textLength="47.69" lengthAdjust="spacingAndGlyphs" stroke="#231f20" stroke-width="0.125">F.D.R.  q = 0.0</text>
<text x="26.31" y="478.90" font-size="8.6" font-weight="normal" fill="#231f20" textLength="39.33" lengthAdjust="spacingAndGlyphs" stroke="#231f20" stroke-width="0.25">Increased</text>
<text x="24.54" y="488.90" font-size="8.6" font-weight="normal" fill="#231f20" textLength="43.99" lengthAdjust="spacingAndGlyphs" stroke="#231f20" stroke-width="0.25">in OTX P/R</text>
<text x="76.61" y="478.90" font-size="8.6" font-weight="normal" fill="#231f20" textLength="44.17" lengthAdjust="spacingAndGlyphs" stroke="#231f20" stroke-width="0.25">Decreased</text>
<text x="76.52" y="488.90" font-size="8.6" font-weight="normal" fill="#231f20" textLength="46.52" lengthAdjust="spacingAndGlyphs" stroke="#231f20" stroke-width="0.25">in OTX P/R</text>
<line x1="27.00" y1="466.70" x2="72.70" y2="466.70" stroke="#b1243c" stroke-width="1.2"/>
<path d="M23.00,466.70 L29.50,464.10 L28.00,466.70 L29.50,469.30 Z" fill="#b1243c"/>
<line x1="73.90" y1="466.70" x2="123.70" y2="466.70" stroke="#2f4f8f" stroke-width="1.2"/>
<path d="M127.70,466.70 L121.20,464.10 L122.70,466.70 L121.20,469.30 Z" fill="#2f4f8f"/>
<rect x="144.60" y="395.30" width="14.80" height="65.10" fill="#efefef" stroke="none" stroke-width="0"/>
<rect x="159.40" y="395.10" width="101.60" height="66.00" fill="#fff" stroke="#d8d8d8" stroke-width="0.7"/>
<line x1="159.40" y1="442.10" x2="261.00" y2="442.10" stroke="#dedede" stroke-width="0.6"/>
<line x1="159.40" y1="401.20" x2="261.00" y2="401.20" stroke="#ececec" stroke-width="0.6"/>
<line x1="159.40" y1="407.10" x2="261.00" y2="407.10" stroke="#ececec" stroke-width="0.6"/>
<line x1="159.40" y1="413.10" x2="261.00" y2="413.10" stroke="#ececec" stroke-width="0.6"/>
<line x1="159.40" y1="419.20" x2="261.00" y2="419.20" stroke="#ececec" stroke-width="0.6"/>
<line x1="159.40" y1="425.20" x2="261.00" y2="425.20" stroke="#ececec" stroke-width="0.6"/>
<line x1="159.40" y1="431.30" x2="261.00" y2="431.30" stroke="#ececec" stroke-width="0.6"/>
<line x1="159.40" y1="437.30" x2="261.00" y2="437.30" stroke="#ececec" stroke-width="0.6"/>
<line x1="181.90" y1="395.10" x2="181.90" y2="442.10" stroke="#eeeeee" stroke-width="0.6"/>
<line x1="224.20" y1="395.10" x2="224.20" y2="442.10" stroke="#eeeeee" stroke-width="0.6"/>
<line x1="245.00" y1="395.10" x2="245.00" y2="442.10" stroke="#eeeeee" stroke-width="0.6"/>
<text x="157.90" y="402.30" font-size="3.0" fill="#777" text-anchor="end">0.150</text>
<text x="157.90" y="408.20" font-size="3.0" fill="#777" text-anchor="end">0.125</text>
<text x="157.90" y="414.20" font-size="3.0" fill="#777" text-anchor="end">0.100</text>
<text x="157.90" y="420.30" font-size="3.0" fill="#777" text-anchor="end">0.075</text>
<text x="157.90" y="426.30" font-size="3.0" fill="#777" text-anchor="end">0.050</text>
<text x="157.90" y="432.40" font-size="3.0" fill="#777" text-anchor="end">0.025</text>
<text x="157.90" y="438.40" font-size="3.0" fill="#777" text-anchor="end">0.000</text>
<text transform="translate(149.60,433.80) rotate(-90)" x="0" y="0" font-size="3.3" fill="#777" textLength="28.80" lengthAdjust="spacingAndGlyphs">Enrichment score (ES)</text>
<line x1="159.40" y1="437.40" x2="261.00" y2="437.40" stroke="#9a9a9a" stroke-width="0.6"/>
<rect x="159.60" y="443.10" width="94.90" height="14.30" fill="#fff" stroke="none" stroke-width="0"/>
<rect x="159.60" y="443.10" width="1.05" height="14.30" fill="#a8a8a8" stroke="none" stroke-width="0" shape-rendering="crispEdges"/>
<rect x="160.60" y="443.10" width="0.75" height="14.30" fill="#ededed" stroke="none" stroke-width="0" shape-rendering="crispEdges"/>
<rect x="161.30" y="443.10" width="1.05" height="14.30" fill="#888888" stroke="none" stroke-width="0" shape-rendering="crispEdges"/>
<rect x="162.30" y="443.10" width="0.75" height="14.30" fill="#929292" stroke="none" stroke-width="0" shape-rendering="crispEdges"/>
<rect x="163.00" y="443.10" width="1.05" height="14.30" fill="#a4a4a4" stroke="none" stroke-width="0" shape-rendering="crispEdges"/>
<rect x="164.00" y="443.10" width="1.05" height="14.30" fill="#dfdfdf" stroke="none" stroke-width="0" shape-rendering="crispEdges"/>
<rect x="165.00" y="443.10" width="1.05" height="14.30" fill="#8d8d8d" stroke="none" stroke-width="0" shape-rendering="crispEdges"/>
<rect x="166.00" y="443.10" width="1.05" height="14.30" fill="#969696" stroke="none" stroke-width="0" shape-rendering="crispEdges"/>
<rect x="167.00" y="443.10" width="1.05" height="14.30" fill="#f4f4f4" stroke="none" stroke-width="0" shape-rendering="crispEdges"/>
<rect x="168.00" y="443.10" width="1.05" height="14.30" fill="#e2e2e2" stroke="none" stroke-width="0" shape-rendering="crispEdges"/>
<rect x="169.00" y="443.10" width="1.05" height="14.30" fill="#949494" stroke="none" stroke-width="0" shape-rendering="crispEdges"/>
<rect x="170.00" y="443.10" width="1.05" height="14.30" fill="#eaeaea" stroke="none" stroke-width="0" shape-rendering="crispEdges"/>
<rect x="171.00" y="443.10" width="1.05" height="14.30" fill="#a2a2a2" stroke="none" stroke-width="0" shape-rendering="crispEdges"/>
<rect x="172.00" y="443.10" width="1.05" height="14.30" fill="#838383" stroke="none" stroke-width="0" shape-rendering="crispEdges"/>
<rect x="173.00" y="443.10" width="1.05" height="14.30" fill="#898989" stroke="none" stroke-width="0" shape-rendering="crispEdges"/>
<rect x="174.00" y="443.10" width="1.05" height="14.30" fill="#a5a5a5" stroke="none" stroke-width="0" shape-rendering="crispEdges"/>
<rect x="175.00" y="443.10" width="1.05" height="14.30" fill="#9d9d9d" stroke="none" stroke-width="0" shape-rendering="crispEdges"/>
<rect x="176.00" y="443.10" width="1.35" height="14.30" fill="#b6b6b6" stroke="none" stroke-width="0" shape-rendering="crispEdges"/>
<rect x="177.30" y="443.10" width="0.75" height="14.30" fill="#bdbdbd" stroke="none" stroke-width="0" shape-rendering="crispEdges"/>
<rect x="178.00" y="443.10" width="1.05" height="14.30" fill="#838383" stroke="none" stroke-width="0" shape-rendering="crispEdges"/>
<rect x="179.00" y="443.10" width="1.35" height="14.30" fill="#9d9d9d" stroke="none" stroke-width="0" shape-rendering="crispEdges"/>
<rect x="180.30" y="443.10" width="1.05" height="14.30" fill="#9e9e9e" stroke="none" stroke-width="0" shape-rendering="crispEdges"/>
<rect x="181.30" y="443.10" width="0.75" height="14.30" fill="#b0b0b0" stroke="none" stroke-width="0" shape-rendering="crispEdges"/>
<rect x="182.00" y="443.10" width="1.05" height="14.30" fill="#848484" stroke="none" stroke-width="0" shape-rendering="crispEdges"/>
<rect x="183.00" y="443.10" width="1.05" height="14.30" fill="#868686" stroke="none" stroke-width="0" shape-rendering="crispEdges"/>
<rect x="184.00" y="443.10" width="1.05" height="14.30" fill="#c5c5c5" stroke="none" stroke-width="0" shape-rendering="crispEdges"/>
<rect x="185.00" y="443.10" width="1.05" height="14.30" fill="#a3a3a3" stroke="none" stroke-width="0" shape-rendering="crispEdges"/>
<rect x="186.00" y="443.10" width="1.05" height="14.30" fill="#eaeaea" stroke="none" stroke-width="0" shape-rendering="crispEdges"/>
<rect x="187.00" y="443.10" width="1.05" height="14.30" fill="#9b9b9b" stroke="none" stroke-width="0" shape-rendering="crispEdges"/>
<rect x="188.00" y="443.10" width="0.75" height="14.30" fill="#757575" stroke="none" stroke-width="0" shape-rendering="crispEdges"/>
<rect x="188.70" y="443.10" width="1.05" height="14.30" fill="#8f8f8f" stroke="none" stroke-width="0" shape-rendering="crispEdges"/>
<rect x="189.70" y="443.10" width="1.05" height="14.30" fill="#adadad" stroke="none" stroke-width="0" shape-rendering="crispEdges"/>
<rect x="190.70" y="443.10" width="0.75" height="14.30" fill="#787878" stroke="none" stroke-width="0" shape-rendering="crispEdges"/>
<rect x="191.40" y="443.10" width="1.05" height="14.30" fill="#9e9e9e" stroke="none" stroke-width="0" shape-rendering="crispEdges"/>
<rect x="192.40" y="443.10" width="0.75" height="14.30" fill="#a8a8a8" stroke="none" stroke-width="0" shape-rendering="crispEdges"/>
<rect x="193.10" y="443.10" width="0.75" height="14.30" fill="#e2e2e2" stroke="none" stroke-width="0" shape-rendering="crispEdges"/>
<rect x="193.80" y="443.10" width="1.05" height="14.30" fill="#dadada" stroke="none" stroke-width="0" shape-rendering="crispEdges"/>
<rect x="194.80" y="443.10" width="1.05" height="14.30" fill="#6d6d6d" stroke="none" stroke-width="0" shape-rendering="crispEdges"/>
<rect x="195.80" y="443.10" width="1.05" height="14.30" fill="#898989" stroke="none" stroke-width="0" shape-rendering="crispEdges"/>
<rect x="196.80" y="443.10" width="0.75" height="14.30" fill="#797979" stroke="none" stroke-width="0" shape-rendering="crispEdges"/>
<rect x="197.50" y="443.10" width="1.05" height="14.30" fill="#fefefe" stroke="none" stroke-width="0" shape-rendering="crispEdges"/>
<rect x="198.50" y="443.10" width="1.05" height="14.30" fill="#7f7f7f" stroke="none" stroke-width="0" shape-rendering="crispEdges"/>
<rect x="199.50" y="443.10" width="1.35" height="14.30" fill="#979797" stroke="none" stroke-width="0" shape-rendering="crispEdges"/>
<rect x="200.80" y="443.10" width="1.35" height="14.30" fill="#8d8d8d" stroke="none" stroke-width="0" shape-rendering="crispEdges"/>
<rect x="202.10" y="443.10" width="1.05" height="14.30" fill="#969696" stroke="none" stroke-width="0" shape-rendering="crispEdges"/>
<rect x="203.10" y="443.10" width="1.05" height="14.30" fill="#838383" stroke="none" stroke-width="0" shape-rendering="crispEdges"/>
<rect x="204.10" y="443.10" width="1.05" height="14.30" fill="#fefefe" stroke="none" stroke-width="0" shape-rendering="crispEdges"/>
<rect x="205.10" y="443.10" width="1.05" height="14.30" fill="#acacac" stroke="none" stroke-width="0" shape-rendering="crispEdges"/>
<rect x="206.10" y="443.10" width="1.35" height="14.30" fill="#7e7e7e" stroke="none" stroke-width="0" shape-rendering="crispEdges"/>
<rect x="207.40" y="443.10" width="0.75" height="14.30" fill="#727272" stroke="none" stroke-width="0" shape-rendering="crispEdges"/>
<rect x="208.10" y="443.10" width="0.75" height="14.30" fill="#d0d0d0" stroke="none" stroke-width="0" shape-rendering="crispEdges"/>
<rect x="208.80" y="443.10" width="1.05" height="14.30" fill="#9b9b9b" stroke="none" stroke-width="0" shape-rendering="crispEdges"/>
<rect x="209.80" y="443.10" width="1.35" height="14.30" fill="#8b8b8b" stroke="none" stroke-width="0" shape-rendering="crispEdges"/>
<rect x="211.10" y="443.10" width="1.05" height="14.30" fill="#878787" stroke="none" stroke-width="0" shape-rendering="crispEdges"/>
<rect x="212.10" y="443.10" width="1.05" height="14.30" fill="#9b9b9b" stroke="none" stroke-width="0" shape-rendering="crispEdges"/>
<rect x="213.10" y="443.10" width="1.05" height="14.30" fill="#d3d3d3" stroke="none" stroke-width="0" shape-rendering="crispEdges"/>
<rect x="214.10" y="443.10" width="1.05" height="14.30" fill="#fdfdfd" stroke="none" stroke-width="0" shape-rendering="crispEdges"/>
<rect x="215.10" y="443.10" width="1.05" height="14.30" fill="#bbbbbb" stroke="none" stroke-width="0" shape-rendering="crispEdges"/>
<rect x="216.10" y="443.10" width="1.05" height="14.30" fill="#ffffff" stroke="none" stroke-width="0" shape-rendering="crispEdges"/>
<rect x="217.10" y="443.10" width="1.35" height="14.30" fill="#c4c4c4" stroke="none" stroke-width="0" shape-rendering="crispEdges"/>
<rect x="218.40" y="443.10" width="1.05" height="14.30" fill="#787878" stroke="none" stroke-width="0" shape-rendering="crispEdges"/>
<rect x="219.40" y="443.10" width="1.05" height="14.30" fill="#ffffff" stroke="none" stroke-width="0" shape-rendering="crispEdges"/>
<rect x="220.40" y="443.10" width="0.75" height="14.30" fill="#bfbfbf" stroke="none" stroke-width="0" shape-rendering="crispEdges"/>
<rect x="221.10" y="443.10" width="1.35" height="14.30" fill="#797979" stroke="none" stroke-width="0" shape-rendering="crispEdges"/>
<rect x="222.40" y="443.10" width="1.05" height="14.30" fill="#f4f4f4" stroke="none" stroke-width="0" shape-rendering="crispEdges"/>
<rect x="223.40" y="443.10" width="1.05" height="14.30" fill="#9b9b9b" stroke="none" stroke-width="0" shape-rendering="crispEdges"/>
<rect x="224.40" y="443.10" width="1.35" height="14.30" fill="#a0a0a0" stroke="none" stroke-width="0" shape-rendering="crispEdges"/>
<rect x="225.70" y="443.10" width="0.75" height="14.30" fill="#acacac" stroke="none" stroke-width="0" shape-rendering="crispEdges"/>
<rect x="226.40" y="443.10" width="1.05" height="14.30" fill="#b8b8b8" stroke="none" stroke-width="0" shape-rendering="crispEdges"/>
<rect x="227.40" y="443.10" width="0.75" height="14.30" fill="#b9b9b9" stroke="none" stroke-width="0" shape-rendering="crispEdges"/>
<rect x="228.10" y="443.10" width="1.05" height="14.30" fill="#c1c1c1" stroke="none" stroke-width="0" shape-rendering="crispEdges"/>
<rect x="229.10" y="443.10" width="1.35" height="14.30" fill="#131313" stroke="none" stroke-width="0" shape-rendering="crispEdges"/>
<rect x="230.40" y="443.10" width="1.35" height="14.30" fill="#ababab" stroke="none" stroke-width="0" shape-rendering="crispEdges"/>
<rect x="231.70" y="443.10" width="1.35" height="14.30" fill="#8e8e8e" stroke="none" stroke-width="0" shape-rendering="crispEdges"/>
<rect x="233.00" y="443.10" width="1.05" height="14.30" fill="#a3a3a3" stroke="none" stroke-width="0" shape-rendering="crispEdges"/>
<rect x="234.00" y="443.10" width="1.35" height="14.30" fill="#969696" stroke="none" stroke-width="0" shape-rendering="crispEdges"/>
<rect x="235.30" y="443.10" width="1.05" height="14.30" fill="#818181" stroke="none" stroke-width="0" shape-rendering="crispEdges"/>
<rect x="236.30" y="443.10" width="1.35" height="14.30" fill="#ababab" stroke="none" stroke-width="0" shape-rendering="crispEdges"/>
<rect x="237.60" y="443.10" width="1.05" height="14.30" fill="#e5e5e5" stroke="none" stroke-width="0" shape-rendering="crispEdges"/>
<rect x="238.60" y="443.10" width="1.05" height="14.30" fill="#999999" stroke="none" stroke-width="0" shape-rendering="crispEdges"/>
<rect x="239.60" y="443.10" width="1.05" height="14.30" fill="#000000" stroke="none" stroke-width="0" shape-rendering="crispEdges"/>
<rect x="240.60" y="443.10" width="1.05" height="14.30" fill="#eaeaea" stroke="none" stroke-width="0" shape-rendering="crispEdges"/>
<rect x="241.60" y="443.10" width="0.75" height="14.30" fill="#818181" stroke="none" stroke-width="0" shape-rendering="crispEdges"/>
<rect x="242.30" y="443.10" width="1.35" height="14.30" fill="#bababa" stroke="none" stroke-width="0" shape-rendering="crispEdges"/>
<rect x="243.60" y="443.10" width="1.05" height="14.30" fill="#b3b3b3" stroke="none" stroke-width="0" shape-rendering="crispEdges"/>
<rect x="244.60" y="443.10" width="1.05" height="14.30" fill="#d3d3d3" stroke="none" stroke-width="0" shape-rendering="crispEdges"/>
<rect x="245.60" y="443.10" width="0.75" height="14.30" fill="#a8a8a8" stroke="none" stroke-width="0" shape-rendering="crispEdges"/>
<rect x="246.30" y="443.10" width="1.35" height="14.30" fill="#ababab" stroke="none" stroke-width="0" shape-rendering="crispEdges"/>
<rect x="247.60" y="443.10" width="1.05" height="14.30" fill="#9a9a9a" stroke="none" stroke-width="0" shape-rendering="crispEdges"/>
<rect x="248.60" y="443.10" width="1.35" height="14.30" fill="#bababa" stroke="none" stroke-width="0" shape-rendering="crispEdges"/>
<rect x="249.90" y="443.10" width="1.05" height="14.30" fill="#9c9c9c" stroke="none" stroke-width="0" shape-rendering="crispEdges"/>
<rect x="250.90" y="443.10" width="1.05" height="14.30" fill="#dedede" stroke="none" stroke-width="0" shape-rendering="crispEdges"/>
<rect x="251.90" y="443.10" width="1.05" height="14.30" fill="#a7a7a7" stroke="none" stroke-width="0" shape-rendering="crispEdges"/>
<rect x="252.90" y="443.10" width="1.05" height="14.30" fill="#fafafa" stroke="none" stroke-width="0" shape-rendering="crispEdges"/>
<rect x="253.90" y="443.10" width="0.65" height="14.30" fill="#a7a7a7" stroke="none" stroke-width="0" shape-rendering="crispEdges"/>
<linearGradient id="g1213" x1="0" x2="1" y1="0" y2="0"><stop offset="0" stop-color="#ee4a55"/><stop offset="1" stop-color="#f07a88"/></linearGradient>
<rect x="159.60" y="457.40" width="29.03" height="4.00" fill="url(#g1213)" stroke="none" stroke-width="0"/>
<linearGradient id="g1215" x1="0" x2="1" y1="0" y2="0"><stop offset="0" stop-color="#f0a6d8"/><stop offset="1" stop-color="#f2b8e0"/></linearGradient>
<rect x="188.43" y="457.40" width="16.54" height="4.00" fill="url(#g1215)" stroke="none" stroke-width="0"/>
<linearGradient id="g1217" x1="0" x2="1" y1="0" y2="0"><stop offset="0" stop-color="#d8d8fa"/><stop offset="1" stop-color="#cccaf6"/></linearGradient>
<rect x="204.77" y="457.40" width="28.07" height="4.00" fill="url(#g1217)" stroke="none" stroke-width="0"/>
<linearGradient id="g1219" x1="0" x2="1" y1="0" y2="0"><stop offset="0" stop-color="#6a66ee"/><stop offset="1" stop-color="#3c34d8"/></linearGradient>
<rect x="232.64" y="457.40" width="23.26" height="4.00" fill="url(#g1219)" stroke="none" stroke-width="0"/>
<polyline points="159.40,431.31 160.25,431.06 161.10,431.72 162.30,433.06 163.50,434.85 164.35,436.19 165.20,437.15 165.75,435.26 166.30,433.33 166.90,435.46 167.50,436.50 168.35,438.34 169.20,439.11 170.10,437.93 171.00,436.21 171.85,433.34 172.70,431.16 173.55,429.41 174.40,428.39 175.25,429.26 176.10,431.15 177.00,430.05 177.90,428.36 178.75,428.01 179.60,426.54 180.20,427.67 180.80,428.54 181.65,425.59 182.50,421.98 183.35,420.38 184.20,418.32 184.80,419.85 185.40,419.66 185.95,418.28 186.50,415.69 187.40,413.88 188.30,412.31 189.15,410.87 190.00,410.47 190.55,409.51 191.10,408.32 192.25,408.99 193.40,411.25 194.55,412.50 195.70,414.58 196.60,413.82 197.50,412.15 198.35,411.09 199.20,411.06 200.05,406.38 200.90,403.20 202.05,400.00 203.20,397.60 204.20,399.96 205.20,401.94 206.05,403.33 206.90,404.23 207.80,402.27 208.70,401.44 209.55,402.51 210.40,404.63 211.55,406.04 212.70,406.98 213.55,406.85 214.40,408.10 215.25,405.96 216.10,405.49 217.00,407.62 217.90,409.91 218.75,411.41 219.60,413.23 220.75,412.65 221.90,410.62 223.05,413.13 224.20,414.97 225.35,415.79 226.50,415.58 227.40,418.65 228.30,421.04 229.15,421.87 230.00,422.78 230.85,422.38 231.70,421.38 232.85,422.56 234.00,423.21 234.90,424.62 235.80,426.21 236.95,428.07 238.10,429.35 238.95,433.44 239.80,436.43 240.65,433.33 241.50,431.48 242.65,432.95 243.80,434.00 244.95,432.91 246.10,431.26 247.00,429.65 247.90,427.28 249.05,429.02 250.20,429.57 251.35,431.43 252.50,433.30 253.35,434.49 254.20,435.41 254.90,436.13 255.60,437.30" fill="none" stroke="#10f010" stroke-width="1.9" stroke-linejoin="round"/>
<text x="160.91" y="383.30" font-size="10.6" font-weight="normal" fill="#231f20" textLength="95.07" lengthAdjust="spacingAndGlyphs" stroke="#231f20" stroke-width="0.25">STAT5 target genes</text>
<text x="175.28" y="393.70" font-size="5.0" font-weight="normal" fill="#444" textLength="67.37" lengthAdjust="spacingAndGlyphs">Enrichment plot VSSTAT5A_04</text>
<text x="180.51" y="431.00" font-size="7.4" font-weight="normal" fill="#231f20" textLength="45.71" lengthAdjust="spacingAndGlyphs" stroke="#231f20" stroke-width="0.125">N.E.S. =2.017</text>
<text x="180.41" y="440.00" font-size="7.4" font-weight="normal" fill="#231f20" textLength="52.43" lengthAdjust="spacingAndGlyphs" stroke="#231f20" stroke-width="0.125">F.D.R. q = 0.028</text>
<text x="160.79" y="478.90" font-size="8.6" font-weight="normal" fill="#231f20" textLength="40.09" lengthAdjust="spacingAndGlyphs" stroke="#231f20" stroke-width="0.25">Increased</text>
<text x="158.31" y="488.90" font-size="8.6" font-weight="normal" fill="#231f20" textLength="45.35" lengthAdjust="spacingAndGlyphs" stroke="#231f20" stroke-width="0.25">in OTX P/R</text>
<text x="212.13" y="478.90" font-size="8.6" font-weight="normal" fill="#231f20" textLength="43.34" lengthAdjust="spacingAndGlyphs" stroke="#231f20" stroke-width="0.25">Decreased</text>
<text x="211.01" y="488.90" font-size="8.6" font-weight="normal" fill="#231f20" textLength="46.94" lengthAdjust="spacingAndGlyphs" stroke="#231f20" stroke-width="0.25">in OTX P/R</text>
<line x1="161.30" y1="466.20" x2="205.80" y2="466.20" stroke="#b1243c" stroke-width="1.2"/>
<path d="M157.30,466.20 L163.80,463.60 L162.30,466.20 L163.80,468.80 Z" fill="#b1243c"/>
<line x1="208.60" y1="466.20" x2="254.50" y2="466.20" stroke="#2f4f8f" stroke-width="1.2"/>
<path d="M258.50,466.20 L252.00,463.60 L253.50,466.20 L252.00,468.80 Z" fill="#2f4f8f"/>
<rect x="279.50" y="240.50" width="233.10" height="27.10" fill="#e7bac6" stroke="none" stroke-width="0"/>
<line x1="278.80" y1="240.50" x2="513.30" y2="240.50" stroke="#111" stroke-width="1.3"/>
<line x1="278.80" y1="267.60" x2="513.30" y2="267.60" stroke="#111" stroke-width="1.3"/>
<line x1="278.80" y1="281.10" x2="513.30" y2="281.10" stroke="#111" stroke-width="1.3"/>
<line x1="278.80" y1="308.30" x2="513.30" y2="308.30" stroke="#111" stroke-width="1.3"/>
<line x1="278.80" y1="322.30" x2="513.30" y2="322.30" stroke="#111" stroke-width="1.3"/>
<line x1="278.80" y1="349.60" x2="513.30" y2="349.60" stroke="#111" stroke-width="1.3"/>
<line x1="278.80" y1="400.30" x2="513.30" y2="400.30" stroke="#111" stroke-width="1.3"/>
<line x1="279.50" y1="240.50" x2="279.50" y2="400.30" stroke="#111" stroke-width="1.3"/>
<line x1="512.60" y1="240.50" x2="512.60" y2="400.30" stroke="#111" stroke-width="1.3"/>
<text x="304.13" y="251.00" font-size="8.7" font-weight="normal" fill="#231f20" textLength="141.40" lengthAdjust="spacingAndGlyphs" stroke="#231f20" stroke-width="0.25">Pathways enriched in HEL-OTX P/R</text>
<text x="327.70" y="261.00" font-size="8.7" font-weight="normal" fill="#231f20" textLength="94.74" lengthAdjust="spacingAndGlyphs" stroke="#231f20" stroke-width="0.25">and SET2-0TX P/R cells</text>
<text x="472.40" y="255.80" font-size="8.7" font-weight="normal" fill="#231f20" textLength="31.25" lengthAdjust="spacingAndGlyphs" stroke="#231f20" stroke-width="0.25">p-Value</text>
<text x="315.02" y="277.90" font-size="8.7" font-weight="normal" fill="#231f20" textLength="117.87" lengthAdjust="spacingAndGlyphs" stroke="#231f20" stroke-width="0.25">WNT_SIGNALING_PATHWAY</text>
<text x="468.48" y="277.00" font-size="8.7" font-weight="normal" fill="#231f20" textLength="38.04" lengthAdjust="spacingAndGlyphs" stroke="#231f20" stroke-width="0.25">0.015967</text>
<text x="308.58" y="291.60" font-size="8.7" font-weight="normal" fill="#231f20" textLength="129.32" lengthAdjust="spacingAndGlyphs" stroke="#231f20" stroke-width="0.25">REGULATION_OF_STEM_CELL_</text>
<text x="339.57" y="301.60" font-size="8.7" font-weight="normal" fill="#231f20" textLength="68.01" lengthAdjust="spacingAndGlyphs" stroke="#231f20" stroke-width="0.25">PROLIFERATION</text>
<text x="469.69" y="296.80" font-size="8.7" font-weight="normal" fill="#231f20" textLength="36.86" lengthAdjust="spacingAndGlyphs" stroke="#231f20" stroke-width="0.25">0.007825</text>
<text x="309.10" y="318.00" font-size="8.7" font-weight="normal" fill="#231f20" textLength="129.44" lengthAdjust="spacingAndGlyphs" stroke="#231f20" stroke-width="0.25">STEM_CELL_DIFFERENTIATION</text>
<text x="469.69" y="317.80" font-size="8.7" font-weight="normal" fill="#231f20" textLength="36.91" lengthAdjust="spacingAndGlyphs" stroke="#231f20" stroke-width="0.25">0.002983</text>
<text x="295.42" y="333.50" font-size="8.7" font-weight="normal" fill="#231f20" textLength="158.12" lengthAdjust="spacingAndGlyphs" stroke="#231f20" stroke-width="0.25">POSITIVE_REGULATION_OF_PROTEIN</text>
<text x="326.08" y="343.80" font-size="8.7" font-weight="normal" fill="#231f20" textLength="97.43" lengthAdjust="spacingAndGlyphs" stroke="#231f20" stroke-width="0.25">_METABOLIC_PROCESS</text>
<text x="469.76" y="340.30" font-size="8.7" font-weight="normal" fill="#231f20" textLength="35.89" lengthAdjust="spacingAndGlyphs" stroke="#231f20" stroke-width="0.25">7.52E-05</text>
<text x="297.71" y="372.60" font-size="8.7" font-weight="normal" fill="#231f20" textLength="152.97" lengthAdjust="spacingAndGlyphs" stroke="#231f20" stroke-width="0.25">NEGATIVE_REGULATION_OF_GENE_</text>
<text x="347.05" y="383.40" font-size="8.7" font-weight="normal" fill="#231f20" textLength="54.52" lengthAdjust="spacingAndGlyphs" stroke="#231f20" stroke-width="0.25">EXPRESSION</text>
<text x="469.80" y="378.90" font-size="8.7" font-weight="normal" fill="#231f20" textLength="35.89" lengthAdjust="spacingAndGlyphs" stroke="#231f20" stroke-width="0.25">4.82E-09</text>
<line x1="19.00" y1="513.40" x2="19.00" y2="706.40" stroke="#111" stroke-width="1.2"/>
<line x1="92.60" y1="513.40" x2="92.60" y2="706.40" stroke="#111" stroke-width="1.2"/>
<line x1="176.60" y1="513.40" x2="176.60" y2="706.40" stroke="#111" stroke-width="1.2"/>
<line x1="253.30" y1="513.40" x2="253.30" y2="706.40" stroke="#111" stroke-width="1.2"/>
<line x1="328.40" y1="513.40" x2="328.40" y2="706.40" stroke="#111" stroke-width="1.2"/>
<line x1="405.20" y1="513.40" x2="405.20" y2="706.40" stroke="#111" stroke-width="1.2"/>
<line x1="19.00" y1="514.00" x2="405.20" y2="514.00" stroke="#111" stroke-width="1.2"/>
<line x1="19.00" y1="543.30" x2="405.20" y2="543.30" stroke="#111" stroke-width="1.2"/>
<line x1="19.00" y1="556.84" x2="405.20" y2="556.84" stroke="#111" stroke-width="1.2"/>
<line x1="19.00" y1="570.38" x2="405.20" y2="570.38" stroke="#111" stroke-width="1.2"/>
<line x1="19.00" y1="583.92" x2="405.20" y2="583.92" stroke="#111" stroke-width="1.2"/>
<line x1="19.00" y1="597.47" x2="405.20" y2="597.47" stroke="#111" stroke-width="1.2"/>
<line x1="19.00" y1="611.01" x2="405.20" y2="611.01" stroke="#111" stroke-width="1.2"/>
<line x1="19.00" y1="624.55" x2="405.20" y2="624.55" stroke="#111" stroke-width="1.2"/>
<line x1="19.00" y1="638.09" x2="405.20" y2="638.09" stroke="#111" stroke-width="1.2"/>
<line x1="19.00" y1="651.63" x2="405.20" y2="651.63" stroke="#111" stroke-width="1.2"/>
<line x1="19.00" y1="665.17" x2="405.20" y2="665.17" stroke="#111" stroke-width="1.2"/>
<line x1="19.00" y1="678.72" x2="405.20" y2="678.72" stroke="#111" stroke-width="1.2"/>
<line x1="19.00" y1="692.26" x2="405.20" y2="692.26" stroke="#111" stroke-width="1.2"/>
<line x1="19.00" y1="705.80" x2="405.20" y2="705.80" stroke="#111" stroke-width="1.2"/>
<text x="55.80" y="530.40" font-size="8.8" font-weight="normal" fill="#231f20" text-anchor="middle" stroke="#231f20" stroke-width="0.25">mRNA</text>
<text x="134.60" y="525.80" font-size="8.8" font-weight="normal" fill="#231f20" text-anchor="middle" stroke="#231f20" stroke-width="0.25">SET-2-OTX P/R</text>
<text x="134.60" y="536.30" font-size="8.8" font-weight="normal" fill="#231f20" text-anchor="middle" stroke="#231f20" stroke-width="0.25">over SET-2</text>
<text x="213.90" y="531.40" font-size="8.8" font-weight="normal" fill="#231f20" text-anchor="middle" stroke="#231f20" stroke-width="0.25">p-value</text>
<text x="290.85" y="525.80" font-size="8.8" font-weight="normal" fill="#231f20" text-anchor="middle" stroke="#231f20" stroke-width="0.25">HEL-OTX P/R</text>
<text x="290.85" y="536.30" font-size="8.8" font-weight="normal" fill="#231f20" text-anchor="middle" stroke="#231f20" stroke-width="0.25">over HEL</text>
<text x="366.80" y="531.40" font-size="8.8" font-weight="normal" fill="#231f20" text-anchor="middle" stroke="#231f20" stroke-width="0.25">p-value</text>
<text x="55.80" y="552.15" font-size="8.8" font-weight="normal" fill="#231f20" text-anchor="middle" stroke="#231f20" stroke-width="0.25">TCF7L2</text>
<text x="134.60" y="552.15" font-size="8.8" font-weight="normal" fill="#231f20" text-anchor="middle" stroke="#231f20" stroke-width="0.25">1.460</text>
<text x="213.90" y="552.15" font-size="8.8" font-weight="normal" fill="#231f20" text-anchor="middle" stroke="#231f20" stroke-width="0.25">6.167E-05</text>
<text x="290.85" y="552.15" font-size="8.8" font-weight="normal" fill="#231f20" text-anchor="middle" stroke="#231f20" stroke-width="0.25">2.018</text>
<text x="366.80" y="552.15" font-size="8.8" font-weight="normal" fill="#231f20" text-anchor="middle" stroke="#231f20" stroke-width="0.25">0.00177</text>
<text x="55.80" y="565.74" font-size="8.8" font-weight="normal" fill="#231f20" text-anchor="middle" stroke="#231f20" stroke-width="0.25">JMJD6</text>
<text x="134.60" y="565.74" font-size="8.8" font-weight="normal" fill="#231f20" text-anchor="middle" stroke="#231f20" stroke-width="0.25">1.462</text>
<text x="213.90" y="565.74" font-size="8.8" font-weight="normal" fill="#231f20" text-anchor="middle" stroke="#231f20" stroke-width="0.25">0.013748</text>
<text x="290.85" y="565.74" font-size="8.8" font-weight="normal" fill="#231f20" text-anchor="middle" stroke="#231f20" stroke-width="0.25">1.515</text>
<text x="366.80" y="565.74" font-size="8.8" font-weight="normal" fill="#231f20" text-anchor="middle" stroke="#231f20" stroke-width="0.25">0.008134</text>
<text x="55.80" y="579.32" font-size="8.8" font-weight="normal" fill="#231f20" text-anchor="middle" stroke="#231f20" stroke-width="0.25">MYC</text>
<text x="134.60" y="579.32" font-size="8.8" font-weight="normal" fill="#231f20" text-anchor="middle" stroke="#231f20" stroke-width="0.25">1.365</text>
<text x="213.90" y="579.32" font-size="8.8" font-weight="normal" fill="#231f20" text-anchor="middle" stroke="#231f20" stroke-width="0.25">0.000115</text>
<text x="290.85" y="579.32" font-size="8.8" font-weight="normal" fill="#231f20" text-anchor="middle" stroke="#231f20" stroke-width="0.25">1.219</text>
<text x="366.80" y="579.32" font-size="8.8" font-weight="normal" fill="#231f20" text-anchor="middle" stroke="#231f20" stroke-width="0.25">0.039932</text>
<text x="55.80" y="592.90" font-size="8.8" font-weight="normal" fill="#231f20" text-anchor="middle" stroke="#231f20" stroke-width="0.25">MYB</text>
<text x="134.60" y="592.90" font-size="8.8" font-weight="normal" fill="#231f20" text-anchor="middle" stroke="#231f20" stroke-width="0.25">1.188</text>
<text x="213.90" y="592.90" font-size="8.8" font-weight="normal" fill="#231f20" text-anchor="middle" stroke="#231f20" stroke-width="0.25">0.001331</text>
<text x="290.85" y="592.90" font-size="8.8" font-weight="normal" fill="#231f20" text-anchor="middle" stroke="#231f20" stroke-width="0.25">1.618</text>
<text x="366.80" y="592.90" font-size="8.8" font-weight="normal" fill="#231f20" text-anchor="middle" stroke="#231f20" stroke-width="0.25">0.024205</text>
<text x="55.80" y="606.49" font-size="8.8" font-weight="normal" fill="#231f20" text-anchor="middle" stroke="#231f20" stroke-width="0.25">PU.1</text>
<text x="134.60" y="606.49" font-size="8.8" font-weight="normal" fill="#231f20" text-anchor="middle" stroke="#231f20" stroke-width="0.25">1.643</text>
<text x="213.90" y="606.49" font-size="8.8" font-weight="normal" fill="#231f20" text-anchor="middle" stroke="#231f20" stroke-width="0.25">2.906E-08</text>
<text x="290.85" y="606.49" font-size="8.8" font-weight="normal" fill="#231f20" text-anchor="middle" stroke="#231f20" stroke-width="0.25">1.377</text>
<text x="366.80" y="606.49" font-size="8.8" font-weight="normal" fill="#231f20" text-anchor="middle" stroke="#231f20" stroke-width="0.25">0.002601</text>
<text x="55.80" y="620.07" font-size="8.8" font-weight="normal" fill="#231f20" text-anchor="middle" stroke="#231f20" stroke-width="0.25">PIM1</text>
<text x="134.60" y="620.07" font-size="8.8" font-weight="normal" fill="#231f20" text-anchor="middle" stroke="#231f20" stroke-width="0.25">1.273</text>
<text x="213.90" y="620.07" font-size="8.8" font-weight="normal" fill="#231f20" text-anchor="middle" stroke="#231f20" stroke-width="0.25">0.212925</text>
<text x="290.85" y="620.07" font-size="8.8" font-weight="normal" fill="#231f20" text-anchor="middle" stroke="#231f20" stroke-width="0.25">1.428</text>
<text x="366.80" y="620.07" font-size="8.8" font-weight="normal" fill="#231f20" text-anchor="middle" stroke="#231f20" stroke-width="0.25">5.639E-05</text>
<text x="55.80" y="633.66" font-size="8.8" font-weight="normal" fill="#231f20" text-anchor="middle" stroke="#231f20" stroke-width="0.25">Bcl-xL</text>
<text x="134.60" y="633.66" font-size="8.8" font-weight="normal" fill="#231f20" text-anchor="middle" stroke="#231f20" stroke-width="0.25">1.408</text>
<text x="213.90" y="633.66" font-size="8.8" font-weight="normal" fill="#231f20" text-anchor="middle" stroke="#231f20" stroke-width="0.25">8.76E-05</text>
<text x="290.85" y="633.66" font-size="8.8" font-weight="normal" fill="#231f20" text-anchor="middle" stroke="#231f20" stroke-width="0.25">1.281</text>
<text x="366.80" y="633.66" font-size="8.8" font-weight="normal" fill="#231f20" text-anchor="middle" stroke="#231f20" stroke-width="0.25">0.033791</text>
<text x="55.80" y="647.25" font-size="8.8" font-weight="normal" fill="#231f20" text-anchor="middle" stroke="#231f20" stroke-width="0.25">Mcl-1</text>
<text x="134.60" y="647.25" font-size="8.8" font-weight="normal" fill="#231f20" text-anchor="middle" stroke="#231f20" stroke-width="0.25">1.284</text>
<text x="213.90" y="647.25" font-size="8.8" font-weight="normal" fill="#231f20" text-anchor="middle" stroke="#231f20" stroke-width="0.25">0.01235</text>
<text x="290.85" y="647.25" font-size="8.8" font-weight="normal" fill="#231f20" text-anchor="middle" stroke="#231f20" stroke-width="0.25">1.149</text>
<text x="366.80" y="647.25" font-size="8.8" font-weight="normal" fill="#231f20" text-anchor="middle" stroke="#231f20" stroke-width="0.25">0.0109</text>
<text x="55.80" y="660.83" font-size="8.8" font-weight="normal" fill="#231f20" text-anchor="middle" stroke="#231f20" stroke-width="0.25">Survivin</text>
<text x="134.60" y="660.83" font-size="8.8" font-weight="normal" fill="#231f20" text-anchor="middle" stroke="#231f20" stroke-width="0.25">1.332</text>
<text x="213.90" y="660.83" font-size="8.8" font-weight="normal" fill="#231f20" text-anchor="middle" stroke="#231f20" stroke-width="0.25">0.007087</text>
<text x="290.85" y="660.83" font-size="8.8" font-weight="normal" fill="#231f20" text-anchor="middle" stroke="#231f20" stroke-width="0.25">0.881</text>
<text x="366.80" y="660.83" font-size="8.8" font-weight="normal" fill="#231f20" text-anchor="middle" stroke="#231f20" stroke-width="0.25">0.8788</text>
<text x="55.80" y="674.41" font-size="8.8" font-weight="normal" fill="#231f20" text-anchor="middle" stroke="#231f20" stroke-width="0.25">CDK4</text>
<text x="134.60" y="674.41" font-size="8.8" font-weight="normal" fill="#231f20" text-anchor="middle" stroke="#231f20" stroke-width="0.25">1.341</text>
<text x="213.90" y="674.41" font-size="8.8" font-weight="normal" fill="#231f20" text-anchor="middle" stroke="#231f20" stroke-width="0.25">0.01682</text>
<text x="290.85" y="674.41" font-size="8.8" font-weight="normal" fill="#231f20" text-anchor="middle" stroke="#231f20" stroke-width="0.25">1.011</text>
<text x="366.80" y="674.41" font-size="8.8" font-weight="normal" fill="#231f20" text-anchor="middle" stroke="#231f20" stroke-width="0.25">0.228158</text>
<text x="55.80" y="688.00" font-size="8.8" font-weight="normal" fill="#231f20" text-anchor="middle" stroke="#231f20" stroke-width="0.25">CDK6</text>
<text x="134.60" y="688.00" font-size="8.8" font-weight="normal" fill="#231f20" text-anchor="middle" stroke="#231f20" stroke-width="0.25">0.808</text>
<text x="213.90" y="688.00" font-size="8.8" font-weight="normal" fill="#231f20" text-anchor="middle" stroke="#231f20" stroke-width="0.25">0.03183</text>
<text x="290.85" y="688.00" font-size="8.8" font-weight="normal" fill="#231f20" text-anchor="middle" stroke="#231f20" stroke-width="0.25">0.840</text>
<text x="366.80" y="688.00" font-size="8.8" font-weight="normal" fill="#231f20" text-anchor="middle" stroke="#231f20" stroke-width="0.25">0.134384</text>
<text x="55.80" y="701.58" font-size="8.8" font-weight="normal" fill="#231f20" text-anchor="middle" stroke="#231f20" stroke-width="0.25">RUNX1</text>
<text x="134.60" y="701.58" font-size="8.8" font-weight="normal" fill="#231f20" text-anchor="middle" stroke="#231f20" stroke-width="0.25">1.343</text>
<text x="213.90" y="701.58" font-size="8.8" font-weight="normal" fill="#231f20" text-anchor="middle" stroke="#231f20" stroke-width="0.25">0.0004104</text>
<text x="290.85" y="701.58" font-size="8.8" font-weight="normal" fill="#231f20" text-anchor="middle" stroke="#231f20" stroke-width="0.25">1.245</text>
<text x="366.80" y="701.58" font-size="8.8" font-weight="normal" fill="#231f20" text-anchor="middle" stroke="#231f20" stroke-width="0.25">2.219E-06</text>
</svg>
<div class="frame"></div>
</body></html>
